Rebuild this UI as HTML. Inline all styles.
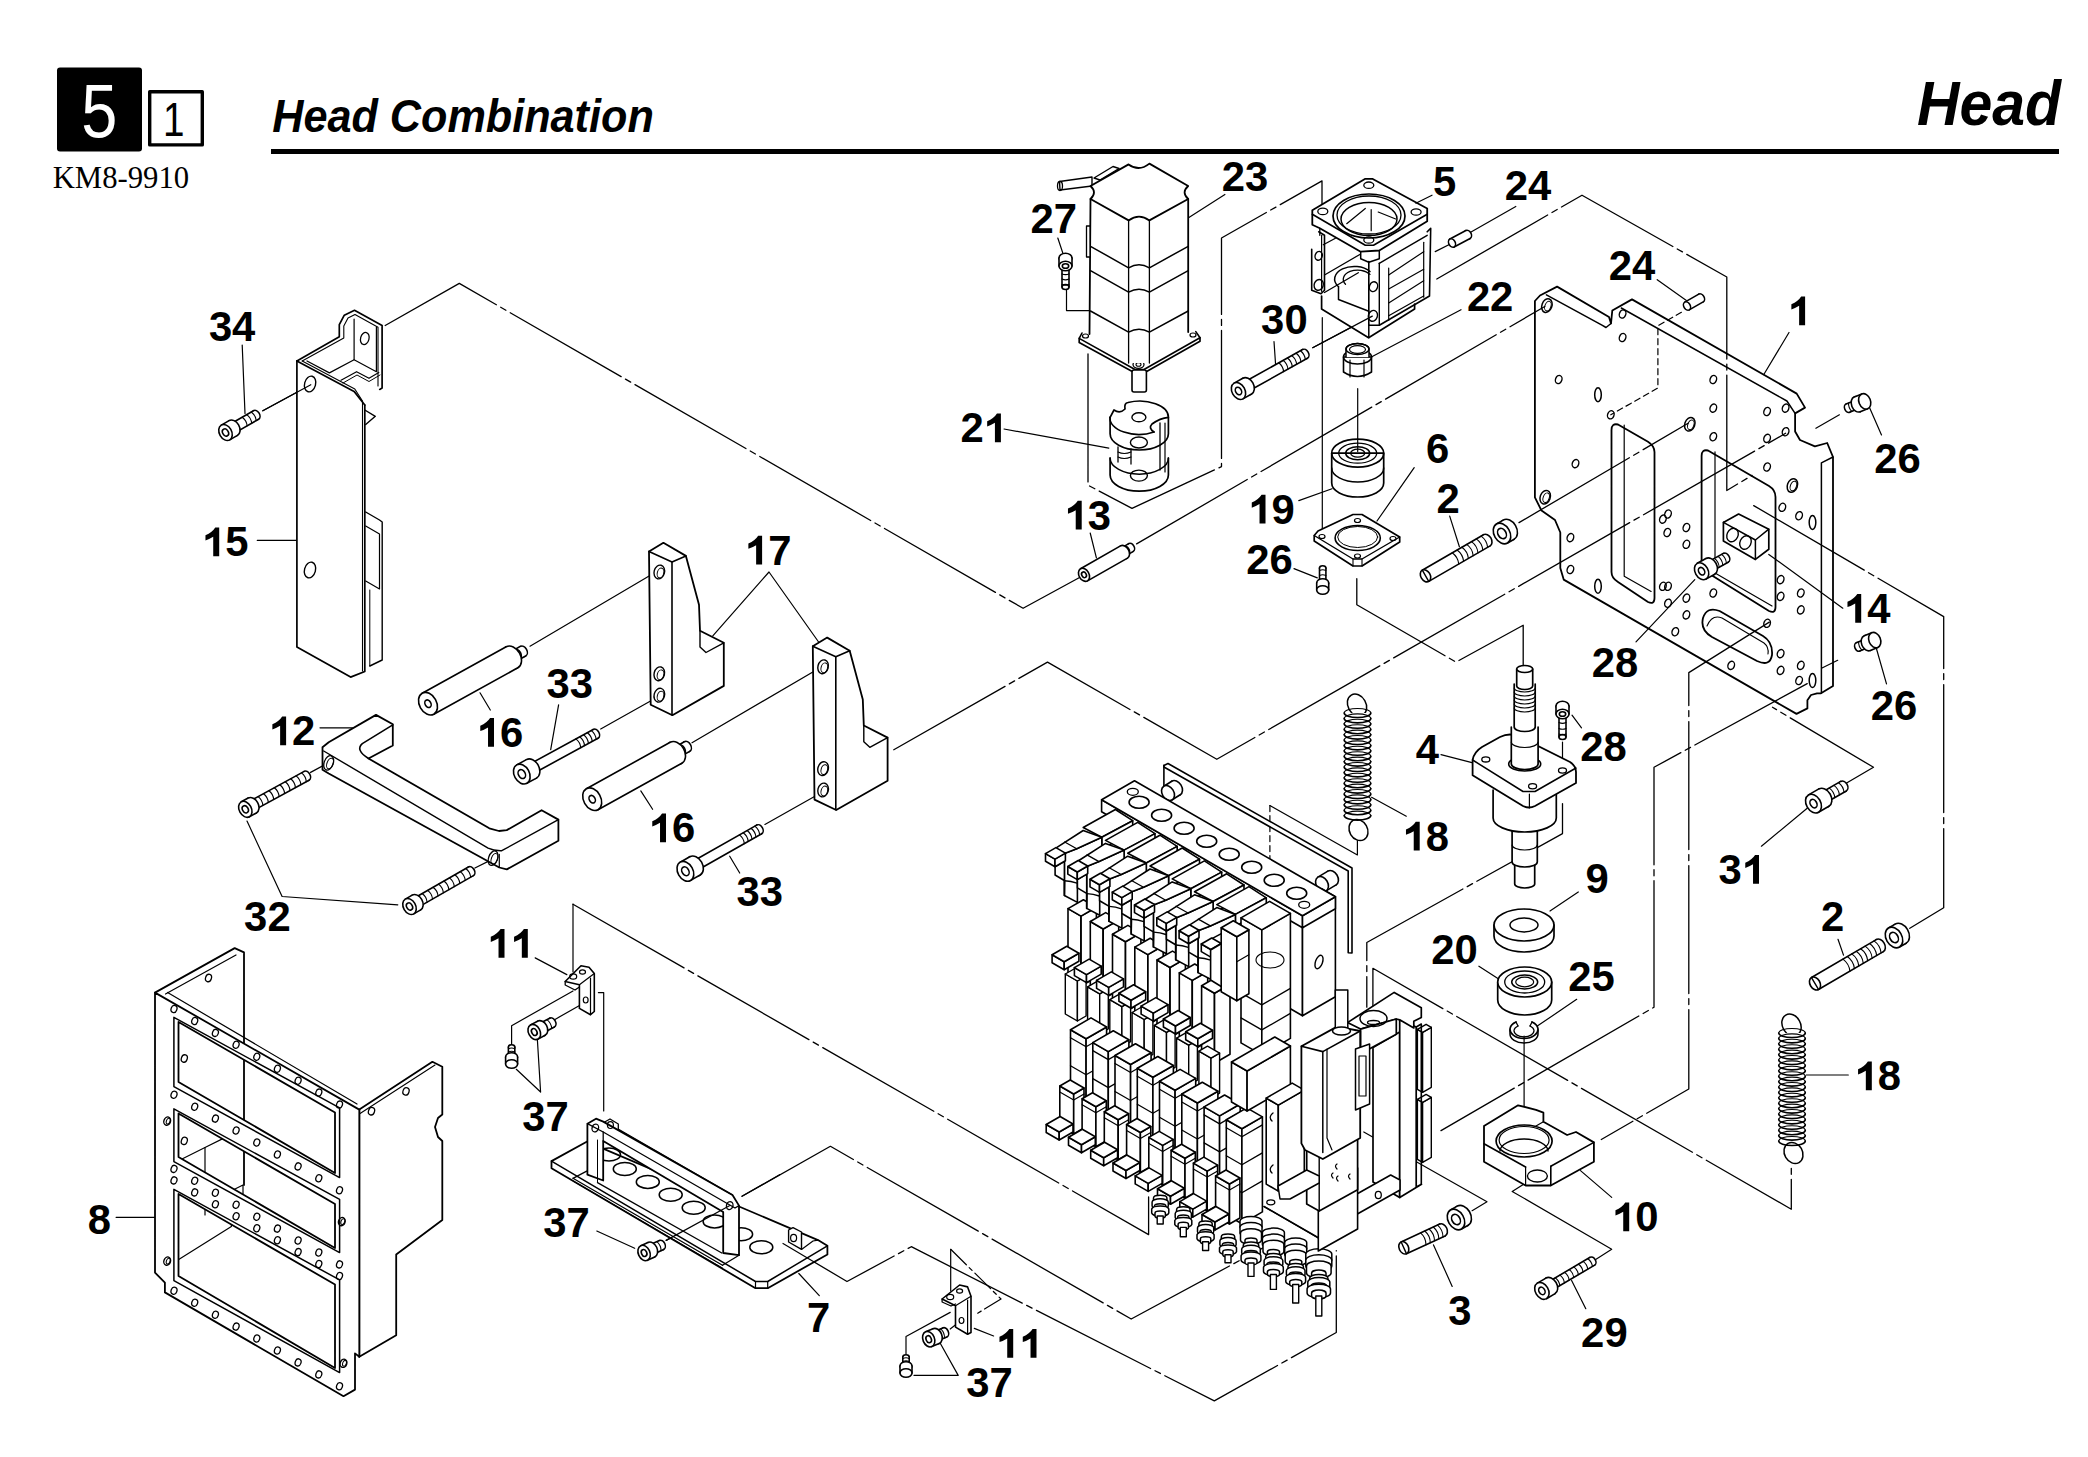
<!DOCTYPE html>
<html><head><meta charset="utf-8"><style>
html,body{margin:0;padding:0;background:#fff;width:2088px;height:1457px;overflow:hidden}
svg{display:block}
</style></head><body>
<svg width="2088" height="1457" viewBox="0 0 2088 1457" stroke="#000" stroke-linejoin="round" stroke-linecap="round" fill="none">
<rect x="57" y="67.5" width="85" height="84" rx="3" fill="#000" stroke="none"/>
<text x="81.2" y="137.2" font-family='"Liberation Sans", sans-serif' font-size="76.6" font-weight="normal" font-style="normal" textLength="36.1" lengthAdjust="spacingAndGlyphs" stroke="none" fill="#fff">5</text>
<rect x="149.7" y="91.7" width="52.6" height="53.2" fill="none" stroke-width="3.4"/>
<text x="163" y="135.5" font-family='"Liberation Sans", sans-serif' font-size="48.7" font-weight="normal" font-style="normal" textLength="21.5" lengthAdjust="spacingAndGlyphs" stroke="none" fill="#000">1</text>
<text x="52.7" y="187.5" font-family='"Liberation Serif", serif' font-size="31.3" font-weight="normal" font-style="normal" textLength="136.5" lengthAdjust="spacingAndGlyphs" stroke="none" fill="#000">KM8-9910</text>
<text x="272.2" y="132" font-family='"Liberation Sans", sans-serif' font-size="46" font-weight="bold" font-style="italic" textLength="381.6" lengthAdjust="spacingAndGlyphs" stroke="none" fill="#000">Head Combination</text>
<text x="1917" y="124.5" font-family='"Liberation Sans", sans-serif' font-size="62.2" font-weight="bold" font-style="italic" textLength="144" lengthAdjust="spacingAndGlyphs" stroke="none" fill="#000">Head</text>
<rect x="271" y="149" width="1788" height="5" fill="#000" stroke="none"/>
<g font-family="&quot;Liberation Sans&quot;, sans-serif">
<g transform="translate(1245 191.4) scale(1.0000 1) translate(-1245 -191.4)">
<text x="1221.8" y="191.4" font-size="41.8" font-weight="bold" stroke="none" fill="#000">2</text>
<text x="1245" y="191.4" font-size="41.8" font-weight="bold" stroke="none" fill="#000">3</text>
</g>
<g transform="translate(1053.6 233.4) scale(1.0000 1) translate(-1053.6 -233.4)">
<text x="1030.5" y="233.4" font-size="41.8" font-weight="bold" stroke="none" fill="#000">2</text>
<text x="1053.8" y="233.4" font-size="41.8" font-weight="bold" stroke="none" fill="#000">7</text>
</g>
<g transform="translate(1444.8 196.2) scale(1.0000 1) translate(-1444.8 -196.2)">
<text x="1433.1" y="196.2" font-size="41.8" font-weight="bold" stroke="none" fill="#000">5</text>
</g>
<g transform="translate(1528.7 199.6) scale(1.0000 1) translate(-1528.7 -199.6)">
<text x="1504.8" y="199.6" font-size="41.8" font-weight="bold" stroke="none" fill="#000">2</text>
<text x="1528.1" y="199.6" font-size="41.8" font-weight="bold" stroke="none" fill="#000">4</text>
</g>
<g transform="translate(1632.6 279.9) scale(1.0000 1) translate(-1632.6 -279.9)">
<text x="1608.7" y="279.9" font-size="41.8" font-weight="bold" stroke="none" fill="#000">2</text>
<text x="1632" y="279.9" font-size="41.8" font-weight="bold" stroke="none" fill="#000">4</text>
</g>
<g transform="translate(1798.2 325.2) scale(1.0000 1) translate(-1798.2 -325.2)">
<path d="M650,1409 L843,1409 L843,0 L550,0 L550,950 Q360,830 170,775 L170,1030 Q500,1170 650,1409 Z" transform="translate(1787.9 325.2) scale(0.02041 -0.02041)" fill="#000" stroke="none"/>
</g>
<g transform="translate(232.5 340.6) scale(1.0000 1) translate(-232.5 -340.6)">
<text x="208.9" y="340.6" font-size="41.8" font-weight="bold" stroke="none" fill="#000">3</text>
<text x="232.1" y="340.6" font-size="41.8" font-weight="bold" stroke="none" fill="#000">4</text>
</g>
<g transform="translate(1284 333.5) scale(1.0000 1) translate(-1284 -333.5)">
<text x="1261.1" y="333.5" font-size="41.8" font-weight="bold" stroke="none" fill="#000">3</text>
<text x="1284.4" y="333.5" font-size="41.8" font-weight="bold" stroke="none" fill="#000">0</text>
</g>
<g transform="translate(1490 310.9) scale(1.0000 1) translate(-1490 -310.9)">
<text x="1466.9" y="310.9" font-size="41.8" font-weight="bold" stroke="none" fill="#000">2</text>
<text x="1490.1" y="310.9" font-size="41.8" font-weight="bold" stroke="none" fill="#000">2</text>
</g>
<g transform="translate(981.4 442.2) scale(1.0000 1) translate(-981.4 -442.2)">
<text x="960.4" y="442.2" font-size="41.8" font-weight="bold" stroke="none" fill="#000">2</text>
<path d="M650,1409 L843,1409 L843,0 L550,0 L550,950 Q360,830 170,775 L170,1030 Q500,1170 650,1409 Z" transform="translate(983.7 442.2) scale(0.02041 -0.02041)" fill="#000" stroke="none"/>
</g>
<g transform="translate(1897.5 473.2) scale(1.0000 1) translate(-1897.5 -473.2)">
<text x="1874.3" y="473.2" font-size="41.8" font-weight="bold" stroke="none" fill="#000">2</text>
<text x="1897.5" y="473.2" font-size="41.8" font-weight="bold" stroke="none" fill="#000">6</text>
</g>
<g transform="translate(1437.5 462.5) scale(1.0000 1) translate(-1437.5 -462.5)">
<text x="1425.9" y="462.5" font-size="41.8" font-weight="bold" stroke="none" fill="#000">6</text>
</g>
<g transform="translate(226.4 556.2) scale(1.0000 1) translate(-226.4 -556.2)">
<path d="M650,1409 L843,1409 L843,0 L550,0 L550,950 Q360,830 170,775 L170,1030 Q500,1170 650,1409 Z" transform="translate(202 556.2) scale(0.02041 -0.02041)" fill="#000" stroke="none"/>
<text x="225.2" y="556.2" font-size="41.8" font-weight="bold" stroke="none" fill="#000">5</text>
</g>
<g transform="translate(1088.7 529.6) scale(1.0000 1) translate(-1088.7 -529.6)">
<path d="M650,1409 L843,1409 L843,0 L550,0 L550,950 Q360,830 170,775 L170,1030 Q500,1170 650,1409 Z" transform="translate(1064.5 529.6) scale(0.02041 -0.02041)" fill="#000" stroke="none"/>
<text x="1087.7" y="529.6" font-size="41.8" font-weight="bold" stroke="none" fill="#000">3</text>
</g>
<g transform="translate(1272.5 523.5) scale(1.0000 1) translate(-1272.5 -523.5)">
<path d="M650,1409 L843,1409 L843,0 L550,0 L550,950 Q360,830 170,775 L170,1030 Q500,1170 650,1409 Z" transform="translate(1248.3 523.5) scale(0.02041 -0.02041)" fill="#000" stroke="none"/>
<text x="1271.5" y="523.5" font-size="41.8" font-weight="bold" stroke="none" fill="#000">9</text>
</g>
<g transform="translate(1448 512.5) scale(1.0000 1) translate(-1448 -512.5)">
<text x="1436.5" y="512.5" font-size="41.8" font-weight="bold" stroke="none" fill="#000">2</text>
</g>
<g transform="translate(1269.4 574.4) scale(1.0000 1) translate(-1269.4 -574.4)">
<text x="1246.2" y="574.4" font-size="41.8" font-weight="bold" stroke="none" fill="#000">2</text>
<text x="1269.4" y="574.4" font-size="41.8" font-weight="bold" stroke="none" fill="#000">6</text>
</g>
<g transform="translate(769 564.6) scale(1.0000 1) translate(-769 -564.6)">
<path d="M650,1409 L843,1409 L843,0 L550,0 L550,950 Q360,830 170,775 L170,1030 Q500,1170 650,1409 Z" transform="translate(744.9 564.6) scale(0.02041 -0.02041)" fill="#000" stroke="none"/>
<text x="768.2" y="564.6" font-size="41.8" font-weight="bold" stroke="none" fill="#000">7</text>
</g>
<g transform="translate(1868.9 622.8) scale(1.0000 1) translate(-1868.9 -622.8)">
<path d="M650,1409 L843,1409 L843,0 L550,0 L550,950 Q360,830 170,775 L170,1030 Q500,1170 650,1409 Z" transform="translate(1844 622.8) scale(0.02041 -0.02041)" fill="#000" stroke="none"/>
<text x="1867.3" y="622.8" font-size="41.8" font-weight="bold" stroke="none" fill="#000">4</text>
</g>
<g transform="translate(1615 676.6) scale(1.0000 1) translate(-1615 -676.6)">
<text x="1591.7" y="676.6" font-size="41.8" font-weight="bold" stroke="none" fill="#000">2</text>
<text x="1614.9" y="676.6" font-size="41.8" font-weight="bold" stroke="none" fill="#000">8</text>
</g>
<g transform="translate(569.5 698.2) scale(1.0000 1) translate(-569.5 -698.2)">
<text x="546.5" y="698.2" font-size="41.8" font-weight="bold" stroke="none" fill="#000">3</text>
<text x="569.8" y="698.2" font-size="41.8" font-weight="bold" stroke="none" fill="#000">3</text>
</g>
<g transform="translate(1894 720.4) scale(1.0000 1) translate(-1894 -720.4)">
<text x="1870.8" y="720.4" font-size="41.8" font-weight="bold" stroke="none" fill="#000">2</text>
<text x="1894" y="720.4" font-size="41.8" font-weight="bold" stroke="none" fill="#000">6</text>
</g>
<g transform="translate(293 745.2) scale(1.0000 1) translate(-293 -745.2)">
<path d="M650,1409 L843,1409 L843,0 L550,0 L550,950 Q360,830 170,775 L170,1030 Q500,1170 650,1409 Z" transform="translate(268.9 745.2) scale(0.02041 -0.02041)" fill="#000" stroke="none"/>
<text x="292.1" y="745.2" font-size="41.8" font-weight="bold" stroke="none" fill="#000">2</text>
</g>
<g transform="translate(501 746.8) scale(1.0000 1) translate(-501 -746.8)">
<path d="M650,1409 L843,1409 L843,0 L550,0 L550,950 Q360,830 170,775 L170,1030 Q500,1170 650,1409 Z" transform="translate(476.8 746.8) scale(0.02041 -0.02041)" fill="#000" stroke="none"/>
<text x="500" y="746.8" font-size="41.8" font-weight="bold" stroke="none" fill="#000">6</text>
</g>
<g transform="translate(1427.6 763.8) scale(1.0000 1) translate(-1427.6 -763.8)">
<text x="1415.8" y="763.8" font-size="41.8" font-weight="bold" stroke="none" fill="#000">4</text>
</g>
<g transform="translate(1603.5 760.6) scale(1.0000 1) translate(-1603.5 -760.6)">
<text x="1580.2" y="760.6" font-size="41.8" font-weight="bold" stroke="none" fill="#000">2</text>
<text x="1603.4" y="760.6" font-size="41.8" font-weight="bold" stroke="none" fill="#000">8</text>
</g>
<g transform="translate(1426.8 850.6) scale(1.0000 1) translate(-1426.8 -850.6)">
<path d="M650,1409 L843,1409 L843,0 L550,0 L550,950 Q360,830 170,775 L170,1030 Q500,1170 650,1409 Z" transform="translate(1402.5 850.6) scale(0.02041 -0.02041)" fill="#000" stroke="none"/>
<text x="1425.7" y="850.6" font-size="41.8" font-weight="bold" stroke="none" fill="#000">8</text>
</g>
<g transform="translate(673 842.2) scale(1.0000 1) translate(-673 -842.2)">
<path d="M650,1409 L843,1409 L843,0 L550,0 L550,950 Q360,830 170,775 L170,1030 Q500,1170 650,1409 Z" transform="translate(648.8 842.2) scale(0.02041 -0.02041)" fill="#000" stroke="none"/>
<text x="672" y="842.2" font-size="41.8" font-weight="bold" stroke="none" fill="#000">6</text>
</g>
<g transform="translate(1739.3 883.7) scale(1.0000 1) translate(-1739.3 -883.7)">
<text x="1718.6" y="883.7" font-size="41.8" font-weight="bold" stroke="none" fill="#000">3</text>
<path d="M650,1409 L843,1409 L843,0 L550,0 L550,950 Q360,830 170,775 L170,1030 Q500,1170 650,1409 Z" transform="translate(1741.8 883.7) scale(0.02041 -0.02041)" fill="#000" stroke="none"/>
</g>
<g transform="translate(1597.2 893.2) scale(1.0000 1) translate(-1597.2 -893.2)">
<text x="1585.6" y="893.2" font-size="41.8" font-weight="bold" stroke="none" fill="#000">9</text>
</g>
<g transform="translate(759.5 906.2) scale(1.0000 1) translate(-759.5 -906.2)">
<text x="736.5" y="906.2" font-size="41.8" font-weight="bold" stroke="none" fill="#000">3</text>
<text x="759.8" y="906.2" font-size="41.8" font-weight="bold" stroke="none" fill="#000">3</text>
</g>
<g transform="translate(267 931.2) scale(1.0000 1) translate(-267 -931.2)">
<text x="244.1" y="931.2" font-size="41.8" font-weight="bold" stroke="none" fill="#000">3</text>
<text x="267.4" y="931.2" font-size="41.8" font-weight="bold" stroke="none" fill="#000">2</text>
</g>
<g transform="translate(1832.5 931.1) scale(1.0000 1) translate(-1832.5 -931.1)">
<text x="1821" y="931.1" font-size="41.8" font-weight="bold" stroke="none" fill="#000">2</text>
</g>
<g transform="translate(509.3 957.7) scale(1.0000 1) translate(-509.3 -957.7)">
<path d="M650,1409 L843,1409 L843,0 L550,0 L550,950 Q360,830 170,775 L170,1030 Q500,1170 650,1409 Z" transform="translate(487.3 957.7) scale(0.02041 -0.02041)" fill="#000" stroke="none"/>
<path d="M650,1409 L843,1409 L843,0 L550,0 L550,950 Q360,830 170,775 L170,1030 Q500,1170 650,1409 Z" transform="translate(510.6 957.7) scale(0.02041 -0.02041)" fill="#000" stroke="none"/>
</g>
<g transform="translate(1454.4 964.2) scale(1.0000 1) translate(-1454.4 -964.2)">
<text x="1431.3" y="964.2" font-size="41.8" font-weight="bold" stroke="none" fill="#000">2</text>
<text x="1454.5" y="964.2" font-size="41.8" font-weight="bold" stroke="none" fill="#000">0</text>
</g>
<g transform="translate(1591.7 991) scale(1.0000 1) translate(-1591.7 -991)">
<text x="1568.3" y="991" font-size="41.8" font-weight="bold" stroke="none" fill="#000">2</text>
<text x="1591.6" y="991" font-size="41.8" font-weight="bold" stroke="none" fill="#000">5</text>
</g>
<g transform="translate(1878.9 1090.2) scale(1.0000 1) translate(-1878.9 -1090.2)">
<path d="M650,1409 L843,1409 L843,0 L550,0 L550,950 Q360,830 170,775 L170,1030 Q500,1170 650,1409 Z" transform="translate(1854.6 1090.2) scale(0.02041 -0.02041)" fill="#000" stroke="none"/>
<text x="1877.8" y="1090.2" font-size="41.8" font-weight="bold" stroke="none" fill="#000">8</text>
</g>
<g transform="translate(545 1131.2) scale(1.0000 1) translate(-545 -1131.2)">
<text x="522.2" y="1131.2" font-size="41.8" font-weight="bold" stroke="none" fill="#000">3</text>
<text x="545.4" y="1131.2" font-size="41.8" font-weight="bold" stroke="none" fill="#000">7</text>
</g>
<g transform="translate(99.4 1234.2) scale(1.0000 1) translate(-99.4 -1234.2)">
<text x="87.8" y="1234.2" font-size="41.8" font-weight="bold" stroke="none" fill="#000">8</text>
</g>
<g transform="translate(1636.1 1231.2) scale(1.0000 1) translate(-1636.1 -1231.2)">
<path d="M650,1409 L843,1409 L843,0 L550,0 L550,950 Q360,830 170,775 L170,1030 Q500,1170 650,1409 Z" transform="translate(1612 1231.2) scale(0.02041 -0.02041)" fill="#000" stroke="none"/>
<text x="1635.2" y="1231.2" font-size="41.8" font-weight="bold" stroke="none" fill="#000">0</text>
</g>
<g transform="translate(566 1236.9) scale(1.0000 1) translate(-566 -1236.9)">
<text x="543.2" y="1236.9" font-size="41.8" font-weight="bold" stroke="none" fill="#000">3</text>
<text x="566.4" y="1236.9" font-size="41.8" font-weight="bold" stroke="none" fill="#000">7</text>
</g>
<g transform="translate(818.6 1331.5) scale(1.0000 1) translate(-818.6 -1331.5)">
<text x="807" y="1331.5" font-size="41.8" font-weight="bold" stroke="none" fill="#000">7</text>
</g>
<g transform="translate(1459.5 1324.7) scale(1.0000 1) translate(-1459.5 -1324.7)">
<text x="1448.2" y="1324.7" font-size="41.8" font-weight="bold" stroke="none" fill="#000">3</text>
</g>
<g transform="translate(1604.3 1347) scale(1.0000 1) translate(-1604.3 -1347)">
<text x="1581.1" y="1347" font-size="41.8" font-weight="bold" stroke="none" fill="#000">2</text>
<text x="1604.4" y="1347" font-size="41.8" font-weight="bold" stroke="none" fill="#000">9</text>
</g>
<g transform="translate(1018 1357.8) scale(1.0000 1) translate(-1018 -1357.8)">
<path d="M650,1409 L843,1409 L843,0 L550,0 L550,950 Q360,830 170,775 L170,1030 Q500,1170 650,1409 Z" transform="translate(996 1357.8) scale(0.02041 -0.02041)" fill="#000" stroke="none"/>
<path d="M650,1409 L843,1409 L843,0 L550,0 L550,950 Q360,830 170,775 L170,1030 Q500,1170 650,1409 Z" transform="translate(1019.3 1357.8) scale(0.02041 -0.02041)" fill="#000" stroke="none"/>
</g>
<g transform="translate(989 1396.7) scale(1.0000 1) translate(-989 -1396.7)">
<text x="966.2" y="1396.7" font-size="41.8" font-weight="bold" stroke="none" fill="#000">3</text>
<text x="989.4" y="1396.7" font-size="41.8" font-weight="bold" stroke="none" fill="#000">7</text>
</g>
</g>
<path d="M1534.9,301 L1540,295.5 L1557.1,286.6 L1609,317 L1611,323.5 L1612.3,310.5 L1632,299.4 L1796.7,393.6 L1805,407.6 L1795.1,413.4 L1795.1,431.5 L1800,440 L1814.9,446.3 L1827.2,443 L1833,457 L1833,686 L1821,693.3 L1817,693.3 L1811,695 L1807.4,700.2 L1807.4,708.4 L1796.5,713.9 L1563.7,579.6 L1560.3,568 L1560.3,532.5 L1555,520 L1541.5,510.6 L1534.9,497.4 Z M1611.5,430 Q1611.5,423 1618,424.5 L1648,441.7 Q1654.5,446 1654.5,452 L1654.5,598 Q1654.5,605 1648,602 L1618,582 Q1611.5,578 1611.5,572 Z M1701.6,456 Q1701.6,449 1708,450.5 L1769,486 Q1775.5,490 1775.5,497 L1775.5,607 Q1775.5,614 1769,611 L1708,573 Q1701.6,569 1701.6,563 Z M1719.6,611 L1763,636 Q1773,642 1772,655 Q1770,667 1757,661 L1712,637 Q1700,630 1703,618 Q1707,606 1719.6,611 Z" fill="#fff" fill-rule="evenodd" stroke-width="1.8"/>
<polyline points="1534.9,301 1546.4,294.8" fill="none" stroke-width="0"/>
<polyline points="1546.4,294.8 1602.4,325.3 1606,327.5 1611,323.5" fill="none" stroke-width="1.5"/>
<polyline points="1621.3,308 1786.9,401 1795.1,413.4" fill="none" stroke-width="1.5"/>
<polyline points="1833,457 1821.4,462.8 1821.4,693" fill="none" stroke-width="1.5"/>
<polyline points="1814.9,446.3 1821.4,462.8" fill="none" stroke-width="0"/>
<polyline points="1624.2,425 1624.2,576.3 1651.1,591.4" fill="none" stroke-width="1.2"/>
<polyline points="1715,451.8 1715,572.9 1772,606" fill="none" stroke-width="1.2"/>
<path d="M1707,626 Q1712,614 1722,618 L1764,643 Q1769,647 1768,654" fill="none" stroke-width="1.1"/>
<ellipse cx="1546.9" cy="305.6" rx="5" ry="7" fill="none" stroke-width="1.5" transform="rotate(20 1546.9 305.6)"/>
<ellipse cx="1547.9" cy="306.1" rx="3" ry="5" fill="none" stroke-width="1" transform="rotate(20 1547.9 306.1)"/>
<ellipse cx="1622.6" cy="314" rx="3.2" ry="4.2" fill="none" stroke-width="1.4" transform="rotate(20 1622.6 314)"/>
<ellipse cx="1622.6" cy="337.5" rx="3.2" ry="4.2" fill="none" stroke-width="1.4" transform="rotate(20 1622.6 337.5)"/>
<ellipse cx="1558.7" cy="379.5" rx="3.2" ry="4.2" fill="none" stroke-width="1.4" transform="rotate(20 1558.7 379.5)"/>
<ellipse cx="1598" cy="394.7" rx="3.3" ry="7" fill="none" stroke-width="1.5"/>
<ellipse cx="1610.8" cy="414.8" rx="3.2" ry="4.2" fill="none" stroke-width="1.4" transform="rotate(20 1610.8 414.8)"/>
<ellipse cx="1689.8" cy="424.3" rx="5" ry="7" fill="none" stroke-width="1.5" transform="rotate(20 1689.8 424.3)"/>
<ellipse cx="1690.8" cy="424.8" rx="3" ry="5" fill="none" stroke-width="1" transform="rotate(20 1690.8 424.8)"/>
<ellipse cx="1713.3" cy="379.5" rx="3.2" ry="4.2" fill="none" stroke-width="1.4" transform="rotate(20 1713.3 379.5)"/>
<ellipse cx="1713.3" cy="408.1" rx="3.2" ry="4.2" fill="none" stroke-width="1.4" transform="rotate(20 1713.3 408.1)"/>
<ellipse cx="1713.3" cy="436.7" rx="3.2" ry="4.2" fill="none" stroke-width="1.4" transform="rotate(20 1713.3 436.7)"/>
<ellipse cx="1767.1" cy="411.5" rx="3.2" ry="4.2" fill="none" stroke-width="1.4" transform="rotate(20 1767.1 411.5)"/>
<ellipse cx="1785.6" cy="408.1" rx="3.2" ry="4.2" fill="none" stroke-width="1.4" transform="rotate(20 1785.6 408.1)"/>
<ellipse cx="1785.6" cy="431.7" rx="3.2" ry="4.2" fill="none" stroke-width="1.4" transform="rotate(20 1785.6 431.7)"/>
<ellipse cx="1767.1" cy="438.4" rx="3.2" ry="4.2" fill="none" stroke-width="1.4" transform="rotate(20 1767.1 438.4)"/>
<ellipse cx="1767.1" cy="467" rx="3.2" ry="4.2" fill="none" stroke-width="1.4" transform="rotate(20 1767.1 467)"/>
<ellipse cx="1792.4" cy="485.5" rx="5" ry="7" fill="none" stroke-width="1.5" transform="rotate(20 1792.4 485.5)"/>
<ellipse cx="1793.4" cy="486" rx="3" ry="5" fill="none" stroke-width="1" transform="rotate(20 1793.4 486)"/>
<ellipse cx="1782.3" cy="507.3" rx="3.2" ry="4.2" fill="none" stroke-width="1.4" transform="rotate(20 1782.3 507.3)"/>
<ellipse cx="1799.1" cy="515.7" rx="3.2" ry="4.2" fill="none" stroke-width="1.4" transform="rotate(20 1799.1 515.7)"/>
<ellipse cx="1812.5" cy="522.4" rx="3.3" ry="7" fill="none" stroke-width="1.5"/>
<ellipse cx="1575.5" cy="463.6" rx="3.2" ry="4.2" fill="none" stroke-width="1.4" transform="rotate(20 1575.5 463.6)"/>
<ellipse cx="1545.2" cy="497.2" rx="5" ry="7" fill="none" stroke-width="1.5" transform="rotate(20 1545.2 497.2)"/>
<ellipse cx="1546.2" cy="497.7" rx="3" ry="5" fill="none" stroke-width="1" transform="rotate(20 1546.2 497.7)"/>
<ellipse cx="1570.4" cy="537.6" rx="3.2" ry="4.2" fill="none" stroke-width="1.4" transform="rotate(20 1570.4 537.6)"/>
<ellipse cx="1570.4" cy="569.5" rx="3.2" ry="4.2" fill="none" stroke-width="1.4" transform="rotate(20 1570.4 569.5)"/>
<ellipse cx="1598" cy="586.3" rx="3.3" ry="7" fill="none" stroke-width="1.5"/>
<ellipse cx="1662.9" cy="519.1" rx="3.2" ry="4.2" fill="none" stroke-width="1.4" transform="rotate(20 1662.9 519.1)"/>
<ellipse cx="1668" cy="514" rx="3.2" ry="4.2" fill="none" stroke-width="1.4" transform="rotate(20 1668 514)"/>
<ellipse cx="1667.3" cy="532.5" rx="3.2" ry="4.2" fill="none" stroke-width="1.4" transform="rotate(20 1667.3 532.5)"/>
<ellipse cx="1686.4" cy="527.5" rx="3.2" ry="4.2" fill="none" stroke-width="1.4" transform="rotate(20 1686.4 527.5)"/>
<ellipse cx="1686.4" cy="544.3" rx="3.2" ry="4.2" fill="none" stroke-width="1.4" transform="rotate(20 1686.4 544.3)"/>
<ellipse cx="1662.9" cy="586.3" rx="3.2" ry="4.2" fill="none" stroke-width="1.4" transform="rotate(20 1662.9 586.3)"/>
<ellipse cx="1668" cy="586.3" rx="3.2" ry="4.2" fill="none" stroke-width="1.4" transform="rotate(20 1668 586.3)"/>
<ellipse cx="1668" cy="603.2" rx="3.2" ry="4.2" fill="none" stroke-width="1.4" transform="rotate(20 1668 603.2)"/>
<ellipse cx="1686.4" cy="598.1" rx="3.2" ry="4.2" fill="none" stroke-width="1.4" transform="rotate(20 1686.4 598.1)"/>
<ellipse cx="1686.4" cy="614.9" rx="3.2" ry="4.2" fill="none" stroke-width="1.4" transform="rotate(20 1686.4 614.9)"/>
<ellipse cx="1675.3" cy="631.7" rx="3.2" ry="4.2" fill="none" stroke-width="1.4" transform="rotate(20 1675.3 631.7)"/>
<ellipse cx="1713.3" cy="593" rx="3.2" ry="4.2" fill="none" stroke-width="1.4" transform="rotate(20 1713.3 593)"/>
<ellipse cx="1731.2" cy="665.4" rx="3.2" ry="4.2" fill="none" stroke-width="1.4" transform="rotate(20 1731.2 665.4)"/>
<ellipse cx="1767.1" cy="623.3" rx="3.2" ry="4.2" fill="none" stroke-width="1.4" transform="rotate(20 1767.1 623.3)"/>
<ellipse cx="1780.6" cy="579.6" rx="3.2" ry="4.2" fill="none" stroke-width="1.4" transform="rotate(20 1780.6 579.6)"/>
<ellipse cx="1780.6" cy="596.4" rx="3.2" ry="4.2" fill="none" stroke-width="1.4" transform="rotate(20 1780.6 596.4)"/>
<ellipse cx="1800.8" cy="593" rx="3.2" ry="4.2" fill="none" stroke-width="1.4" transform="rotate(20 1800.8 593)"/>
<ellipse cx="1800.8" cy="609.9" rx="3.2" ry="4.2" fill="none" stroke-width="1.4" transform="rotate(20 1800.8 609.9)"/>
<ellipse cx="1780.6" cy="653.6" rx="3.2" ry="4.2" fill="none" stroke-width="1.4" transform="rotate(20 1780.6 653.6)"/>
<ellipse cx="1780.6" cy="670.4" rx="3.2" ry="4.2" fill="none" stroke-width="1.4" transform="rotate(20 1780.6 670.4)"/>
<ellipse cx="1800.8" cy="665.4" rx="3.2" ry="4.2" fill="none" stroke-width="1.4" transform="rotate(20 1800.8 665.4)"/>
<ellipse cx="1799.1" cy="680.5" rx="3.2" ry="4.2" fill="none" stroke-width="1.4" transform="rotate(20 1799.1 680.5)"/>
<ellipse cx="1812.5" cy="680.5" rx="3.3" ry="7" fill="none" stroke-width="1.5"/>
<polyline points="385.2,325.5 459.3,283.4 1023.1,608.3 1080,577.2" fill="none" stroke-width="1.3" stroke-dasharray="128 5 6 5"/>
<polyline points="1136.6,543.9 1544.8,306.5" fill="none" stroke-width="1.3" stroke-dasharray="128 5 6 5"/>
<polyline points="893.8,749.7 1047.5,662.1 1216.8,759.3 1785.6,433.3" fill="none" stroke-width="1.3" stroke-dasharray="128 5 6 5"/>
<polyline points="1519,522.6 1688.1,423.3" fill="none" stroke-width="1.3" stroke-dasharray="128 5 6 5"/>
<polyline points="1088,353.9 1088,485.2 1132,508.4 1221.5,466.6 1221.5,238 1322,180.9 1322,208.7" fill="none" stroke-width="1.3" stroke-dasharray="128 5 6 5"/>
<polyline points="1322.3,317.7 1322.3,535.5" fill="none" stroke-width="1.2"/>
<polyline points="1322.3,585 1322.3,590" fill="none" stroke-width="1.2"/>
<polyline points="1357.7,388.7 1357.7,451.6" fill="none" stroke-width="1.2"/>
<polyline points="1356.8,578.7 1356.8,604.8 1456,662.1 1523.2,625.3 1523.2,667" fill="none" stroke-width="1.3" stroke-dasharray="128 5 6 5"/>
<polyline points="1435.2,251.6 1451.3,243.5" fill="none" stroke-width="1.2"/>
<polyline points="1436.8,279 1582,195.2 1726.8,277 1726.8,490.5 1752,475.4" fill="none" stroke-width="1.3" stroke-dasharray="128 5 6 5"/>
<polyline points="1681.4,312.3 1657.9,325.7 1657.9,388 1610.8,414.8" fill="none" stroke-width="1.2" stroke-dasharray="6 4"/>
<polyline points="1753.7,505.6 1943.7,616.6 1943.7,907.8 1909.8,928.3" fill="none" stroke-width="1.3" stroke-dasharray="128 5 6 5"/>
<polyline points="1846.6,783 1873.5,767.3 1772.5,707.3" fill="none" stroke-width="1.3" stroke-dasharray="128 5 6 5"/>
<polyline points="1769.3,622.1 1688.8,672.6 1688.8,1089 1601.3,1139.5" fill="none" stroke-width="1.3" stroke-dasharray="128 5 6 5"/>
<polyline points="1807.2,683.6 1654,767.3 1654,1007.2 1441,1130.6" fill="none" stroke-width="1.3" stroke-dasharray="128 5 6 5"/>
<polyline points="1562.5,803.6 1562.5,833.6 1366.8,942.5 1366.8,1007.2" fill="none" stroke-width="1.3" stroke-dasharray="128 5 6 5"/>
<polyline points="1372.9,1015.6 1372.9,968.3 1791.3,1209.2 1791.3,1166.2" fill="none" stroke-width="1.3" stroke-dasharray="128 5 6 5"/>
<polyline points="1472.1,1210.7 1487,1201.8 1363.8,1132" fill="none" stroke-width="1.2"/>
<polyline points="1595.3,1259.7 1611.7,1249.3 1512.2,1191.4 1536,1176.6" fill="none" stroke-width="1.2"/>
<polyline points="1357.4,840.6 1357.4,855 1269.9,805.6" fill="none" stroke-width="1.2"/>
<polyline points="1269.9,805.6 1269.9,966" fill="none" stroke-width="1.2" stroke-dasharray="6 4"/>
<polyline points="742,1196.2 830.4,1146.3 1131.2,1319 1282.7,1237.3" fill="none" stroke-width="1.3" stroke-dasharray="128 5 6 5"/>
<polyline points="573,972 573,904.2" fill="none" stroke-width="1.2"/>
<polyline points="573,904.2 1148.6,1234.6 1148.6,1197" fill="none" stroke-width="1.3" stroke-dasharray="128 5 6 5"/>
<polyline points="783,1243.5 847,1281.5 911.3,1246.7 1214.3,1400.9 1336.3,1332.5 1336.3,1250.7" fill="none" stroke-width="1.3" stroke-dasharray="128 5 6 5"/>
<polyline points="950.7,1290.9 950.7,1249.3" fill="none" stroke-width="1.2"/>
<polyline points="950.7,1249.3 1001,1299 975.6,1314.5" fill="none" stroke-width="1.2" stroke-dasharray="22 4 4 4"/>
<polyline points="598.4,992.6 603.7,992.6 603.7,1111" fill="none" stroke-width="1.2"/>
<polyline points="1524.1,1036 1524.1,1141" fill="none" stroke-width="1.2"/>
<polyline points="242.2,345 245,413.6" fill="none" stroke-width="1.2"/>
<polyline points="262.8,410.8 310.8,384.7" fill="none" stroke-width="1.2"/>
<polyline points="257.3,540.4 297,540.4" fill="none" stroke-width="1.2"/>
<polyline points="712.8,635.9 769,572 818.6,642" fill="none" stroke-width="1.2"/>
<polyline points="490.3,710 480,692.8" fill="none" stroke-width="1.2"/>
<polyline points="530,646.2 655.9,572" fill="none" stroke-width="1.2"/>
<polyline points="558.6,704.8 550.7,749.7" fill="none" stroke-width="1.2"/>
<polyline points="600.7,729 655.9,698" fill="none" stroke-width="1.2"/>
<polyline points="692,742.8 821.4,666.9" fill="none" stroke-width="1.2"/>
<polyline points="640.8,790.9 652.6,809.3" fill="none" stroke-width="1.2"/>
<polyline points="729.7,856.2 739.7,873" fill="none" stroke-width="1.2"/>
<polyline points="764.9,824.4 818.5,794.2" fill="none" stroke-width="1.2"/>
<polyline points="320,727.8 352.5,727.8" fill="none" stroke-width="1.2"/>
<polyline points="247,821 282.1,896.5 397.8,904.8" fill="none" stroke-width="1.2"/>
<polyline points="310.6,772.4 329,762.4" fill="none" stroke-width="1.2"/>
<polyline points="474.9,868 491.7,859.6" fill="none" stroke-width="1.2"/>
<polyline points="1004,429 1108.8,448.1" fill="none" stroke-width="1.2"/>
<polyline points="1188.9,217.5 1224.9,194.5" fill="none" stroke-width="1.2"/>
<polyline points="1057.8,238 1064,256.6" fill="none" stroke-width="1.2"/>
<polyline points="1066.5,289 1066.5,310.6 1088.7,310.6" fill="none" stroke-width="1.2"/>
<polyline points="1090.2,533 1096.4,557.8" fill="none" stroke-width="1.2"/>
<polyline points="1274,341.5 1275.6,364.7" fill="none" stroke-width="1.2"/>
<polyline points="1312.7,347.7 1372.3,316.1" fill="none" stroke-width="1.2"/>
<polyline points="1298.8,500.6 1332,488.7" fill="none" stroke-width="1.2"/>
<polyline points="1294,568.6 1317.3,577.9" fill="none" stroke-width="1.2"/>
<polyline points="1432,195.2 1415.8,203.2" fill="none" stroke-width="1.2"/>
<polyline points="1515.8,206.5 1470.6,232.3" fill="none" stroke-width="1.2"/>
<polyline points="1461,309.7 1372.3,356.5" fill="none" stroke-width="1.2"/>
<polyline points="1414.2,467.7 1377,521" fill="none" stroke-width="1.2"/>
<polyline points="1449.7,516.1 1459.4,546.8" fill="none" stroke-width="1.2"/>
<polyline points="1789,332.5 1763.8,374.5" fill="none" stroke-width="1.2"/>
<polyline points="1657.2,279.7 1686.4,300.5" fill="none" stroke-width="1.2"/>
<polyline points="1881.5,435 1869.7,408.1" fill="none" stroke-width="1.2"/>
<polyline points="1839.4,414.8 1815.9,428.3" fill="none" stroke-width="1.2"/>
<polyline points="1842.8,608.2 1768.8,554.4" fill="none" stroke-width="1.2"/>
<polyline points="1636,641.8 1694.8,579.6" fill="none" stroke-width="1.2"/>
<polyline points="1886.5,683.8 1876.4,648.5" fill="none" stroke-width="1.2"/>
<polyline points="1837.7,660.3 1822,668" fill="none" stroke-width="1.2"/>
<polyline points="1441,754.7 1472,762.6" fill="none" stroke-width="1.2"/>
<polyline points="1581.5,727.8 1572,715.2" fill="none" stroke-width="1.2"/>
<polyline points="1562.5,742 1562.5,768.9" fill="none" stroke-width="1.2"/>
<polyline points="1371.6,797.3 1406.3,816.2" fill="none" stroke-width="1.2"/>
<polyline points="1578.3,892 1550,911" fill="none" stroke-width="1.2"/>
<polyline points="1478.9,966.2 1501,980.4" fill="none" stroke-width="1.2"/>
<polyline points="1576.7,999.3 1537.3,1026.1" fill="none" stroke-width="1.2"/>
<polyline points="1761.4,846.2 1807.2,808.3" fill="none" stroke-width="1.2"/>
<polyline points="1838,939.3 1843.5,955.1" fill="none" stroke-width="1.2"/>
<polyline points="1806.2,1075 1848.3,1075" fill="none" stroke-width="1.2"/>
<polyline points="1611.7,1197.4 1580.5,1170.6" fill="none" stroke-width="1.2"/>
<polyline points="1452.2,1286.4 1433.5,1244.9" fill="none" stroke-width="1.2"/>
<polyline points="1585.8,1308.7 1571.6,1280.5" fill="none" stroke-width="1.2"/>
<polyline points="116.1,1217.3 155,1217.3" fill="none" stroke-width="1.2"/>
<polyline points="535.2,957.9 566.8,974.6" fill="none" stroke-width="1.2"/>
<polyline points="573,991 511.6,1025.7 511.6,1047.8" fill="none" stroke-width="1.2"/>
<polyline points="555,1019.4 585.7,1002" fill="none" stroke-width="1.2"/>
<polyline points="516.3,1069.3 540.6,1092 537.4,1040" fill="none" stroke-width="1.2"/>
<polyline points="596.8,1231 634.7,1248.3" fill="none" stroke-width="1.2"/>
<polyline points="666.2,1240.4 729.4,1205.7" fill="none" stroke-width="1.2"/>
<polyline points="798.8,1273.5 819.3,1295.6" fill="none" stroke-width="1.2"/>
<polyline points="974.3,1328.4 993.6,1336" fill="none" stroke-width="1.2"/>
<polyline points="914,1375.4 958.2,1375.4 939.4,1341.8" fill="none" stroke-width="1.2"/>
<polyline points="950.2,1329 960.4,1321" fill="none" stroke-width="1.2"/>
<polyline points="950.2,1312.4 906,1336.5 906,1354" fill="none" stroke-width="1.2"/>
<ellipse cx="256" cy="415" rx="5" ry="3.6" transform="rotate(60.2 256 415)" fill="#fff" stroke-width="1.6"/>
<polygon points="235.8,432.4 258.5,419.3 253.5,410.7 230.8,423.7" fill="#fff" stroke="none"/>
<polyline points="235.8,432.4 258.5,419.3" fill="none" stroke-width="1.6"/>
<polyline points="230.8,423.7 253.5,410.7" fill="none" stroke-width="1.6"/>
<ellipse cx="233.3" cy="428" rx="5" ry="3.6" transform="rotate(60.2 233.3 428)" fill="#fff" stroke-width="1.6"/>
<path d="M247.1,425.8 Q246.6,420.4 242.2,417.2" stroke-width="1.1"/>
<path d="M251.7,423.2 Q251.1,417.8 246.7,414.6" stroke-width="1.1"/>
<path d="M256.2,420.6 Q255.7,415.2 251.2,412" stroke-width="1.1"/>
<ellipse cx="233.3" cy="428" rx="8.5" ry="6.1" transform="rotate(60.2 233.3 428)" fill="#fff" stroke-width="1.6"/>
<polygon points="229.7,439.9 237.5,435.4 229.1,420.6 221.3,425.1" fill="#fff" stroke="none"/>
<polyline points="229.7,439.9 237.5,435.4" fill="none" stroke-width="1.6"/>
<polyline points="221.3,425.1 229.1,420.6" fill="none" stroke-width="1.6"/>
<ellipse cx="225.5" cy="432.5" rx="8.5" ry="6.1" transform="rotate(60.2 225.5 432.5)" fill="#fff" stroke-width="1.6"/>
<ellipse cx="225.5" cy="432.5" rx="3.8" ry="2.8" transform="rotate(60.2 225.5 432.5)" fill="#fff" stroke-width="1.6"/>
<ellipse cx="306.6" cy="775.8" rx="5" ry="3.6" transform="rotate(61.3 306.6 775.8)" fill="#fff" stroke-width="1.6"/>
<polygon points="254.7,809.9 309,780.2 304.2,771.4 249.9,801.1" fill="#fff" stroke="none"/>
<polyline points="254.7,809.9 309,780.2" fill="none" stroke-width="1.6"/>
<polyline points="249.9,801.1 304.2,771.4" fill="none" stroke-width="1.6"/>
<ellipse cx="252.3" cy="805.5" rx="5" ry="3.6" transform="rotate(61.3 252.3 805.5)" fill="#fff" stroke-width="1.6"/>
<path d="M257.4,808.4 Q257,802.9 252.6,799.6" stroke-width="1.1"/>
<path d="M262.9,805.4 Q262.4,799.9 258.1,796.6" stroke-width="1.1"/>
<path d="M268.3,802.4 Q267.9,797 263.5,793.7" stroke-width="1.1"/>
<path d="M273.7,799.5 Q273.3,794 268.9,790.7" stroke-width="1.1"/>
<path d="M279.1,796.5 Q278.7,791 274.3,787.7" stroke-width="1.1"/>
<path d="M284.6,793.5 Q284.1,788.1 279.8,784.8" stroke-width="1.1"/>
<path d="M290,790.6 Q289.6,785.1 285.2,781.8" stroke-width="1.1"/>
<path d="M295.4,787.6 Q295,782.1 290.6,778.8" stroke-width="1.1"/>
<path d="M300.9,784.6 Q300.4,779.2 296.1,775.9" stroke-width="1.1"/>
<path d="M306.3,781.7 Q305.9,776.2 301.5,772.9" stroke-width="1.1"/>
<ellipse cx="252.3" cy="805.5" rx="8.5" ry="6.1" transform="rotate(61.3 252.3 805.5)" fill="#fff" stroke-width="1.6"/>
<polygon points="249.4,816.8 256.4,812.9 248.2,798 241.2,801.8" fill="#fff" stroke="none"/>
<polyline points="249.4,816.8 256.4,812.9" fill="none" stroke-width="1.6"/>
<polyline points="241.2,801.8 248.2,798" fill="none" stroke-width="1.6"/>
<ellipse cx="245.3" cy="809.3" rx="8.5" ry="6.1" transform="rotate(61.3 245.3 809.3)" fill="#fff" stroke-width="1.6"/>
<ellipse cx="245.3" cy="809.3" rx="3.8" ry="2.8" transform="rotate(61.3 245.3 809.3)" fill="#fff" stroke-width="1.6"/>
<ellipse cx="470.9" cy="871.3" rx="5" ry="3.6" transform="rotate(60.2 470.9 871.3)" fill="#fff" stroke-width="1.6"/>
<polygon points="418.9,906.9 473.4,875.6 468.4,867 414,898.2" fill="#fff" stroke="none"/>
<polyline points="418.9,906.9 473.4,875.6" fill="none" stroke-width="1.6"/>
<polyline points="414,898.2 468.4,867" fill="none" stroke-width="1.6"/>
<ellipse cx="416.4" cy="902.5" rx="5" ry="3.6" transform="rotate(60.2 416.4 902.5)" fill="#fff" stroke-width="1.6"/>
<path d="M421.7,905.3 Q421.1,899.8 416.7,896.6" stroke-width="1.1"/>
<path d="M427.1,902.2 Q426.6,896.7 422.1,893.5" stroke-width="1.1"/>
<path d="M432.5,899.1 Q432,893.6 427.6,890.4" stroke-width="1.1"/>
<path d="M438,895.9 Q437.5,890.5 433,887.3" stroke-width="1.1"/>
<path d="M443.4,892.8 Q442.9,887.4 438.5,884.1" stroke-width="1.1"/>
<path d="M448.9,889.7 Q448.3,884.2 443.9,881" stroke-width="1.1"/>
<path d="M454.3,886.6 Q453.8,881.1 449.4,877.9" stroke-width="1.1"/>
<path d="M459.8,883.4 Q459.2,878 454.8,874.8" stroke-width="1.1"/>
<path d="M465.2,880.3 Q464.7,874.9 460.2,871.6" stroke-width="1.1"/>
<path d="M470.7,877.2 Q470.1,871.7 465.7,868.5" stroke-width="1.1"/>
<ellipse cx="416.4" cy="902.5" rx="8.5" ry="6.1" transform="rotate(60.2 416.4 902.5)" fill="#fff" stroke-width="1.6"/>
<polygon points="413.7,913.9 420.7,909.9 412.2,895.1 405.3,899.1" fill="#fff" stroke="none"/>
<polyline points="413.7,913.9 420.7,909.9" fill="none" stroke-width="1.6"/>
<polyline points="405.3,899.1 412.2,895.1" fill="none" stroke-width="1.6"/>
<ellipse cx="409.5" cy="906.5" rx="8.5" ry="6.1" transform="rotate(60.2 409.5 906.5)" fill="#fff" stroke-width="1.6"/>
<ellipse cx="409.5" cy="906.5" rx="3.8" ry="2.8" transform="rotate(60.2 409.5 906.5)" fill="#fff" stroke-width="1.6"/>
<ellipse cx="595.6" cy="733.9" rx="5" ry="3.6" transform="rotate(61.4 595.6 733.9)" fill="#fff" stroke-width="1.6"/>
<polygon points="533.9,773.2 598,738.3 593.2,729.5 529.1,764.4" fill="#fff" stroke="none"/>
<polyline points="533.9,773.2 598,738.3" fill="none" stroke-width="1.6"/>
<polyline points="529.1,764.4 593.2,729.5" fill="none" stroke-width="1.6"/>
<ellipse cx="531.5" cy="768.8" rx="5" ry="3.6" transform="rotate(61.4 531.5 768.8)" fill="#fff" stroke-width="1.6"/>
<path d="M580.7,747.7 Q580.3,742.3 575.9,738.9" stroke-width="1.1"/>
<path d="M584.5,745.6 Q584.1,740.2 579.7,736.8" stroke-width="1.1"/>
<path d="M588.4,743.5 Q588,738.1 583.6,734.7" stroke-width="1.1"/>
<path d="M592.2,741.4 Q591.8,736 587.4,732.7" stroke-width="1.1"/>
<path d="M596.1,739.3 Q595.7,733.9 591.3,730.6" stroke-width="1.1"/>
<ellipse cx="531.5" cy="768.8" rx="10.5" ry="7.6" transform="rotate(61.4 531.5 768.8)" fill="#fff" stroke-width="1.6"/>
<polygon points="526.8,783.3 536.5,778.1 526.4,759.6 516.8,764.9" fill="#fff" stroke="none"/>
<polyline points="526.8,783.3 536.5,778.1" fill="none" stroke-width="1.6"/>
<polyline points="516.8,764.9 526.4,759.6" fill="none" stroke-width="1.6"/>
<ellipse cx="521.8" cy="774.1" rx="10.5" ry="7.6" transform="rotate(61.4 521.8 774.1)" fill="#fff" stroke-width="1.6"/>
<ellipse cx="521.8" cy="774.1" rx="4.7" ry="3.4" transform="rotate(61.4 521.8 774.1)" fill="#fff" stroke-width="1.6"/>
<ellipse cx="759.2" cy="829.4" rx="5" ry="3.6" transform="rotate(60.4 759.2 829.4)" fill="#fff" stroke-width="1.6"/>
<polygon points="697.4,870.2 761.7,833.7 756.7,825.1 692.5,861.5" fill="#fff" stroke="none"/>
<polyline points="697.4,870.2 761.7,833.7" fill="none" stroke-width="1.6"/>
<polyline points="692.5,861.5 756.7,825.1" fill="none" stroke-width="1.6"/>
<ellipse cx="695" cy="865.9" rx="5" ry="3.6" transform="rotate(60.4 695 865.9)" fill="#fff" stroke-width="1.6"/>
<path d="M744.3,843.6 Q743.8,838.1 739.4,834.9" stroke-width="1.1"/>
<path d="M748.2,841.4 Q747.7,835.9 743.2,832.7" stroke-width="1.1"/>
<path d="M752,839.2 Q751.5,833.8 747.1,830.5" stroke-width="1.1"/>
<path d="M755.9,837 Q755.4,831.6 751,828.3" stroke-width="1.1"/>
<path d="M759.7,834.8 Q759.2,829.4 754.8,826.1" stroke-width="1.1"/>
<ellipse cx="695" cy="865.9" rx="10.5" ry="7.6" transform="rotate(60.4 695 865.9)" fill="#fff" stroke-width="1.6"/>
<polygon points="690.6,880.4 700.1,875 689.8,856.7 680.2,862.2" fill="#fff" stroke="none"/>
<polyline points="690.6,880.4 700.1,875" fill="none" stroke-width="1.6"/>
<polyline points="680.2,862.2 689.8,856.7" fill="none" stroke-width="1.6"/>
<ellipse cx="685.4" cy="871.3" rx="10.5" ry="7.6" transform="rotate(60.4 685.4 871.3)" fill="#fff" stroke-width="1.6"/>
<ellipse cx="685.4" cy="871.3" rx="4.7" ry="3.4" transform="rotate(60.4 685.4 871.3)" fill="#fff" stroke-width="1.6"/>
<ellipse cx="523" cy="651.2" rx="5.5" ry="4" transform="rotate(61.2 523 651.2)" fill="#fff" stroke-width="1.6"/>
<polygon points="519.7,659.3 525.7,656 520.3,646.4 514.3,649.7" fill="#fff" stroke="none"/>
<polyline points="519.7,659.3 525.7,656" fill="none" stroke-width="1.6"/>
<polyline points="514.3,649.7 520.3,646.4" fill="none" stroke-width="1.6"/>
<ellipse cx="517" cy="654.5" rx="5.5" ry="4" transform="rotate(61.2 517 654.5)" fill="#fff" stroke-width="1.6"/>
<ellipse cx="512" cy="657.3" rx="12" ry="8.6" transform="rotate(61.1 512 657.3)" fill="#fff" stroke-width="1.6"/>
<polygon points="433.8,714.2 517.8,667.8 506.2,646.8 422.2,693.2" fill="#fff" stroke="none"/>
<polyline points="433.8,714.2 517.8,667.8" fill="none" stroke-width="1.6"/>
<polyline points="422.2,693.2 506.2,646.8" fill="none" stroke-width="1.6"/>
<ellipse cx="428" cy="703.7" rx="12" ry="8.6" transform="rotate(61.1 428 703.7)" fill="#fff" stroke-width="1.6"/>
<ellipse cx="428" cy="703.7" rx="4" ry="2.9" transform="rotate(61.1 428 703.7)" fill="#fff" stroke-width="1.6"/>
<ellipse cx="687" cy="746.6" rx="5.5" ry="4" transform="rotate(60.5 687 746.6)" fill="#fff" stroke-width="1.6"/>
<polygon points="683.7,754.8 689.7,751.4 684.3,741.8 678.3,745.2" fill="#fff" stroke="none"/>
<polyline points="683.7,754.8 689.7,751.4" fill="none" stroke-width="1.6"/>
<polyline points="678.3,745.2 684.3,741.8" fill="none" stroke-width="1.6"/>
<ellipse cx="681" cy="750" rx="5.5" ry="4" transform="rotate(60.5 681 750)" fill="#fff" stroke-width="1.6"/>
<ellipse cx="676" cy="752.8" rx="12" ry="8.6" transform="rotate(61 676 752.8)" fill="#fff" stroke-width="1.6"/>
<polygon points="598,809.7 681.8,763.3 670.2,742.3 586.4,788.7" fill="#fff" stroke="none"/>
<polyline points="598,809.7 681.8,763.3" fill="none" stroke-width="1.6"/>
<polyline points="586.4,788.7 670.2,742.3" fill="none" stroke-width="1.6"/>
<ellipse cx="592.2" cy="799.2" rx="12" ry="8.6" transform="rotate(61 592.2 799.2)" fill="#fff" stroke-width="1.6"/>
<ellipse cx="592.2" cy="799.2" rx="4" ry="2.9" transform="rotate(61 592.2 799.2)" fill="#fff" stroke-width="1.6"/>
<ellipse cx="1131" cy="547.5" rx="4.5" ry="3.2" transform="rotate(59 1131 547.5)" fill="#fff" stroke-width="1.6"/>
<polygon points="1128.3,554.4 1133.3,551.4 1128.7,543.6 1123.7,546.6" fill="#fff" stroke="none"/>
<polyline points="1128.3,554.4 1133.3,551.4" fill="none" stroke-width="1.6"/>
<polyline points="1123.7,546.6 1128.7,543.6" fill="none" stroke-width="1.6"/>
<ellipse cx="1126" cy="550.5" rx="4.5" ry="3.2" transform="rotate(59 1126 550.5)" fill="#fff" stroke-width="1.6"/>
<ellipse cx="1124" cy="552" rx="7" ry="5" transform="rotate(60.3 1124 552)" fill="#fff" stroke-width="1.6"/>
<polygon points="1087.5,580.9 1127.5,558.1 1120.5,545.9 1080.5,568.7" fill="#fff" stroke="none"/>
<polyline points="1087.5,580.9 1127.5,558.1" fill="none" stroke-width="1.6"/>
<polyline points="1080.5,568.7 1120.5,545.9" fill="none" stroke-width="1.6"/>
<ellipse cx="1084" cy="574.8" rx="7" ry="5" transform="rotate(60.3 1084 574.8)" fill="#fff" stroke-width="1.6"/>
<ellipse cx="1084" cy="574.8" rx="3" ry="2.2" transform="rotate(60.3 1084 574.8)" fill="#fff" stroke-width="1.6"/>
<ellipse cx="1305" cy="353.9" rx="5" ry="3.6" transform="rotate(60.8 1305 353.9)" fill="#fff" stroke-width="1.6"/>
<polygon points="1249.7,390.5 1307.4,358.3 1302.6,349.5 1244.8,381.8" fill="#fff" stroke="none"/>
<polyline points="1249.7,390.5 1307.4,358.3" fill="none" stroke-width="1.6"/>
<polyline points="1244.8,381.8 1302.6,349.5" fill="none" stroke-width="1.6"/>
<ellipse cx="1247.2" cy="386.1" rx="5" ry="3.6" transform="rotate(60.8 1247.2 386.1)" fill="#fff" stroke-width="1.6"/>
<path d="M1283.6,371.6 Q1283.1,366.1 1278.7,362.8" stroke-width="1.1"/>
<path d="M1287.9,369.1 Q1287.5,363.7 1283.1,360.4" stroke-width="1.1"/>
<path d="M1292.3,366.7 Q1291.8,361.3 1287.4,358" stroke-width="1.1"/>
<path d="M1296.6,364.3 Q1296.1,358.8 1291.7,355.6" stroke-width="1.1"/>
<path d="M1300.9,361.9 Q1300.5,356.4 1296.1,353.2" stroke-width="1.1"/>
<path d="M1305.3,359.5 Q1304.8,354 1300.4,350.7" stroke-width="1.1"/>
<ellipse cx="1247.2" cy="386.1" rx="9" ry="6.5" transform="rotate(60.8 1247.2 386.1)" fill="#fff" stroke-width="1.6"/>
<polygon points="1242.9,398.9 1251.6,394 1242.8,378.3 1234.1,383.1" fill="#fff" stroke="none"/>
<polyline points="1242.9,398.9 1251.6,394" fill="none" stroke-width="1.6"/>
<polyline points="1234.1,383.1 1242.8,378.3" fill="none" stroke-width="1.6"/>
<ellipse cx="1238.5" cy="391" rx="9" ry="6.5" transform="rotate(60.8 1238.5 391)" fill="#fff" stroke-width="1.6"/>
<ellipse cx="1238.5" cy="391" rx="4" ry="2.9" transform="rotate(60.8 1238.5 391)" fill="#fff" stroke-width="1.6"/>
<ellipse cx="1592.4" cy="1261.2" rx="4.5" ry="3.2" transform="rotate(59.5 1592.4 1261.2)" fill="#fff" stroke-width="1.6"/>
<polygon points="1552.8,1289.7 1594.7,1265.1 1590.1,1257.3 1548.2,1282" fill="#fff" stroke="none"/>
<polyline points="1552.8,1289.7 1594.7,1265.1" fill="none" stroke-width="1.6"/>
<polyline points="1548.2,1282 1590.1,1257.3" fill="none" stroke-width="1.6"/>
<ellipse cx="1550.5" cy="1285.8" rx="4.5" ry="3.2" transform="rotate(59.5 1550.5 1285.8)" fill="#fff" stroke-width="1.6"/>
<path d="M1555.1,1288.3 Q1554.6,1283.4 1550.6,1280.6" stroke-width="1.1"/>
<path d="M1559.8,1285.6 Q1559.2,1280.7 1555.2,1277.8" stroke-width="1.1"/>
<path d="M1564.4,1282.9 Q1563.9,1278 1559.9,1275.1" stroke-width="1.1"/>
<path d="M1569.1,1280.1 Q1568.6,1275.2 1564.5,1272.4" stroke-width="1.1"/>
<path d="M1573.7,1277.4 Q1573.2,1272.5 1569.2,1269.6" stroke-width="1.1"/>
<path d="M1578.4,1274.7 Q1577.9,1269.8 1573.8,1266.9" stroke-width="1.1"/>
<path d="M1583,1271.9 Q1582.5,1267 1578.5,1264.2" stroke-width="1.1"/>
<path d="M1587.7,1269.2 Q1587.2,1264.3 1583.1,1261.4" stroke-width="1.1"/>
<path d="M1592.4,1266.4 Q1591.8,1261.5 1587.8,1258.7" stroke-width="1.1"/>
<ellipse cx="1550.5" cy="1285.8" rx="9" ry="6.5" transform="rotate(59.5 1550.5 1285.8)" fill="#fff" stroke-width="1.6"/>
<polygon points="1546.5,1298.7 1555.1,1293.6 1546,1278.1 1537.3,1283.1" fill="#fff" stroke="none"/>
<polyline points="1546.5,1298.7 1555.1,1293.6" fill="none" stroke-width="1.6"/>
<polyline points="1537.3,1283.1 1546,1278.1" fill="none" stroke-width="1.6"/>
<ellipse cx="1541.9" cy="1290.9" rx="9" ry="6.5" transform="rotate(59.5 1541.9 1290.9)" fill="#fff" stroke-width="1.6"/>
<ellipse cx="1541.9" cy="1290.9" rx="4" ry="2.9" transform="rotate(59.5 1541.9 1290.9)" fill="#fff" stroke-width="1.6"/>
<ellipse cx="1843.5" cy="786.2" rx="5.5" ry="4" transform="rotate(59.9 1843.5 786.2)" fill="#fff" stroke-width="1.6"/>
<polygon points="1826.6,802.3 1846.3,791 1840.7,781.4 1821.1,792.8" fill="#fff" stroke="none"/>
<polyline points="1826.6,802.3 1846.3,791" fill="none" stroke-width="1.6"/>
<polyline points="1821.1,792.8 1840.7,781.4" fill="none" stroke-width="1.6"/>
<ellipse cx="1823.9" cy="797.6" rx="5.5" ry="4" transform="rotate(59.9 1823.9 797.6)" fill="#fff" stroke-width="1.6"/>
<path d="M1834.8,797.6 Q1834.2,791.6 1829.3,788.1" stroke-width="1.1"/>
<path d="M1839.4,794.9 Q1838.8,788.9 1833.9,785.4" stroke-width="1.1"/>
<path d="M1844,792.3 Q1843.4,786.3 1838.5,782.8" stroke-width="1.1"/>
<ellipse cx="1823.9" cy="797.6" rx="10" ry="7.2" transform="rotate(59.9 1823.9 797.6)" fill="#fff" stroke-width="1.6"/>
<polygon points="1818.5,812.3 1828.9,806.2 1818.9,788.9 1808.5,794.9" fill="#fff" stroke="none"/>
<polyline points="1818.5,812.3 1828.9,806.2" fill="none" stroke-width="1.6"/>
<polyline points="1808.5,794.9 1818.9,788.9" fill="none" stroke-width="1.6"/>
<ellipse cx="1813.5" cy="803.6" rx="10" ry="7.2" transform="rotate(59.9 1813.5 803.6)" fill="#fff" stroke-width="1.6"/>
<ellipse cx="1813.5" cy="803.6" rx="4.5" ry="3.2" transform="rotate(59.9 1813.5 803.6)" fill="#fff" stroke-width="1.6"/>
<ellipse cx="1847.8" cy="408.1" rx="4.5" ry="3.2" transform="rotate(-111.6 1847.8 408.1)" fill="#fff" stroke-width="1.6"/>
<polygon points="1855.6,400.2 1846.1,403.9 1849.5,412.3 1858.9,408.5" fill="#fff" stroke="none"/>
<polyline points="1855.6,400.2 1846.1,403.9" fill="none" stroke-width="1.6"/>
<polyline points="1858.9,408.5 1849.5,412.3" fill="none" stroke-width="1.6"/>
<ellipse cx="1857.3" cy="404.3" rx="4.5" ry="3.2" transform="rotate(-111.6 1857.3 404.3)" fill="#fff" stroke-width="1.6"/>
<path d="M1853.2,401.1 Q1853,406 1856.6,409.5" stroke-width="1.1"/>
<path d="M1848.5,403 Q1848.3,407.9 1851.8,411.3" stroke-width="1.1"/>
<ellipse cx="1857.3" cy="404.3" rx="8" ry="5.8" transform="rotate(-111.6 1857.3 404.3)" fill="#fff" stroke-width="1.6"/>
<polygon points="1861.8,394 1854.3,396.9 1860.2,411.8 1867.6,408.8" fill="#fff" stroke="none"/>
<polyline points="1861.8,394 1854.3,396.9" fill="none" stroke-width="1.6"/>
<polyline points="1867.6,408.8 1860.2,411.8" fill="none" stroke-width="1.6"/>
<ellipse cx="1864.7" cy="401.4" rx="8" ry="5.8" transform="rotate(-111.6 1864.7 401.4)" fill="#fff" stroke-width="1.6"/>
<ellipse cx="1858" cy="646.9" rx="4.5" ry="3.2" transform="rotate(-112.2 1858 646.9)" fill="#fff" stroke-width="1.6"/>
<polygon points="1865.6,638.9 1856.3,642.7 1859.7,651.1 1869,647.3" fill="#fff" stroke="none"/>
<polyline points="1865.6,638.9 1856.3,642.7" fill="none" stroke-width="1.6"/>
<polyline points="1869,647.3 1859.7,651.1" fill="none" stroke-width="1.6"/>
<ellipse cx="1867.3" cy="643.1" rx="4.5" ry="3.2" transform="rotate(-112.2 1867.3 643.1)" fill="#fff" stroke-width="1.6"/>
<path d="M1863.3,639.9 Q1863.1,644.8 1866.7,648.2" stroke-width="1.1"/>
<path d="M1858.6,641.8 Q1858.4,646.7 1862,650.1" stroke-width="1.1"/>
<ellipse cx="1867.3" cy="643.1" rx="8" ry="5.8" transform="rotate(-112.2 1867.3 643.1)" fill="#fff" stroke-width="1.6"/>
<polygon points="1871.7,632.7 1864.3,635.7 1870.3,650.5 1877.7,647.5" fill="#fff" stroke="none"/>
<polyline points="1871.7,632.7 1864.3,635.7" fill="none" stroke-width="1.6"/>
<polyline points="1877.7,647.5 1870.3,650.5" fill="none" stroke-width="1.6"/>
<ellipse cx="1874.7" cy="640.1" rx="8" ry="5.8" transform="rotate(-112.2 1874.7 640.1)" fill="#fff" stroke-width="1.6"/>
<ellipse cx="552" cy="1022.6" rx="5" ry="3.6" transform="rotate(62 552 1022.6)" fill="#fff" stroke-width="1.6"/>
<polygon points="543.7,1032.7 554.3,1027 549.7,1018.2 539,1023.8" fill="#fff" stroke="none"/>
<polyline points="543.7,1032.7 554.3,1027" fill="none" stroke-width="1.6"/>
<polyline points="539,1023.8 549.7,1018.2" fill="none" stroke-width="1.6"/>
<ellipse cx="541.4" cy="1028.2" rx="5" ry="3.6" transform="rotate(62 541.4 1028.2)" fill="#fff" stroke-width="1.6"/>
<path d="M546.4,1031.3 Q546,1025.8 541.7,1022.4" stroke-width="1.1"/>
<path d="M551.7,1028.4 Q551.3,1023 547,1019.6" stroke-width="1.1"/>
<ellipse cx="541.4" cy="1028.2" rx="8" ry="5.8" transform="rotate(62 541.4 1028.2)" fill="#fff" stroke-width="1.6"/>
<polygon points="538.1,1039.1 545.1,1035.3 537.6,1021.2 530.5,1024.9" fill="#fff" stroke="none"/>
<polyline points="538.1,1039.1 545.1,1035.3" fill="none" stroke-width="1.6"/>
<polyline points="530.5,1024.9 537.6,1021.2" fill="none" stroke-width="1.6"/>
<ellipse cx="534.3" cy="1032" rx="8" ry="5.8" transform="rotate(62 534.3 1032)" fill="#fff" stroke-width="1.6"/>
<ellipse cx="534.3" cy="1032" rx="3.6" ry="2.6" transform="rotate(62 534.3 1032)" fill="#fff" stroke-width="1.6"/>
<ellipse cx="661.5" cy="1245" rx="5" ry="3.6" transform="rotate(65.3 661.5 1245)" fill="#fff" stroke-width="1.6"/>
<polygon points="653.5,1254.2 663.6,1249.5 659.4,1240.5 649.3,1245.1" fill="#fff" stroke="none"/>
<polyline points="653.5,1254.2 663.6,1249.5" fill="none" stroke-width="1.6"/>
<polyline points="649.3,1245.1 659.4,1240.5" fill="none" stroke-width="1.6"/>
<ellipse cx="651.4" cy="1249.7" rx="5" ry="3.6" transform="rotate(65.3 651.4 1249.7)" fill="#fff" stroke-width="1.6"/>
<path d="M656,1253 Q655.9,1247.6 651.8,1244" stroke-width="1.1"/>
<path d="M661.1,1250.7 Q661,1245.2 656.9,1241.6" stroke-width="1.1"/>
<ellipse cx="651.4" cy="1249.7" rx="8" ry="5.8" transform="rotate(65.3 651.4 1249.7)" fill="#fff" stroke-width="1.6"/>
<polygon points="647.4,1260.3 654.7,1256.9 648,1242.4 640.8,1245.7" fill="#fff" stroke="none"/>
<polyline points="647.4,1260.3 654.7,1256.9" fill="none" stroke-width="1.6"/>
<polyline points="640.8,1245.7 648,1242.4" fill="none" stroke-width="1.6"/>
<ellipse cx="644.1" cy="1253" rx="8" ry="5.8" transform="rotate(65.3 644.1 1253)" fill="#fff" stroke-width="1.6"/>
<ellipse cx="644.1" cy="1253" rx="3.6" ry="2.6" transform="rotate(65.3 644.1 1253)" fill="#fff" stroke-width="1.6"/>
<ellipse cx="944.8" cy="1332.5" rx="5" ry="3.6" transform="rotate(67.4 944.8 1332.5)" fill="#fff" stroke-width="1.6"/>
<polygon points="938,1340.7 946.7,1337.1 942.9,1327.9 934.2,1331.5" fill="#fff" stroke="none"/>
<polyline points="938,1340.7 946.7,1337.1" fill="none" stroke-width="1.6"/>
<polyline points="934.2,1331.5 942.9,1327.9" fill="none" stroke-width="1.6"/>
<ellipse cx="936.1" cy="1336.1" rx="5" ry="3.6" transform="rotate(67.4 936.1 1336.1)" fill="#fff" stroke-width="1.6"/>
<path d="M940.2,1339.8 Q940.3,1334.4 936.3,1330.6" stroke-width="1.1"/>
<path d="M944.5,1338 Q944.7,1332.5 940.7,1328.8" stroke-width="1.1"/>
<ellipse cx="936.1" cy="1336.1" rx="8" ry="5.8" transform="rotate(67.4 936.1 1336.1)" fill="#fff" stroke-width="1.6"/>
<polygon points="931.8,1346.6 939.2,1343.5 933,1328.7 925.6,1331.8" fill="#fff" stroke="none"/>
<polyline points="931.8,1346.6 939.2,1343.5" fill="none" stroke-width="1.6"/>
<polyline points="925.6,1331.8 933,1328.7" fill="none" stroke-width="1.6"/>
<ellipse cx="928.7" cy="1339.2" rx="8" ry="5.8" transform="rotate(67.4 928.7 1339.2)" fill="#fff" stroke-width="1.6"/>
<ellipse cx="928.7" cy="1339.2" rx="3.6" ry="2.6" transform="rotate(67.4 928.7 1339.2)" fill="#fff" stroke-width="1.6"/>
<ellipse cx="1322.7" cy="568" rx="3.2" ry="2.3" transform="rotate(0 1322.7 568)" fill="#fff" stroke-width="1.6"/>
<polygon points="1325.9,583 1325.9,568 1319.5,568 1319.5,583" fill="#fff" stroke="none"/>
<polyline points="1325.9,583 1325.9,568" fill="none" stroke-width="1.6"/>
<polyline points="1319.5,583 1319.5,568" fill="none" stroke-width="1.6"/>
<ellipse cx="1322.7" cy="583" rx="3.2" ry="2.3" transform="rotate(0 1322.7 583)" fill="#fff" stroke-width="1.6"/>
<path d="M1325.9,580.5 Q1322.7,579.1 1319.5,580.5" stroke-width="1.1"/>
<path d="M1325.9,575.5 Q1322.7,574.1 1319.5,575.5" stroke-width="1.1"/>
<path d="M1325.9,570.5 Q1322.7,569.1 1319.5,570.5" stroke-width="1.1"/>
<ellipse cx="1322.7" cy="583" rx="6" ry="4.3" transform="rotate(0 1322.7 583)" fill="#fff" stroke-width="1.6"/>
<polygon points="1328.7,590 1328.7,583 1316.7,583 1316.7,590" fill="#fff" stroke="none"/>
<polyline points="1328.7,590 1328.7,583" fill="none" stroke-width="1.6"/>
<polyline points="1316.7,590 1316.7,583" fill="none" stroke-width="1.6"/>
<ellipse cx="1322.7" cy="590" rx="6" ry="4.3" transform="rotate(0 1322.7 590)" fill="#fff" stroke-width="1.6"/>
<ellipse cx="511.6" cy="1047" rx="3.2" ry="2.3" transform="rotate(0 511.6 1047)" fill="#fff" stroke-width="1.6"/>
<polygon points="514.8,1057 514.8,1047 508.4,1047 508.4,1057" fill="#fff" stroke="none"/>
<polyline points="514.8,1057 514.8,1047" fill="none" stroke-width="1.6"/>
<polyline points="508.4,1057 508.4,1047" fill="none" stroke-width="1.6"/>
<ellipse cx="511.6" cy="1057" rx="3.2" ry="2.3" transform="rotate(0 511.6 1057)" fill="#fff" stroke-width="1.6"/>
<path d="M514.8,1055.3 Q511.6,1053.9 508.4,1055.3" stroke-width="1.1"/>
<path d="M514.8,1052 Q511.6,1050.6 508.4,1052" stroke-width="1.1"/>
<path d="M514.8,1048.7 Q511.6,1047.2 508.4,1048.7" stroke-width="1.1"/>
<ellipse cx="511.6" cy="1057" rx="6" ry="4.3" transform="rotate(0 511.6 1057)" fill="#fff" stroke-width="1.6"/>
<polygon points="517.6,1064 517.6,1057 505.6,1057 505.6,1064" fill="#fff" stroke="none"/>
<polyline points="517.6,1064 517.6,1057" fill="none" stroke-width="1.6"/>
<polyline points="505.6,1064 505.6,1057" fill="none" stroke-width="1.6"/>
<ellipse cx="511.6" cy="1064" rx="6" ry="4.3" transform="rotate(0 511.6 1064)" fill="#fff" stroke-width="1.6"/>
<ellipse cx="906" cy="1357" rx="3.2" ry="2.3" transform="rotate(0 906 1357)" fill="#fff" stroke-width="1.6"/>
<polygon points="909.2,1366 909.2,1357 902.8,1357 902.8,1366" fill="#fff" stroke="none"/>
<polyline points="909.2,1366 909.2,1357" fill="none" stroke-width="1.6"/>
<polyline points="902.8,1366 902.8,1357" fill="none" stroke-width="1.6"/>
<ellipse cx="906" cy="1366" rx="3.2" ry="2.3" transform="rotate(0 906 1366)" fill="#fff" stroke-width="1.6"/>
<path d="M909.2,1364.5 Q906,1363.1 902.8,1364.5" stroke-width="1.1"/>
<path d="M909.2,1361.5 Q906,1360.1 902.8,1361.5" stroke-width="1.1"/>
<path d="M909.2,1358.5 Q906,1357.1 902.8,1358.5" stroke-width="1.1"/>
<ellipse cx="906" cy="1366" rx="6" ry="4.3" transform="rotate(0 906 1366)" fill="#fff" stroke-width="1.6"/>
<polygon points="912,1373 912,1366 900,1366 900,1373" fill="#fff" stroke="none"/>
<polyline points="912,1373 912,1366" fill="none" stroke-width="1.6"/>
<polyline points="900,1373 900,1366" fill="none" stroke-width="1.6"/>
<ellipse cx="906" cy="1373" rx="6" ry="4.3" transform="rotate(0 906 1373)" fill="#fff" stroke-width="1.6"/>
<ellipse cx="1065.5" cy="266" rx="3.5" ry="2.5" transform="rotate(0 1065.5 266)" fill="#fff" stroke-width="1.6"/>
<polygon points="1069,287 1069,266 1062,266 1062,287" fill="#fff" stroke="none"/>
<polyline points="1069,287 1069,266" fill="none" stroke-width="1.6"/>
<polyline points="1062,287 1062,266" fill="none" stroke-width="1.6"/>
<ellipse cx="1065.5" cy="287" rx="3.5" ry="2.5" transform="rotate(0 1065.5 287)" fill="#fff" stroke-width="1.6"/>
<path d="M1062,268.6 Q1065.5,270.2 1069,268.6" stroke-width="1.1"/>
<path d="M1062,273.9 Q1065.5,275.4 1069,273.9" stroke-width="1.1"/>
<path d="M1062,279.1 Q1065.5,280.7 1069,279.1" stroke-width="1.1"/>
<path d="M1062,284.4 Q1065.5,285.9 1069,284.4" stroke-width="1.1"/>
<ellipse cx="1065.5" cy="258" rx="6.5" ry="4.7" transform="rotate(0 1065.5 258)" fill="#fff" stroke-width="1.6"/>
<polygon points="1072,266 1072,258 1059,258 1059,266" fill="#fff" stroke="none"/>
<polyline points="1072,266 1072,258" fill="none" stroke-width="1.6"/>
<polyline points="1059,266 1059,258" fill="none" stroke-width="1.6"/>
<ellipse cx="1065.5" cy="266" rx="6.5" ry="4.7" transform="rotate(0 1065.5 266)" fill="#fff" stroke-width="1.6"/>
<ellipse cx="1065.5" cy="266" rx="3.2" ry="2.3" transform="rotate(0 1065.5 266)" fill="#fff" stroke-width="1.6"/>
<ellipse cx="1562.5" cy="714" rx="3.5" ry="2.5" transform="rotate(0 1562.5 714)" fill="#fff" stroke-width="1.6"/>
<polygon points="1566,737 1566,714 1559,714 1559,737" fill="#fff" stroke="none"/>
<polyline points="1566,737 1566,714" fill="none" stroke-width="1.6"/>
<polyline points="1559,737 1559,714" fill="none" stroke-width="1.6"/>
<ellipse cx="1562.5" cy="737" rx="3.5" ry="2.5" transform="rotate(0 1562.5 737)" fill="#fff" stroke-width="1.6"/>
<path d="M1559,716.9 Q1562.5,718.5 1566,716.9" stroke-width="1.1"/>
<path d="M1559,722.6 Q1562.5,724.2 1566,722.6" stroke-width="1.1"/>
<path d="M1559,728.4 Q1562.5,730 1566,728.4" stroke-width="1.1"/>
<path d="M1559,734.1 Q1562.5,735.7 1566,734.1" stroke-width="1.1"/>
<ellipse cx="1562.5" cy="706" rx="6.5" ry="4.7" transform="rotate(0 1562.5 706)" fill="#fff" stroke-width="1.6"/>
<polygon points="1569,714 1569,706 1556,706 1556,714" fill="#fff" stroke="none"/>
<polyline points="1569,714 1569,706" fill="none" stroke-width="1.6"/>
<polyline points="1556,714 1556,706" fill="none" stroke-width="1.6"/>
<ellipse cx="1562.5" cy="714" rx="6.5" ry="4.7" transform="rotate(0 1562.5 714)" fill="#fff" stroke-width="1.6"/>
<ellipse cx="1562.5" cy="714" rx="3.2" ry="2.3" transform="rotate(0 1562.5 714)" fill="#fff" stroke-width="1.6"/>
<ellipse cx="1486.8" cy="540.3" rx="6.5" ry="4.7" transform="rotate(59.9 1486.8 540.3)" fill="#fff" stroke-width="1.6"/>
<polygon points="1428.8,581.4 1490.1,545.9 1483.5,534.7 1422.2,570.2" fill="#fff" stroke="none"/>
<polyline points="1428.8,581.4 1490.1,545.9" fill="none" stroke-width="1.6"/>
<polyline points="1422.2,570.2 1483.5,534.7" fill="none" stroke-width="1.6"/>
<ellipse cx="1425.5" cy="575.8" rx="6.5" ry="4.7" transform="rotate(59.9 1425.5 575.8)" fill="#fff" stroke-width="1.6"/>
<path d="M1458.8,564.1 Q1458,557 1452.2,552.8" stroke-width="1.1"/>
<path d="M1463.6,561.3 Q1462.8,554.2 1457.1,550" stroke-width="1.1"/>
<path d="M1468.4,558.5 Q1467.7,551.4 1461.9,547.2" stroke-width="1.1"/>
<path d="M1473.2,555.7 Q1472.5,548.6 1466.7,544.4" stroke-width="1.1"/>
<path d="M1478,552.9 Q1477.3,545.8 1471.5,541.6" stroke-width="1.1"/>
<path d="M1482.8,550.1 Q1482.1,543 1476.3,538.9" stroke-width="1.1"/>
<path d="M1487.6,547.3 Q1486.9,540.2 1481.1,536.1" stroke-width="1.1"/>
<polyline points="1428.4,580.9 1422.6,570.7" fill="none" stroke-width="1.4"/>
<ellipse cx="1879.8" cy="945.6" rx="7" ry="5" transform="rotate(59.7 1879.8 945.6)" fill="#fff" stroke-width="1.6"/>
<polygon points="1818.5,989.5 1883.3,951.6 1876.3,939.6 1811.5,977.5" fill="#fff" stroke="none"/>
<polyline points="1818.5,989.5 1883.3,951.6" fill="none" stroke-width="1.6"/>
<polyline points="1811.5,977.5 1876.3,939.6" fill="none" stroke-width="1.6"/>
<ellipse cx="1815" cy="983.5" rx="7" ry="5" transform="rotate(59.7 1815 983.5)" fill="#fff" stroke-width="1.6"/>
<path d="M1849.9,971.2 Q1849.1,963.6 1842.9,959.1" stroke-width="1.1"/>
<path d="M1854.4,968.6 Q1853.6,960.9 1847.3,956.5" stroke-width="1.1"/>
<path d="M1858.8,966 Q1858,958.3 1851.8,953.9" stroke-width="1.1"/>
<path d="M1863.3,963.4 Q1862.5,955.7 1856.2,951.3" stroke-width="1.1"/>
<path d="M1867.7,960.8 Q1866.9,953.1 1860.7,948.7" stroke-width="1.1"/>
<path d="M1872.2,958.2 Q1871.4,950.5 1865.1,946.1" stroke-width="1.1"/>
<path d="M1876.7,955.6 Q1875.8,947.9 1869.6,943.5" stroke-width="1.1"/>
<path d="M1881.1,952.9 Q1880.3,945.3 1874,940.9" stroke-width="1.1"/>
<polyline points="1818.2,988.9 1811.8,978.1" fill="none" stroke-width="1.4"/>
<ellipse cx="1442.4" cy="1230" rx="6.5" ry="4.7" transform="rotate(65.2 1442.4 1230)" fill="#fff" stroke-width="1.6"/>
<polygon points="1406.5,1253.7 1445.1,1235.9 1439.7,1224.1 1401.1,1241.9" fill="#fff" stroke="none"/>
<polyline points="1406.5,1253.7 1445.1,1235.9" fill="none" stroke-width="1.6"/>
<polyline points="1401.1,1241.9 1439.7,1224.1" fill="none" stroke-width="1.6"/>
<ellipse cx="1403.8" cy="1247.8" rx="6.5" ry="4.7" transform="rotate(65.2 1403.8 1247.8)" fill="#fff" stroke-width="1.6"/>
<path d="M1426,1244.7 Q1425.9,1237.6 1420.6,1232.9" stroke-width="1.1"/>
<path d="M1430.3,1242.8 Q1430.2,1235.6 1424.8,1231" stroke-width="1.1"/>
<path d="M1434.5,1240.8 Q1434.4,1233.7 1429.1,1229" stroke-width="1.1"/>
<path d="M1438.8,1238.8 Q1438.7,1231.7 1433.3,1227" stroke-width="1.1"/>
<path d="M1443,1236.9 Q1442.9,1229.8 1437.6,1225.1" stroke-width="1.1"/>
<polyline points="1406.2,1253.1 1401.4,1242.5" fill="none" stroke-width="1.4"/>
<ellipse cx="1508.7" cy="529.6" rx="11" ry="7.9" transform="rotate(60 1508.7 529.6)" fill="#fff" stroke-width="1.6"/>
<polygon points="1507.5,543 1514.2,539.2 1503.2,520.1 1496.5,524" fill="#fff" stroke="none"/>
<polyline points="1507.5,543 1514.2,539.2" fill="none" stroke-width="1.6"/>
<polyline points="1496.5,524 1503.2,520.1" fill="none" stroke-width="1.6"/>
<ellipse cx="1502" cy="533.5" rx="11" ry="7.9" transform="rotate(60 1502 533.5)" fill="#fff" stroke-width="1.6"/>
<ellipse cx="1502" cy="533.5" rx="5.5" ry="4" transform="rotate(60 1502 533.5)" fill="#fff" stroke-width="1.6"/>
<ellipse cx="1900.7" cy="933.6" rx="11" ry="7.9" transform="rotate(60 1900.7 933.6)" fill="#fff" stroke-width="1.6"/>
<polygon points="1899.5,947 1906.2,943.2 1895.2,924.1 1888.5,928" fill="#fff" stroke="none"/>
<polyline points="1899.5,947 1906.2,943.2" fill="none" stroke-width="1.6"/>
<polyline points="1888.5,928 1895.2,924.1" fill="none" stroke-width="1.6"/>
<ellipse cx="1894" cy="937.5" rx="11" ry="7.9" transform="rotate(60 1894 937.5)" fill="#fff" stroke-width="1.6"/>
<ellipse cx="1894" cy="937.5" rx="5.5" ry="4" transform="rotate(60 1894 937.5)" fill="#fff" stroke-width="1.6"/>
<ellipse cx="1462.7" cy="1215.7" rx="11" ry="7.9" transform="rotate(60 1462.7 1215.7)" fill="#fff" stroke-width="1.6"/>
<polygon points="1461.5,1229 1468.2,1225.2 1457.2,1206.1 1450.5,1210" fill="#fff" stroke="none"/>
<polyline points="1461.5,1229 1468.2,1225.2" fill="none" stroke-width="1.6"/>
<polyline points="1450.5,1210 1457.2,1206.1" fill="none" stroke-width="1.6"/>
<ellipse cx="1456" cy="1219.5" rx="11" ry="7.9" transform="rotate(60 1456 1219.5)" fill="#fff" stroke-width="1.6"/>
<ellipse cx="1456" cy="1219.5" rx="5.5" ry="4" transform="rotate(60 1456 1219.5)" fill="#fff" stroke-width="1.6"/>
<ellipse cx="1468" cy="234.5" rx="4.5" ry="3.2" transform="rotate(62 1468 234.5)" fill="#fff" stroke-width="1.6"/>
<polygon points="1454.1,247 1470.1,238.5 1465.9,230.5 1449.9,239" fill="#fff" stroke="none"/>
<polyline points="1454.1,247 1470.1,238.5" fill="none" stroke-width="1.6"/>
<polyline points="1449.9,239 1465.9,230.5" fill="none" stroke-width="1.6"/>
<ellipse cx="1452" cy="243" rx="4.5" ry="3.2" transform="rotate(62 1452 243)" fill="#fff" stroke-width="1.6"/>
<ellipse cx="1701" cy="298" rx="4.5" ry="3.2" transform="rotate(60.3 1701 298)" fill="#fff" stroke-width="1.6"/>
<polygon points="1689.2,309.9 1703.2,301.9 1698.8,294.1 1684.8,302.1" fill="#fff" stroke="none"/>
<polyline points="1689.2,309.9 1703.2,301.9" fill="none" stroke-width="1.6"/>
<polyline points="1684.8,302.1 1698.8,294.1" fill="none" stroke-width="1.6"/>
<ellipse cx="1687" cy="306" rx="4.5" ry="3.2" transform="rotate(60.3 1687 306)" fill="#fff" stroke-width="1.6"/>
<polygon points="296.9,361 339.3,336.7 339.3,324.7 344.3,315.2 354.5,310.3 382.1,325.5 382.1,388.1 364.8,405 364.8,672 350.6,677.1 296.9,647" fill="#fff" stroke="none"/>
<polyline points="296.9,361 339.3,336.7 339.3,324.7 344.3,315.2 354.5,310.3 382.1,325.5 382.1,388.1 379.7,389.4" fill="none" stroke-width="1.7"/>
<polyline points="296.9,361 296.9,647 350.6,677.1 364.8,671.5 364.8,405" fill="none" stroke-width="1.7"/>
<polyline points="296.9,361 354.1,391.4 364.8,405" fill="none" stroke-width="1.7"/>
<polyline points="302.2,361 354.8,389 362.5,401 362.5,671" fill="none" stroke-width="1.1"/>
<polyline points="302.2,361 343.8,337.9 343.8,326 348,318 355,314.5 378,327.2 378,386" fill="none" stroke-width="1.1"/>
<polyline points="307,361 329.4,372.9 354.1,359.7 354.1,319" fill="none" stroke-width="1.2"/>
<polyline points="354.1,359.7 376.4,371.7 376.4,327.2" fill="none" stroke-width="1.2"/>
<polyline points="341,380.3 356.6,371.7 369,378.3 378.8,372.5" fill="none" stroke-width="1.2"/>
<polyline points="343,383 357,375 369,381.5 380,375" fill="none" stroke-width="1"/>
<ellipse cx="364.8" cy="338.5" rx="4.2" ry="6.2" fill="none" stroke-width="1.3" transform="rotate(15 364.8 338.5)"/>
<ellipse cx="310.1" cy="384" rx="5.5" ry="8" fill="none" stroke-width="1.4" transform="rotate(15 310.1 384)"/>
<ellipse cx="310" cy="570" rx="5.5" ry="8" fill="none" stroke-width="1.4" transform="rotate(15 310 570)"/>
<polyline points="364.8,410 375.3,416.3 365.7,424.5" fill="none" stroke-width="1.4"/>
<polyline points="365.7,512 379.5,520 382.2,522 382.2,660 369.8,666" fill="none" stroke-width="1.4"/>
<polyline points="365.7,526 379.5,534 379.5,589 365.7,581" fill="none" stroke-width="1.2"/>
<polyline points="369.8,666 369.8,590" fill="none" stroke-width="1"/>
<polyline points="262.8,410.8 310.8,384.7" fill="none" stroke-width="1.2"/>
<polygon points="649,551.4 663.4,542.8 685.9,555.9 699,604.8 700,630.7 723.8,642.8 723.8,685.9 672.4,715.2 650.7,704.8" fill="#fff" stroke="none"/>
<polyline points="649,551.4 663.4,542.8 685.9,555.9 699,604.8 700,630.7 723.8,642.8 723.8,685.9 672.4,715.2 650.7,704.8 649,551.4" fill="none" stroke-width="1.8"/>
<polyline points="649,551.4 672,562 685.9,555.9" fill="none" stroke-width="1.6"/>
<polyline points="672,562 672,715" fill="none" stroke-width="1.6"/>
<polyline points="700,630.7 700,647 706,652.5 723.8,642.8" fill="none" stroke-width="1.4"/>
<ellipse cx="659.3" cy="572" rx="5.2" ry="7" fill="none" stroke-width="1.4" transform="rotate(15 659.3 572)"/>
<ellipse cx="660.5" cy="573" rx="3.2" ry="5" fill="none" stroke-width="1" transform="rotate(15 660.5 573)"/>
<ellipse cx="659.3" cy="673.8" rx="5.2" ry="7" fill="none" stroke-width="1.4" transform="rotate(15 659.3 673.8)"/>
<ellipse cx="660.5" cy="674.8" rx="3.2" ry="5" fill="none" stroke-width="1" transform="rotate(15 660.5 674.8)"/>
<ellipse cx="659.3" cy="695.2" rx="5.2" ry="7" fill="none" stroke-width="1.4" transform="rotate(15 659.3 695.2)"/>
<ellipse cx="660.5" cy="696.2" rx="3.2" ry="5" fill="none" stroke-width="1" transform="rotate(15 660.5 696.2)"/>
<polygon points="812.8,646.2 827.2,637.6 849.7,650.7 862.8,699.6 863.8,725.5 887.6,737.6 887.6,780.7 836.2,810 814.5,799.6" fill="#fff" stroke="none"/>
<polyline points="812.8,646.2 827.2,637.6 849.7,650.7 862.8,699.6 863.8,725.5 887.6,737.6 887.6,780.7 836.2,810 814.5,799.6 812.8,646.2" fill="none" stroke-width="1.8"/>
<polyline points="812.8,646.2 835.8,656.8 849.7,650.7" fill="none" stroke-width="1.6"/>
<polyline points="835.8,656.8 835.8,809.8" fill="none" stroke-width="1.6"/>
<polyline points="863.8,725.5 863.8,741.8 869.8,747.3 887.6,737.6" fill="none" stroke-width="1.4"/>
<ellipse cx="823.1" cy="666.8" rx="5.2" ry="7" fill="none" stroke-width="1.4" transform="rotate(15 823.1 666.8)"/>
<ellipse cx="824.3" cy="667.8" rx="3.2" ry="5" fill="none" stroke-width="1" transform="rotate(15 824.3 667.8)"/>
<ellipse cx="823.1" cy="768.6" rx="5.2" ry="7" fill="none" stroke-width="1.4" transform="rotate(15 823.1 768.6)"/>
<ellipse cx="824.3" cy="769.6" rx="3.2" ry="5" fill="none" stroke-width="1" transform="rotate(15 824.3 769.6)"/>
<ellipse cx="823.1" cy="790" rx="5.2" ry="7" fill="none" stroke-width="1.4" transform="rotate(15 823.1 790)"/>
<ellipse cx="824.3" cy="791" rx="3.2" ry="5" fill="none" stroke-width="1" transform="rotate(15 824.3 791)"/>
<polygon points="322.5,747.3 328.7,742.3 376,714.9 392.8,724.3 392.8,745.5 368.5,758.5 489.3,828.3 499,831 506.8,830.1 541.6,810.2 558.4,819.6 558.4,840.7 506.8,869.4 499.3,867.5 328.7,773.5 322.5,769.7" fill="#fff" stroke="none"/>
<polyline points="322.5,747.3 328.7,742.3 376,714.9 392.8,724.3 392.8,745.5 368.5,758.5 489.3,828.3 499,831 506.8,830.1 541.6,810.2 558.4,819.6 558.4,840.7 506.8,869.4 499.3,867.5 328.7,773.5 322.5,769.7 322.5,747.3" fill="none" stroke-width="1.8"/>
<path d="M392.8,724.9 L362.3,743.6 Q355,750 368.5,758.5" fill="none" stroke-width="1.6"/>
<path d="M323.7,751 L488.1,848.2 Q494,851 501.8,850.7 L558.4,819.6" fill="none" stroke-width="1.4"/>
<polyline points="499.3,854.4 499.3,867.5" fill="none" stroke-width="1.2"/>
<ellipse cx="328.7" cy="762.9" rx="4.5" ry="7.5" fill="none" stroke-width="1.3" transform="rotate(20 328.7 762.9)"/>
<ellipse cx="330" cy="763.5" rx="3" ry="5.5" fill="none" stroke-width="1" transform="rotate(20 330 763.5)"/>
<ellipse cx="493.1" cy="858.2" rx="4.5" ry="7.5" fill="none" stroke-width="1.3" transform="rotate(20 493.1 858.2)"/>
<ellipse cx="494.4" cy="858.8" rx="3" ry="5.5" fill="none" stroke-width="1" transform="rotate(20 494.4 858.8)"/>
<polyline points="155,992.6 234.7,948.1 244,952.4 244,1185" fill="none" stroke-width="1.8"/>
<polyline points="165.5,994 236,955" fill="none" stroke-width="1.2"/>
<ellipse cx="208.5" cy="978" rx="2.9" ry="3.8" fill="none" stroke-width="1.3" transform="rotate(20 208.5 978)"/>
<polyline points="180,1160 205,1147.5 224.9,1137.6" fill="none" stroke-width="1.2"/>
<polyline points="205,1147.5 205,1215" fill="none" stroke-width="1.2"/>
<polyline points="178.7,1259.5 231.4,1226.5 231.4,1212" fill="none" stroke-width="1.2"/>
<polyline points="233,1190 243,1185 243,1195" fill="none" stroke-width="1.2"/>
<polygon points="359.3,1109.6 432.4,1061.8 442.3,1066.7 442.3,1114.5 438,1118 435,1127 438,1137 442.3,1141 442.3,1220 396.2,1254.5 396.2,1335.3 359.3,1356.7" fill="#fff" stroke="none"/>
<polyline points="359.3,1109.6 432.4,1061.8 442.3,1066.7 442.3,1114.5 438,1118 435,1127 438,1137 442.3,1141 442.3,1220 396.2,1254.5 396.2,1335.3 359.3,1356.7" fill="none" stroke-width="1.8"/>
<polyline points="359.3,1109.6 359.3,1356.7" fill="none" stroke-width="1.8"/>
<polyline points="359.3,1114 435,1065" fill="none" stroke-width="1.1"/>
<ellipse cx="406" cy="1091.4" rx="3" ry="3.8" fill="none" stroke-width="1.3" transform="rotate(20 406 1091.4)"/>
<ellipse cx="371.5" cy="1111.2" rx="3" ry="3.8" fill="none" stroke-width="1.3" transform="rotate(20 371.5 1111.2)"/>
<path d="M155,992.6 L359.3,1109.6 L359.3,1356.7 L355,1353.4 L355,1389.6 L343.5,1396.2 L164.9,1292.4 L164.9,1282.6 L155,1272.7 Z M178.5,1022 L335,1112.5 L335,1173 L178.5,1082 Z M178.5,1113.5 L335,1204 L335,1248 L178.5,1157 Z M178.5,1194 L335,1284.5 L335,1368 L178.5,1276 Z" fill="#fff" fill-rule="evenodd" stroke-width="1.8"/>
<polyline points="167.6,992.5 357,1104" fill="none" stroke-width="1.2"/>
<polyline points="173.9,1017.4 339.6,1107.9 339.6,1177.6 173.9,1086.6 173.9,1017.4" fill="none" stroke-width="1.5"/>
<polyline points="173.9,1108.9 339.6,1199.4 339.6,1252.6 173.9,1161.6 173.9,1108.9" fill="none" stroke-width="1.5"/>
<polyline points="173.9,1189.4 339.6,1279.9 339.6,1372.6 173.9,1280.6 173.9,1189.4" fill="none" stroke-width="1.5"/>
<ellipse cx="174" cy="1009" rx="2.9" ry="3.6" fill="none" stroke-width="1.3" transform="rotate(20 174 1009)"/>
<ellipse cx="194.7" cy="1021" rx="2.9" ry="3.6" fill="none" stroke-width="1.3" transform="rotate(20 194.7 1021)"/>
<ellipse cx="215.4" cy="1032.9" rx="2.9" ry="3.6" fill="none" stroke-width="1.3" transform="rotate(20 215.4 1032.9)"/>
<ellipse cx="236.1" cy="1044.8" rx="2.9" ry="3.6" fill="none" stroke-width="1.3" transform="rotate(20 236.1 1044.8)"/>
<ellipse cx="256.8" cy="1056.8" rx="2.9" ry="3.6" fill="none" stroke-width="1.3" transform="rotate(20 256.8 1056.8)"/>
<ellipse cx="277.4" cy="1068.8" rx="2.9" ry="3.6" fill="none" stroke-width="1.3" transform="rotate(20 277.4 1068.8)"/>
<ellipse cx="298.1" cy="1080.7" rx="2.9" ry="3.6" fill="none" stroke-width="1.3" transform="rotate(20 298.1 1080.7)"/>
<ellipse cx="318.8" cy="1092.6" rx="2.9" ry="3.6" fill="none" stroke-width="1.3" transform="rotate(20 318.8 1092.6)"/>
<ellipse cx="339.5" cy="1104.6" rx="2.9" ry="3.6" fill="none" stroke-width="1.3" transform="rotate(20 339.5 1104.6)"/>
<ellipse cx="174" cy="1094.7" rx="2.9" ry="3.6" fill="none" stroke-width="1.3" transform="rotate(20 174 1094.7)"/>
<ellipse cx="194.7" cy="1106.7" rx="2.9" ry="3.6" fill="none" stroke-width="1.3" transform="rotate(20 194.7 1106.7)"/>
<ellipse cx="215.4" cy="1118.6" rx="2.9" ry="3.6" fill="none" stroke-width="1.3" transform="rotate(20 215.4 1118.6)"/>
<ellipse cx="236.1" cy="1130.5" rx="2.9" ry="3.6" fill="none" stroke-width="1.3" transform="rotate(20 236.1 1130.5)"/>
<ellipse cx="256.8" cy="1142.5" rx="2.9" ry="3.6" fill="none" stroke-width="1.3" transform="rotate(20 256.8 1142.5)"/>
<ellipse cx="277.4" cy="1154.5" rx="2.9" ry="3.6" fill="none" stroke-width="1.3" transform="rotate(20 277.4 1154.5)"/>
<ellipse cx="298.1" cy="1166.4" rx="2.9" ry="3.6" fill="none" stroke-width="1.3" transform="rotate(20 298.1 1166.4)"/>
<ellipse cx="318.8" cy="1178.3" rx="2.9" ry="3.6" fill="none" stroke-width="1.3" transform="rotate(20 318.8 1178.3)"/>
<ellipse cx="339.5" cy="1190.3" rx="2.9" ry="3.6" fill="none" stroke-width="1.3" transform="rotate(20 339.5 1190.3)"/>
<ellipse cx="174" cy="1168.9" rx="2.9" ry="3.6" fill="none" stroke-width="1.3" transform="rotate(20 174 1168.9)"/>
<ellipse cx="194.7" cy="1180.8" rx="2.9" ry="3.6" fill="none" stroke-width="1.3" transform="rotate(20 194.7 1180.8)"/>
<ellipse cx="215.4" cy="1192.8" rx="2.9" ry="3.6" fill="none" stroke-width="1.3" transform="rotate(20 215.4 1192.8)"/>
<ellipse cx="236.1" cy="1204.7" rx="2.9" ry="3.6" fill="none" stroke-width="1.3" transform="rotate(20 236.1 1204.7)"/>
<ellipse cx="256.8" cy="1216.7" rx="2.9" ry="3.6" fill="none" stroke-width="1.3" transform="rotate(20 256.8 1216.7)"/>
<ellipse cx="277.4" cy="1228.6" rx="2.9" ry="3.6" fill="none" stroke-width="1.3" transform="rotate(20 277.4 1228.6)"/>
<ellipse cx="298.1" cy="1240.5" rx="2.9" ry="3.6" fill="none" stroke-width="1.3" transform="rotate(20 298.1 1240.5)"/>
<ellipse cx="318.8" cy="1252.5" rx="2.9" ry="3.6" fill="none" stroke-width="1.3" transform="rotate(20 318.8 1252.5)"/>
<ellipse cx="339.5" cy="1264.4" rx="2.9" ry="3.6" fill="none" stroke-width="1.3" transform="rotate(20 339.5 1264.4)"/>
<ellipse cx="174" cy="1180.4" rx="2.9" ry="3.6" fill="none" stroke-width="1.3" transform="rotate(20 174 1180.4)"/>
<ellipse cx="194.7" cy="1192.4" rx="2.9" ry="3.6" fill="none" stroke-width="1.3" transform="rotate(20 194.7 1192.4)"/>
<ellipse cx="215.4" cy="1204.3" rx="2.9" ry="3.6" fill="none" stroke-width="1.3" transform="rotate(20 215.4 1204.3)"/>
<ellipse cx="236.1" cy="1216.2" rx="2.9" ry="3.6" fill="none" stroke-width="1.3" transform="rotate(20 236.1 1216.2)"/>
<ellipse cx="256.8" cy="1228.2" rx="2.9" ry="3.6" fill="none" stroke-width="1.3" transform="rotate(20 256.8 1228.2)"/>
<ellipse cx="277.4" cy="1240.2" rx="2.9" ry="3.6" fill="none" stroke-width="1.3" transform="rotate(20 277.4 1240.2)"/>
<ellipse cx="298.1" cy="1252.1" rx="2.9" ry="3.6" fill="none" stroke-width="1.3" transform="rotate(20 298.1 1252.1)"/>
<ellipse cx="318.8" cy="1264" rx="2.9" ry="3.6" fill="none" stroke-width="1.3" transform="rotate(20 318.8 1264)"/>
<ellipse cx="339.5" cy="1276" rx="2.9" ry="3.6" fill="none" stroke-width="1.3" transform="rotate(20 339.5 1276)"/>
<ellipse cx="174" cy="1290.8" rx="2.9" ry="3.6" fill="none" stroke-width="1.3" transform="rotate(20 174 1290.8)"/>
<ellipse cx="194.7" cy="1302.7" rx="2.9" ry="3.6" fill="none" stroke-width="1.3" transform="rotate(20 194.7 1302.7)"/>
<ellipse cx="215.4" cy="1314.7" rx="2.9" ry="3.6" fill="none" stroke-width="1.3" transform="rotate(20 215.4 1314.7)"/>
<ellipse cx="236.1" cy="1326.6" rx="2.9" ry="3.6" fill="none" stroke-width="1.3" transform="rotate(20 236.1 1326.6)"/>
<ellipse cx="256.8" cy="1338.5" rx="2.9" ry="3.6" fill="none" stroke-width="1.3" transform="rotate(20 256.8 1338.5)"/>
<ellipse cx="277.4" cy="1350.5" rx="2.9" ry="3.6" fill="none" stroke-width="1.3" transform="rotate(20 277.4 1350.5)"/>
<ellipse cx="298.1" cy="1362.4" rx="2.9" ry="3.6" fill="none" stroke-width="1.3" transform="rotate(20 298.1 1362.4)"/>
<ellipse cx="318.8" cy="1374.4" rx="2.9" ry="3.6" fill="none" stroke-width="1.3" transform="rotate(20 318.8 1374.4)"/>
<ellipse cx="339.5" cy="1386.3" rx="2.9" ry="3.6" fill="none" stroke-width="1.3" transform="rotate(20 339.5 1386.3)"/>
<ellipse cx="167.2" cy="1121.1" rx="3.3" ry="4.2" fill="none" stroke-width="1.4" transform="rotate(20 167.2 1121.1)"/>
<ellipse cx="168.2" cy="1121.1" rx="1.8" ry="3" fill="none" stroke-width="1" transform="rotate(20 168.2 1121.1)"/>
<ellipse cx="341.8" cy="1221.6" rx="3.3" ry="4.2" fill="none" stroke-width="1.4" transform="rotate(20 341.8 1221.6)"/>
<ellipse cx="342.8" cy="1221.6" rx="1.8" ry="3" fill="none" stroke-width="1" transform="rotate(20 342.8 1221.6)"/>
<ellipse cx="167.2" cy="1261.1" rx="3.3" ry="4.2" fill="none" stroke-width="1.4" transform="rotate(20 167.2 1261.1)"/>
<ellipse cx="168.2" cy="1261.1" rx="1.8" ry="3" fill="none" stroke-width="1" transform="rotate(20 168.2 1261.1)"/>
<ellipse cx="343.5" cy="1363.3" rx="3.3" ry="4.2" fill="none" stroke-width="1.4" transform="rotate(20 343.5 1363.3)"/>
<ellipse cx="344.5" cy="1363.3" rx="1.8" ry="3" fill="none" stroke-width="1" transform="rotate(20 344.5 1363.3)"/>
<ellipse cx="184.3" cy="1058.5" rx="2.9" ry="3.8" fill="none" stroke-width="1.3" transform="rotate(20 184.3 1058.5)"/>
<ellipse cx="184.3" cy="1140.9" rx="2.9" ry="3.8" fill="none" stroke-width="1.3" transform="rotate(20 184.3 1140.9)"/>
<polygon points="551.5,1161.1 586.7,1141.7 818,1240.1 827.4,1245.8 827.4,1254.5 767.7,1288.2 755.5,1288.2 551.5,1168.2" fill="#fff" stroke="none"/>
<polyline points="551.5,1161.1 586.7,1141.7 818,1240.1 827.4,1245.8 827.4,1254.5 767.7,1288.2 755.5,1288.2 551.5,1168.2 551.5,1161.1" fill="none" stroke-width="1.8"/>
<polyline points="551.5,1161.1 755.5,1281.5 767.7,1281.5 827.4,1245.8" fill="none" stroke-width="1.5"/>
<polyline points="755.5,1281.5 755.5,1288.2" fill="none" stroke-width="1.2"/>
<polyline points="767.7,1281.5 767.7,1288.2" fill="none" stroke-width="1.2"/>
<polyline points="573,1178.3 586.7,1171.1" fill="none" stroke-width="1.3"/>
<polyline points="573,1178.3 722.5,1265.2" fill="none" stroke-width="1.3"/>
<polyline points="573,1181 722.5,1268" fill="none" stroke-width="1"/>
<polyline points="722.5,1265.2 739,1255.2" fill="none" stroke-width="1.3"/>
<ellipse cx="609" cy="1154.6" rx="11.5" ry="6.5" fill="none" stroke-width="1.5"/>
<ellipse cx="624.8" cy="1169" rx="11.5" ry="6.5" fill="none" stroke-width="1.5"/>
<ellipse cx="647.8" cy="1181.9" rx="11.5" ry="6.5" fill="none" stroke-width="1.5"/>
<ellipse cx="670.7" cy="1194.8" rx="11.5" ry="6.5" fill="none" stroke-width="1.5"/>
<ellipse cx="693.7" cy="1207.8" rx="11.5" ry="6.5" fill="none" stroke-width="1.5"/>
<ellipse cx="714.6" cy="1221.4" rx="11.5" ry="6.5" fill="none" stroke-width="1.5"/>
<ellipse cx="741.1" cy="1234.3" rx="11.5" ry="6.5" fill="none" stroke-width="1.5"/>
<ellipse cx="761.3" cy="1247.3" rx="11.5" ry="6.5" fill="none" stroke-width="1.5"/>
<polygon points="788.6,1230 793,1227.6 801.5,1232 801.5,1249.4 788.6,1242" fill="#fff" stroke-width="1.4"/>
<ellipse cx="793.6" cy="1238" rx="3" ry="3.6" fill="none" stroke-width="1.2"/>
<polyline points="801.5,1249.4 813,1241 818,1240.1" fill="none" stroke-width="1.2"/>
<polygon points="587.4,1123.7 596,1118.7 603.2,1121.6 732.5,1195 739,1205.6 739,1255.2 723.2,1253 723.2,1212 603.2,1141 603.2,1180.5 587.4,1174.7" fill="#fff" stroke="none"/>
<polyline points="587.4,1123.7 596,1118.7 603.2,1121.6 732.5,1195 739,1205.6 739,1255.2 723.2,1253 723.2,1212 603.2,1141 603.2,1180.5 587.4,1174.7 587.4,1123.7" fill="none" stroke-width="1.8"/>
<polyline points="587.4,1123.7 603.2,1132 735,1208 739,1205.6" fill="none" stroke-width="1.3"/>
<polyline points="603.2,1132 603.2,1141" fill="none" stroke-width="1.3"/>
<polyline points="619,1129.5 732.5,1195" fill="none" stroke-width="1.2"/>
<polyline points="597.5,1182.6 721.8,1253" fill="none" stroke-width="1.3"/>
<polyline points="597.5,1182.6 597.5,1140" fill="none" stroke-width="1"/>
<ellipse cx="595.3" cy="1128" rx="3.2" ry="4" fill="none" stroke-width="1.3" transform="rotate(20 595.3 1128)"/>
<ellipse cx="729.7" cy="1205.6" rx="3.2" ry="4" fill="none" stroke-width="1.3" transform="rotate(20 729.7 1205.6)"/>
<polyline points="604.7,1122 610,1119 618.3,1124 618.3,1130" fill="none" stroke-width="1.3"/>
<ellipse cx="610.4" cy="1125.1" rx="3" ry="3.4" fill="none" stroke-width="1.2"/>
<polygon points="565.2,981.5 581,965.8 589,967.3 594.3,973.6 594.3,1011.5 590.5,1014.7 579.4,1008.4 579.4,984.7" fill="#fff" stroke="none"/>
<polyline points="565.2,981.5 581,965.8 589,967.3 594.3,973.6 594.3,1011.5 590.5,1014.7 579.4,1008.4 579.4,984.7 565.2,981.5" fill="none" stroke-width="1.6"/>
<polyline points="565.2,981.5 565.2,985 575,990 579.4,987" fill="none" stroke-width="1.3"/>
<polyline points="579.4,984.7 594.3,973.6" fill="none" stroke-width="1.2"/>
<polyline points="590.5,978 590.5,1014.7" fill="none" stroke-width="1.2"/>
<ellipse cx="573.2" cy="976.5" rx="3.5" ry="2.6" fill="none" stroke-width="1.2"/>
<ellipse cx="582.5" cy="972" rx="3" ry="2.2" fill="none" stroke-width="1.2"/>
<ellipse cx="585.7" cy="1000" rx="2.4" ry="3" fill="none" stroke-width="1.2"/>
<polygon points="942.1,1299 959.6,1285 967.6,1286.9 971,1296.3 971,1332.5 967.6,1334.3 955.5,1327.1 955.5,1305.7" fill="#fff" stroke="none"/>
<polyline points="942.1,1299 959.6,1285 967.6,1286.9 971,1296.3 971,1332.5 967.6,1334.3 955.5,1327.1 955.5,1305.7 942.1,1299" fill="none" stroke-width="1.6"/>
<polyline points="942.1,1299 942.1,1302 951,1306 955.5,1304" fill="none" stroke-width="1.3"/>
<polyline points="955.5,1305.7 971,1296.3" fill="none" stroke-width="1.2"/>
<polyline points="967.6,1300 967.6,1334.3" fill="none" stroke-width="1.2"/>
<ellipse cx="950.2" cy="1297" rx="3.5" ry="2.6" fill="none" stroke-width="1.2"/>
<ellipse cx="959.6" cy="1291" rx="3" ry="2.2" fill="none" stroke-width="1.2"/>
<ellipse cx="961.5" cy="1320.5" rx="2.4" ry="3" fill="none" stroke-width="1.2"/>
<polyline points="666.2,1240.4 729.4,1205.7" fill="none" stroke-width="1.2"/>
<polyline points="783,1243.5 815,1262.5" fill="none" stroke-width="1.2"/>
<polyline points="742,1196.2 780,1174.6" fill="none" stroke-width="1.2"/>
<polygon points="1059.5,181.5 1092,177 1092,186 1060,190" fill="#fff" stroke-width="1.4"/>
<ellipse cx="1060" cy="186" rx="2.5" ry="4.5" fill="none" stroke-width="1.3"/>
<polygon points="1094,178 1113,166.5 1119,168.5 1100,180" fill="#fff" stroke-width="1.4"/>
<polygon points="1079.2,338.4 1082,333 1195.8,331.6 1200,337.7 1200,341.2 1139.6,375.5 1079.2,342.5" fill="#fff" stroke="none"/>
<polyline points="1079.2,338.4 1079.2,342.5 1139.6,375.5 1200,341.2 1200,337.7" fill="none" stroke-width="1.7"/>
<polyline points="1082,333 1079.2,338.4 1135,369.5 1144,369.5 1200,337.7 1195.8,331.6" fill="none" stroke-width="1.6"/>
<ellipse cx="1138.5" cy="364.5" rx="5.5" ry="3.8" fill="none" stroke-width="1.3"/>
<ellipse cx="1138.5" cy="364.5" rx="2.5" ry="1.8" fill="none" stroke-width="1.1"/>
<ellipse cx="1085.5" cy="336" rx="3" ry="2" fill="none" stroke-width="1.2"/>
<ellipse cx="1193" cy="335" rx="3" ry="2" fill="none" stroke-width="1.2"/>
<rect x="1132" y="370" width="14.4" height="22" rx="2" fill="#fff" stroke-width="1.6"/>
<polygon points="1090.5,186 1128.6,164.4 1149.4,163.6 1188.2,186 1188.2,331 1149.9,363 1128.6,363 1089.5,331" fill="#fff" stroke="none"/>
<polyline points="1090.5,199 1089.5,334" fill="none" stroke-width="1.8"/>
<polyline points="1188.2,199 1188.2,332" fill="none" stroke-width="1.8"/>
<polyline points="1128.6,220.4 1128.6,363" fill="none" stroke-width="1.3"/>
<polyline points="1149.4,220.4 1149.4,363" fill="none" stroke-width="1.3"/>
<path d="M1090.5,186 L1128.6,164.4 Q1139,172 1149.4,163.6 L1188.2,186 Q1181,192.5 1188.2,199 L1149.4,220.4 Q1139,213 1128.6,220.4 L1090.5,199 Q1097.5,192.5 1090.5,186 Z" fill="none" stroke-width="1.8"/>
<path d="M1090.5,246.3 L1128.6,267.8 Q1139,261.8 1149.4,267.8 L1188.2,246.3" fill="none" stroke-width="1.5"/>
<path d="M1090.5,270.7 L1128.6,292.2 Q1139,286.2 1149.4,292.2 L1188.2,270.7" fill="none" stroke-width="1.5"/>
<path d="M1090.5,311 L1128.6,332.2 Q1139,326.2 1149.4,332.2 L1188.2,311" fill="none" stroke-width="1.5"/>
<rect x="1086.5" y="226" width="3.5" height="31" fill="#fff" stroke-width="1.3"/>
<path d="M1110.1,417.3 L1110.1,482.5 A28.8,16 0 0 0 1168.4,482.5 L1168.4,417.3 Z" fill="#fff" stroke="none"/>
<path d="M1110.1,458 L1110.1,475 A28.8,16 0 0 0 1168.4,475 L1168.4,458" fill="none" stroke-width="1.7"/>
<path d="M1110.1,458 A28.8,16 0 0 0 1168.4,458" fill="none" stroke-width="1.5"/>
<ellipse cx="1138.9" cy="475.6" rx="8.5" ry="5.5" fill="none" stroke-width="1.4"/>
<polyline points="1118,447 1118,462" fill="none" stroke-width="1.3"/>
<polyline points="1131,449 1131,464" fill="none" stroke-width="1.3"/>
<path d="M1118,452 Q1124,455 1131,452" fill="none" stroke-width="1.1"/>
<path d="M1118,457 Q1124,460 1131,457" fill="none" stroke-width="1.1"/>
<polyline points="1160,423 1160,470" fill="none" stroke-width="1.3"/>
<polyline points="1165,423 1165,472" fill="none" stroke-width="1.2"/>
<path d="M1110.1,417.3 L1110.1,433.8 A28.8,16 0 0 0 1168.4,433.8 L1168.4,417.3" fill="none" stroke-width="1.7"/>
<path d="M1110.1,433.8 A28.8,16 0 0 0 1168.4,433.8" fill="none" stroke-width="0"/>
<path d="M1110.1,417.3 L1114,410 Q1120,414 1125,409 Q1124,403 1128,402.5 A28.8,16 0 0 1 1168.4,417.3 Q1160,418 1152,424 Q1148,428 1154,432" fill="none" stroke-width="1.7"/>
<path d="M1110.1,417.3 A28.8,16 0 0 0 1154,432" fill="none" stroke-width="1.6"/>
<ellipse cx="1138.9" cy="417.3" rx="7" ry="4.5" fill="none" stroke-width="1.4"/>
<ellipse cx="1138.9" cy="442.5" rx="8.5" ry="5.5" fill="none" stroke-width="1.4"/>
<polygon points="1312.3,210.3 1368.8,178.8 1427.2,210.3 1430.7,228.3 1430.7,296 1414.6,305.3 1414.6,309 1368.6,337.7 1321.6,309 1321.6,296 1311.7,286.7 1311.7,249.3 1312.3,210.3" fill="#fff" stroke="none"/>
<polyline points="1321.6,296 1321.6,309 1368.6,337.7 1414.6,309 1414.6,304.2" fill="none" stroke-width="1.7"/>
<polyline points="1368.8,325.2 1368.8,337.7" fill="none" stroke-width="1.5"/>
<polyline points="1322.2,296.6 1368.8,325.2" fill="none" stroke-width="0"/>
<polyline points="1323.3,244.7 1360.7,224.8" fill="none" stroke-width="1.3"/>
<polyline points="1324.5,275 1360.7,254" fill="none" stroke-width="1.3"/>
<polyline points="1324.5,292.5 1358.3,272.7" fill="none" stroke-width="1.3"/>
<path d="M1338.5,286.7 A17,11 0 0 1 1370,271.5" fill="none" stroke-width="1.5"/>
<path d="M1345.5,284.3 A14,9 0 0 1 1370,274.4" fill="none" stroke-width="1.3"/>
<polyline points="1338.5,286.7 1338.5,299.5 1368.8,311.2" fill="none" stroke-width="1.5"/>
<polyline points="1311.7,249.3 1311.7,290.2 1321,293.7 1324.5,290.2 1324.5,235.3 1318.7,231.8" fill="none" stroke-width="1.6"/>
<polyline points="1321.6,235.3 1321.6,291.3" fill="none" stroke-width="1.2"/>
<ellipse cx="1318.7" cy="255.8" rx="3.5" ry="4.5" fill="none" stroke-width="1.4" transform="rotate(20 1318.7 255.8)"/>
<ellipse cx="1318.7" cy="284.9" rx="4.5" ry="5.5" fill="none" stroke-width="1.4" transform="rotate(20 1318.7 284.9)"/>
<polyline points="1368.8,261 1368.8,325.2 1379.3,325.2 1429.5,296 1430.7,228.3 1427.2,231.8" fill="none" stroke-width="1.6"/>
<polyline points="1379.3,263.3 1379.3,325.2" fill="none" stroke-width="1.4"/>
<polyline points="1379.3,263.3 1427.2,235.3" fill="none" stroke-width="1.4"/>
<polyline points="1388.7,275 1423.7,251.7" fill="none" stroke-width="1.2"/>
<polyline points="1388.7,289 1423.7,269.2" fill="none" stroke-width="1.2"/>
<polyline points="1388.7,303 1423.7,280.8" fill="none" stroke-width="1.2"/>
<polyline points="1388.7,315.8 1423.7,296" fill="none" stroke-width="1.2"/>
<polyline points="1388.7,268 1388.7,320.5" fill="none" stroke-width="1.2"/>
<polyline points="1423.7,242.3 1423.7,297.2" fill="none" stroke-width="1.2"/>
<ellipse cx="1373.5" cy="286.7" rx="4" ry="5" fill="none" stroke-width="1.4" transform="rotate(20 1373.5 286.7)"/>
<ellipse cx="1372.9" cy="315.8" rx="4.5" ry="5.5" fill="none" stroke-width="1.4" transform="rotate(20 1372.9 315.8)"/>
<polygon points="1312.3,210.3 1368.8,178.8 1427.2,210.3 1427.2,223.7 1369.4,261 1360.7,258.7 1360.7,251.7 1319.8,229.5 1312.3,224.8" fill="#fff" stroke="none"/>
<polyline points="1312.3,210.3 1365.3,178.8 1372.3,178.8 1427.2,208.5 1427.2,221.3 1379.3,250.5 1360.7,251.7 1319.8,228.3 1312.3,224.8 1312.3,210.3" fill="none" stroke-width="1.8"/>
<polyline points="1312.3,214.3 1365.3,245.3 1373.5,245.3 1427.2,214.3" fill="none" stroke-width="1.6"/>
<polyline points="1360.7,251.7 1360.7,258.7 1368.8,262.2 1379.3,258.7 1379.3,250.5" fill="none" stroke-width="1.5"/>
<polyline points="1319.8,228.3 1319.8,235.3" fill="none" stroke-width="1.3"/>
<ellipse cx="1369" cy="216" rx="36" ry="22" fill="none" stroke-width="1.7"/>
<ellipse cx="1369" cy="215" rx="32" ry="19" fill="none" stroke-width="1.3"/>
<ellipse cx="1369" cy="219" rx="28" ry="16.5" fill="none" stroke-width="1.5"/>
<polyline points="1346.7,223.7 1365.3,208.5" fill="none" stroke-width="1.2"/>
<polyline points="1371.2,209.7 1371.2,230.7" fill="none" stroke-width="1.2"/>
<polyline points="1378.2,212 1395.7,219" fill="none" stroke-width="1.2"/>
<ellipse cx="1368.8" cy="185.2" rx="5" ry="3.2" fill="none" stroke-width="1.3"/>
<ellipse cx="1416.1" cy="212" rx="5" ry="3.2" fill="none" stroke-width="1.3"/>
<ellipse cx="1368.8" cy="240" rx="5" ry="3.2" fill="none" stroke-width="1.3"/>
<ellipse cx="1322.8" cy="211.4" rx="5" ry="3.2" fill="none" stroke-width="1.3"/>
<polyline points="1312.7,347.7 1372.3,316.1" fill="none" stroke-width="1.2"/>
<path d="M1343.5,357 L1343.5,372 Q1357.5,381 1371.5,372 L1371.5,357 Z" fill="#fff" stroke-width="1.6"/>
<polyline points="1350,360 1350,377" fill="none" stroke-width="1.2"/>
<polyline points="1364,360 1364,377" fill="none" stroke-width="1.2"/>
<ellipse cx="1357.5" cy="357" rx="14" ry="7" fill="none" stroke-width="1.6"/>
<path d="M1346,357 L1346,349 A11.5,5.5 0 0 1 1369,349 L1369,357" fill="#fff" stroke-width="1.5"/>
<ellipse cx="1357.5" cy="349" rx="11.5" ry="5.5" fill="none" stroke-width="1.5"/>
<ellipse cx="1357.5" cy="349.5" rx="8" ry="3.8" fill="none" stroke-width="1.2"/>
<path d="M1331.7,453.2 L1331.7,483 A26,14 0 0 0 1383.7,483 L1383.7,453.2 Z" fill="#fff" stroke-width="1.7"/>
<path d="M1331.7,468 A26,14 0 0 0 1383.7,468" fill="none" stroke-width="1.5"/>
<ellipse cx="1357.7" cy="453.2" rx="26" ry="14" fill="none" stroke-width="1.7"/>
<ellipse cx="1357.7" cy="453.2" rx="19" ry="10" fill="none" stroke-width="1.3"/>
<ellipse cx="1357.7" cy="453.2" rx="12" ry="6.5" fill="none" stroke-width="1.5"/>
<ellipse cx="1357.7" cy="453.2" rx="7" ry="4" fill="none" stroke-width="1.3"/>
<polygon points="1314.2,535.5 1318,531 1353,514.5 1362,514.5 1399.7,537 1399.7,542 1362,566 1353,566 1314.2,541" fill="#fff" stroke="none"/>
<polyline points="1314.2,535.5 1318,531 1353,514.5 1362,514.5 1399.7,537 1399.7,542 1362,566 1353,566 1314.2,541 1314.2,535.5" fill="none" stroke-width="1.7"/>
<polyline points="1314.2,535.5 1353,559 1362,559 1399.7,537" fill="none" stroke-width="1.4"/>
<polyline points="1353,559 1353,566" fill="none" stroke-width="1.1"/>
<polyline points="1362,559 1362,566" fill="none" stroke-width="1.1"/>
<ellipse cx="1357.7" cy="538" rx="22.6" ry="12.5" fill="none" stroke-width="1.6"/>
<ellipse cx="1357.7" cy="537" rx="20" ry="10.5" fill="none" stroke-width="1"/>
<ellipse cx="1357.5" cy="520.5" rx="3" ry="2" fill="none" stroke-width="1.2"/>
<ellipse cx="1322" cy="536.5" rx="3" ry="2" fill="none" stroke-width="1.2"/>
<ellipse cx="1393" cy="538.5" rx="3" ry="2" fill="none" stroke-width="1.2"/>
<ellipse cx="1357.5" cy="556" rx="3" ry="2" fill="none" stroke-width="1.2"/>
<polygon points="1723.4,522.4 1738.6,514 1768.8,529.2 1768.8,549.3 1755.4,559.4 1723.4,541" fill="#fff" stroke="none"/>
<polyline points="1723.4,522.4 1738.6,514 1768.8,529.2 1768.8,549.3 1755.4,559.4 1723.4,541 1723.4,522.4" fill="none" stroke-width="1.7"/>
<polyline points="1723.4,522.4 1755.4,540 1768.8,529.2" fill="none" stroke-width="1.5"/>
<polyline points="1755.4,540 1755.4,559.4" fill="none" stroke-width="1.5"/>
<ellipse cx="1732.5" cy="535" rx="5.5" ry="7" fill="none" stroke-width="1.4" transform="rotate(25 1732.5 535)"/>
<ellipse cx="1745.5" cy="542.5" rx="5.5" ry="7" fill="none" stroke-width="1.4" transform="rotate(25 1745.5 542.5)"/>
<ellipse cx="1725.8" cy="557.8" rx="5" ry="3.6" transform="rotate(61 1725.8 557.8)" fill="#fff" stroke-width="1.6"/>
<polygon points="1712.8,570.7 1728.2,562.2 1723.4,553.4 1707.9,562" fill="#fff" stroke="none"/>
<polyline points="1712.8,570.7 1728.2,562.2" fill="none" stroke-width="1.6"/>
<polyline points="1707.9,562 1723.4,553.4" fill="none" stroke-width="1.6"/>
<ellipse cx="1710.3" cy="566.4" rx="5" ry="3.6" transform="rotate(61 1710.3 566.4)" fill="#fff" stroke-width="1.6"/>
<path d="M1719.2,567.2 Q1718.8,561.7 1714.4,558.4" stroke-width="1.1"/>
<path d="M1722.8,565.2 Q1722.4,559.7 1718,556.4" stroke-width="1.1"/>
<path d="M1726.4,563.2 Q1726,557.7 1721.6,554.4" stroke-width="1.1"/>
<ellipse cx="1710.3" cy="566.4" rx="9" ry="6.5" transform="rotate(61 1710.3 566.4)" fill="#fff" stroke-width="1.6"/>
<polygon points="1706,579.1 1714.7,574.2 1706,558.5 1697.2,563.3" fill="#fff" stroke="none"/>
<polyline points="1706,579.1 1714.7,574.2" fill="none" stroke-width="1.6"/>
<polyline points="1697.2,563.3 1706,558.5" fill="none" stroke-width="1.6"/>
<ellipse cx="1701.6" cy="571.2" rx="9" ry="6.5" transform="rotate(61 1701.6 571.2)" fill="#fff" stroke-width="1.6"/>
<ellipse cx="1701.6" cy="571.2" rx="4" ry="2.9" transform="rotate(61 1701.6 571.2)" fill="#fff" stroke-width="1.6"/>
<path d="M1514.7,860 L1514.7,884 A10,4 0 0 0 1534.7,884 L1534.7,860 Z" fill="#fff" stroke="none"/>
<path d="M1514.7,860 L1514.7,884 A10,4 0 0 0 1534.7,884 L1534.7,860" fill="none" stroke-width="1.7"/>
<ellipse cx="1524.7" cy="860" rx="10" ry="4" fill="#fff" stroke-width="1.7"/>
<path d="M1512.1,815 L1512.1,862 A12.6,5 0 0 0 1537.3,862 L1537.3,815 Z" fill="#fff" stroke="none"/>
<path d="M1512.1,815 L1512.1,862 A12.6,5 0 0 0 1537.3,862 L1537.3,815" fill="none" stroke-width="1.7"/>
<path d="M1512.1,845 A12.6,5 0 0 0 1537.3,845" fill="none" stroke-width="1.2"/>
<path d="M1493.1,790 L1493.1,818 A31.6,14 0 0 0 1556.3,818 L1556.3,790 Z" fill="#fff" stroke="none"/>
<path d="M1493.1,790 L1493.1,818 A31.6,14 0 0 0 1556.3,818 L1556.3,790" fill="none" stroke-width="1.7"/>
<path d="M1472.6,760 Q1474,752 1482,747 L1500,737 Q1510,732 1520,737 L1570,762 Q1576,766 1576,772 L1576,783 L1535,806 Q1529,809 1523,806 L1472.6,775.2 Z" fill="#fff" stroke-width="1.8"/>
<polyline points="1472.6,760 1523,791.5 1535,791.5 1576,768" fill="none" stroke-width="1.5"/>
<polyline points="1529.4,794 1529.4,808" fill="none" stroke-width="1.2"/>
<ellipse cx="1485.8" cy="759.4" rx="4" ry="2.6" fill="none" stroke-width="1.3"/>
<ellipse cx="1562.5" cy="770.5" rx="4" ry="2.6" fill="none" stroke-width="1.3"/>
<ellipse cx="1532.6" cy="786.2" rx="4" ry="2.6" fill="none" stroke-width="1.3"/>
<ellipse cx="1524.7" cy="764" rx="16" ry="7" fill="#fff" stroke-width="1.6"/>
<path d="M1511.3,727 L1511.3,764 A13.4,5.5 0 0 0 1538.1,764 L1538.1,727 Z" fill="#fff" stroke="none"/>
<path d="M1511.3,727 L1511.3,764 A13.4,5.5 0 0 0 1538.1,764 L1538.1,727" fill="none" stroke-width="1.7"/>
<path d="M1511.3,742 A13.4,5.5 0 0 0 1538.1,742" fill="none" stroke-width="1.2"/>
<path d="M1514.2,684 L1514.2,727 A10.5,4.5 0 0 0 1535.2,727 L1535.2,684 Z" fill="#fff" stroke="none"/>
<path d="M1514.2,684 L1514.2,727 A10.5,4.5 0 0 0 1535.2,727 L1535.2,684" fill="none" stroke-width="1.7"/>
<path d="M1514.2,688 A10.5,4 0 0 0 1535.2,688" fill="none" stroke-width="1.1"/>
<path d="M1514.2,692 A10.5,4 0 0 0 1535.2,692" fill="none" stroke-width="1.1"/>
<path d="M1514.2,696 A10.5,4 0 0 0 1535.2,696" fill="none" stroke-width="1.1"/>
<path d="M1514.2,700 A10.5,4 0 0 0 1535.2,700" fill="none" stroke-width="1.1"/>
<path d="M1514.2,704 A10.5,4 0 0 0 1535.2,704" fill="none" stroke-width="1.1"/>
<path d="M1514.2,708 A10.5,4 0 0 0 1535.2,708" fill="none" stroke-width="1.1"/>
<path d="M1516.7,669 L1516.7,686 A8,3.5 0 0 0 1532.7,686 L1532.7,669 Z" fill="#fff" stroke="none"/>
<path d="M1516.7,669 L1516.7,686 A8,3.5 0 0 0 1532.7,686 L1532.7,669" fill="none" stroke-width="1.7"/>
<ellipse cx="1524.7" cy="669" rx="8" ry="3.5" fill="#fff" stroke-width="1.7"/>
<path d="M1494,925 L1494,936 A30,16 0 0 0 1554,936 L1554,925 Z" fill="#fff" stroke="none"/>
<path d="M1494,925 L1494,936 A30,16 0 0 0 1554,936 L1554,925" fill="none" stroke-width="1.7"/>
<ellipse cx="1524" cy="925" rx="30" ry="16" fill="#fff" stroke-width="1.7"/>
<ellipse cx="1524" cy="925" rx="14" ry="7" fill="none" stroke-width="1.5"/>
<path d="M1497.7,982 L1497.7,1000 A27,15 0 0 0 1551.7,1000 L1551.7,982 Z" fill="#fff" stroke="none"/>
<path d="M1497.7,982 L1497.7,1000 A27,15 0 0 0 1551.7,1000 L1551.7,982" fill="none" stroke-width="1.7"/>
<ellipse cx="1524.7" cy="982" rx="27" ry="15" fill="#fff" stroke-width="1.7"/>
<ellipse cx="1524.7" cy="982" rx="20" ry="11" fill="none" stroke-width="1.3"/>
<ellipse cx="1524.7" cy="982" rx="13" ry="7" fill="none" stroke-width="1.5"/>
<ellipse cx="1524.7" cy="982" rx="9" ry="4.8" fill="none" stroke-width="1.2"/>
<path d="M1516,1022 A14,9 0 1 0 1532,1022" fill="none" stroke-width="1.7"/>
<path d="M1518,1026 A10,6 0 1 0 1530,1026" fill="none" stroke-width="1.3"/>
<polyline points="1516,1022 1518,1026" fill="none" stroke-width="1.3"/>
<polyline points="1532,1022 1530,1026" fill="none" stroke-width="1.3"/>
<path d="M1510,1030 L1510,1034 A14,9 0 0 0 1538,1034 L1538,1030" fill="none" stroke-width="1.5"/>
<polygon points="1484,1126.1 1518.1,1105.3 1536,1109.8 1543.4,1112.7 1543.4,1121.7 1567.1,1135 1576,1132 1593.9,1142.4 1593.9,1161.7 1550.8,1185.5 1525.6,1185.5 1484,1161.7" fill="#fff" stroke="none"/>
<polyline points="1484,1126.1 1518.1,1105.3 1536,1109.8 1543.4,1112.7 1543.4,1121.7 1567.1,1135 1576,1132 1593.9,1142.4 1593.9,1161.7 1550.8,1185.5 1525.6,1185.5 1484,1161.7 1484,1126.1" fill="none" stroke-width="1.8"/>
<polyline points="1484,1143.8 1550.8,1166.2 1593.9,1142.4" fill="none" stroke-width="0"/>
<polyline points="1484,1126.1 1484,1144 1525.6,1167.5" fill="none" stroke-width="0"/>
<polyline points="1484,1143.8 1525.6,1167" fill="none" stroke-width="1.6"/>
<polyline points="1550.8,1166.2 1593.9,1142.4" fill="none" stroke-width="1.6"/>
<polyline points="1550.8,1166.2 1550.8,1185.5" fill="none" stroke-width="1.6"/>
<polyline points="1525.6,1167 1525.6,1185.5" fill="none" stroke-width="1.2"/>
<polyline points="1543.4,1121.7 1536,1126" fill="none" stroke-width="1.2"/>
<ellipse cx="1524.1" cy="1141" rx="28" ry="16" fill="none" stroke-width="1.7"/>
<ellipse cx="1524.1" cy="1140" rx="25" ry="13.5" fill="none" stroke-width="1.2"/>
<path d="M1500,1151 A24,12 0 0 1 1548,1151" fill="none" stroke-width="1.4"/>
<ellipse cx="1537.4" cy="1176" rx="10" ry="6" fill="none" stroke-width="1.4"/>
<ellipse cx="1357" cy="705" rx="9" ry="11.5" fill="none" stroke-width="1.5" transform="rotate(-30 1357 705)"/>
<rect x="1344.2" y="713" width="26.6" height="105" fill="#fff" stroke="none"/>
<path d="M1344.2,713 A13.3,4.5 0 0 0 1370.8,713" fill="none" stroke-width="1.6"/>
<path d="M1344.2,713 A13.3,4.5 0 0 1 1370.8,713" fill="none" stroke-width="1.1"/>
<path d="M1344.2,718.4 A13.3,4.5 0 0 0 1370.8,718.4" fill="none" stroke-width="1.6"/>
<path d="M1344.2,718.4 A13.3,4.5 0 0 1 1370.8,718.4" fill="none" stroke-width="1.1"/>
<path d="M1344.2,723.8 A13.3,4.5 0 0 0 1370.8,723.8" fill="none" stroke-width="1.6"/>
<path d="M1344.2,723.8 A13.3,4.5 0 0 1 1370.8,723.8" fill="none" stroke-width="1.1"/>
<path d="M1344.2,729.2 A13.3,4.5 0 0 0 1370.8,729.2" fill="none" stroke-width="1.6"/>
<path d="M1344.2,729.2 A13.3,4.5 0 0 1 1370.8,729.2" fill="none" stroke-width="1.1"/>
<path d="M1344.2,734.6 A13.3,4.5 0 0 0 1370.8,734.6" fill="none" stroke-width="1.6"/>
<path d="M1344.2,734.6 A13.3,4.5 0 0 1 1370.8,734.6" fill="none" stroke-width="1.1"/>
<path d="M1344.2,740 A13.3,4.5 0 0 0 1370.8,740" fill="none" stroke-width="1.6"/>
<path d="M1344.2,740 A13.3,4.5 0 0 1 1370.8,740" fill="none" stroke-width="1.1"/>
<path d="M1344.2,745.4 A13.3,4.5 0 0 0 1370.8,745.4" fill="none" stroke-width="1.6"/>
<path d="M1344.2,745.4 A13.3,4.5 0 0 1 1370.8,745.4" fill="none" stroke-width="1.1"/>
<path d="M1344.2,750.8 A13.3,4.5 0 0 0 1370.8,750.8" fill="none" stroke-width="1.6"/>
<path d="M1344.2,750.8 A13.3,4.5 0 0 1 1370.8,750.8" fill="none" stroke-width="1.1"/>
<path d="M1344.2,756.2 A13.3,4.5 0 0 0 1370.8,756.2" fill="none" stroke-width="1.6"/>
<path d="M1344.2,756.2 A13.3,4.5 0 0 1 1370.8,756.2" fill="none" stroke-width="1.1"/>
<path d="M1344.2,761.6 A13.3,4.5 0 0 0 1370.8,761.6" fill="none" stroke-width="1.6"/>
<path d="M1344.2,761.6 A13.3,4.5 0 0 1 1370.8,761.6" fill="none" stroke-width="1.1"/>
<path d="M1344.2,767 A13.3,4.5 0 0 0 1370.8,767" fill="none" stroke-width="1.6"/>
<path d="M1344.2,767 A13.3,4.5 0 0 1 1370.8,767" fill="none" stroke-width="1.1"/>
<path d="M1344.2,772.4 A13.3,4.5 0 0 0 1370.8,772.4" fill="none" stroke-width="1.6"/>
<path d="M1344.2,772.4 A13.3,4.5 0 0 1 1370.8,772.4" fill="none" stroke-width="1.1"/>
<path d="M1344.2,777.8 A13.3,4.5 0 0 0 1370.8,777.8" fill="none" stroke-width="1.6"/>
<path d="M1344.2,777.8 A13.3,4.5 0 0 1 1370.8,777.8" fill="none" stroke-width="1.1"/>
<path d="M1344.2,783.2 A13.3,4.5 0 0 0 1370.8,783.2" fill="none" stroke-width="1.6"/>
<path d="M1344.2,783.2 A13.3,4.5 0 0 1 1370.8,783.2" fill="none" stroke-width="1.1"/>
<path d="M1344.2,788.6 A13.3,4.5 0 0 0 1370.8,788.6" fill="none" stroke-width="1.6"/>
<path d="M1344.2,788.6 A13.3,4.5 0 0 1 1370.8,788.6" fill="none" stroke-width="1.1"/>
<path d="M1344.2,794 A13.3,4.5 0 0 0 1370.8,794" fill="none" stroke-width="1.6"/>
<path d="M1344.2,794 A13.3,4.5 0 0 1 1370.8,794" fill="none" stroke-width="1.1"/>
<path d="M1344.2,799.4 A13.3,4.5 0 0 0 1370.8,799.4" fill="none" stroke-width="1.6"/>
<path d="M1344.2,799.4 A13.3,4.5 0 0 1 1370.8,799.4" fill="none" stroke-width="1.1"/>
<path d="M1344.2,804.8 A13.3,4.5 0 0 0 1370.8,804.8" fill="none" stroke-width="1.6"/>
<path d="M1344.2,804.8 A13.3,4.5 0 0 1 1370.8,804.8" fill="none" stroke-width="1.1"/>
<path d="M1344.2,810.2 A13.3,4.5 0 0 0 1370.8,810.2" fill="none" stroke-width="1.6"/>
<path d="M1344.2,810.2 A13.3,4.5 0 0 1 1370.8,810.2" fill="none" stroke-width="1.1"/>
<path d="M1344.2,815.6 A13.3,4.5 0 0 0 1370.8,815.6" fill="none" stroke-width="1.6"/>
<path d="M1344.2,815.6 A13.3,4.5 0 0 1 1370.8,815.6" fill="none" stroke-width="1.1"/>
<ellipse cx="1358.5" cy="830" rx="9" ry="11" fill="none" stroke-width="1.5" transform="rotate(-30 1358.5 830)"/>
<ellipse cx="1791.5" cy="1025" rx="9" ry="11.5" fill="none" stroke-width="1.5" transform="rotate(-30 1791.5 1025)"/>
<rect x="1778.7" y="1033" width="26.6" height="112" fill="#fff" stroke="none"/>
<path d="M1778.7,1033 A13.3,4.5 0 0 0 1805.3,1033" fill="none" stroke-width="1.6"/>
<path d="M1778.7,1033 A13.3,4.5 0 0 1 1805.3,1033" fill="none" stroke-width="1.1"/>
<path d="M1778.7,1038.4 A13.3,4.5 0 0 0 1805.3,1038.4" fill="none" stroke-width="1.6"/>
<path d="M1778.7,1038.4 A13.3,4.5 0 0 1 1805.3,1038.4" fill="none" stroke-width="1.1"/>
<path d="M1778.7,1043.8 A13.3,4.5 0 0 0 1805.3,1043.8" fill="none" stroke-width="1.6"/>
<path d="M1778.7,1043.8 A13.3,4.5 0 0 1 1805.3,1043.8" fill="none" stroke-width="1.1"/>
<path d="M1778.7,1049.2 A13.3,4.5 0 0 0 1805.3,1049.2" fill="none" stroke-width="1.6"/>
<path d="M1778.7,1049.2 A13.3,4.5 0 0 1 1805.3,1049.2" fill="none" stroke-width="1.1"/>
<path d="M1778.7,1054.6 A13.3,4.5 0 0 0 1805.3,1054.6" fill="none" stroke-width="1.6"/>
<path d="M1778.7,1054.6 A13.3,4.5 0 0 1 1805.3,1054.6" fill="none" stroke-width="1.1"/>
<path d="M1778.7,1060 A13.3,4.5 0 0 0 1805.3,1060" fill="none" stroke-width="1.6"/>
<path d="M1778.7,1060 A13.3,4.5 0 0 1 1805.3,1060" fill="none" stroke-width="1.1"/>
<path d="M1778.7,1065.4 A13.3,4.5 0 0 0 1805.3,1065.4" fill="none" stroke-width="1.6"/>
<path d="M1778.7,1065.4 A13.3,4.5 0 0 1 1805.3,1065.4" fill="none" stroke-width="1.1"/>
<path d="M1778.7,1070.8 A13.3,4.5 0 0 0 1805.3,1070.8" fill="none" stroke-width="1.6"/>
<path d="M1778.7,1070.8 A13.3,4.5 0 0 1 1805.3,1070.8" fill="none" stroke-width="1.1"/>
<path d="M1778.7,1076.2 A13.3,4.5 0 0 0 1805.3,1076.2" fill="none" stroke-width="1.6"/>
<path d="M1778.7,1076.2 A13.3,4.5 0 0 1 1805.3,1076.2" fill="none" stroke-width="1.1"/>
<path d="M1778.7,1081.6 A13.3,4.5 0 0 0 1805.3,1081.6" fill="none" stroke-width="1.6"/>
<path d="M1778.7,1081.6 A13.3,4.5 0 0 1 1805.3,1081.6" fill="none" stroke-width="1.1"/>
<path d="M1778.7,1087 A13.3,4.5 0 0 0 1805.3,1087" fill="none" stroke-width="1.6"/>
<path d="M1778.7,1087 A13.3,4.5 0 0 1 1805.3,1087" fill="none" stroke-width="1.1"/>
<path d="M1778.7,1092.4 A13.3,4.5 0 0 0 1805.3,1092.4" fill="none" stroke-width="1.6"/>
<path d="M1778.7,1092.4 A13.3,4.5 0 0 1 1805.3,1092.4" fill="none" stroke-width="1.1"/>
<path d="M1778.7,1097.8 A13.3,4.5 0 0 0 1805.3,1097.8" fill="none" stroke-width="1.6"/>
<path d="M1778.7,1097.8 A13.3,4.5 0 0 1 1805.3,1097.8" fill="none" stroke-width="1.1"/>
<path d="M1778.7,1103.2 A13.3,4.5 0 0 0 1805.3,1103.2" fill="none" stroke-width="1.6"/>
<path d="M1778.7,1103.2 A13.3,4.5 0 0 1 1805.3,1103.2" fill="none" stroke-width="1.1"/>
<path d="M1778.7,1108.6 A13.3,4.5 0 0 0 1805.3,1108.6" fill="none" stroke-width="1.6"/>
<path d="M1778.7,1108.6 A13.3,4.5 0 0 1 1805.3,1108.6" fill="none" stroke-width="1.1"/>
<path d="M1778.7,1114 A13.3,4.5 0 0 0 1805.3,1114" fill="none" stroke-width="1.6"/>
<path d="M1778.7,1114 A13.3,4.5 0 0 1 1805.3,1114" fill="none" stroke-width="1.1"/>
<path d="M1778.7,1119.4 A13.3,4.5 0 0 0 1805.3,1119.4" fill="none" stroke-width="1.6"/>
<path d="M1778.7,1119.4 A13.3,4.5 0 0 1 1805.3,1119.4" fill="none" stroke-width="1.1"/>
<path d="M1778.7,1124.8 A13.3,4.5 0 0 0 1805.3,1124.8" fill="none" stroke-width="1.6"/>
<path d="M1778.7,1124.8 A13.3,4.5 0 0 1 1805.3,1124.8" fill="none" stroke-width="1.1"/>
<path d="M1778.7,1130.2 A13.3,4.5 0 0 0 1805.3,1130.2" fill="none" stroke-width="1.6"/>
<path d="M1778.7,1130.2 A13.3,4.5 0 0 1 1805.3,1130.2" fill="none" stroke-width="1.1"/>
<path d="M1778.7,1135.6 A13.3,4.5 0 0 0 1805.3,1135.6" fill="none" stroke-width="1.6"/>
<path d="M1778.7,1135.6 A13.3,4.5 0 0 1 1805.3,1135.6" fill="none" stroke-width="1.1"/>
<path d="M1778.7,1141 A13.3,4.5 0 0 0 1805.3,1141" fill="none" stroke-width="1.6"/>
<path d="M1778.7,1141 A13.3,4.5 0 0 1 1805.3,1141" fill="none" stroke-width="1.1"/>
<ellipse cx="1793.5" cy="1153" rx="9" ry="11" fill="none" stroke-width="1.5" transform="rotate(-30 1793.5 1153)"/>
<polygon points="1163.9,765.4 1168,763.5 1352,868 1352,953 1348.2,952.8 1348.2,871 1163.9,767" fill="#fff" stroke-width="1.6"/>
<polyline points="1163.9,765.4 1163.9,790" fill="none" stroke-width="1.6"/>
<ellipse cx="1176" cy="788" rx="8" ry="5.8" transform="rotate(58 1176 788)" fill="#fff" stroke-width="1.6"/>
<polygon points="1172.2,799.8 1180.2,794.8 1171.8,781.2 1163.8,786.2" fill="#fff" stroke="none"/>
<polyline points="1172.2,799.8 1180.2,794.8" fill="none" stroke-width="1.6"/>
<polyline points="1163.8,786.2 1171.8,781.2" fill="none" stroke-width="1.6"/>
<ellipse cx="1168" cy="793" rx="8" ry="5.8" transform="rotate(58 1168 793)" fill="#fff" stroke-width="1.6"/>
<ellipse cx="1332" cy="878" rx="8" ry="5.8" transform="rotate(59 1332 878)" fill="#fff" stroke-width="1.6"/>
<polygon points="1326.1,890.9 1336.1,884.9 1327.9,871.1 1317.9,877.1" fill="#fff" stroke="none"/>
<polyline points="1326.1,890.9 1336.1,884.9" fill="none" stroke-width="1.6"/>
<polyline points="1317.9,877.1 1327.9,871.1" fill="none" stroke-width="1.6"/>
<ellipse cx="1322" cy="884" rx="8" ry="5.8" transform="rotate(59 1322 884)" fill="#fff" stroke-width="1.6"/>
<polygon points="1288.7,907.8 1302.5,915.8 1302.5,1015.8 1288.7,1007.8" fill="#fff" stroke-width="1.6"/>
<polygon points="1302.5,915.8 1335.4,896.8 1335.4,996.8 1302.5,1015.8" fill="#fff" stroke-width="1.6"/>
<polygon points="1288.7,907.8 1321.6,888.8 1335.4,896.8 1302.5,915.8" fill="#fff" stroke-width="1.6"/>
<ellipse cx="1319" cy="962" rx="3.5" ry="7" fill="none" stroke-width="1.4" transform="rotate(20 1319 962)"/>
<polygon points="1101.6,799.8 1302.5,915.8 1302.5,927.8 1101.6,811.8" fill="#fff" stroke-width="1.6"/>
<polygon points="1302.5,915.8 1335.4,896.8 1335.4,908.8 1302.5,927.8" fill="#fff" stroke-width="1.6"/>
<polygon points="1101.6,799.8 1134.5,780.8 1335.4,896.8 1302.5,915.8" fill="#fff" stroke-width="1.6"/>
<ellipse cx="1139.1" cy="802.3" rx="10" ry="6" fill="none" stroke-width="1.6"/>
<ellipse cx="1161.6" cy="815.3" rx="10" ry="6" fill="none" stroke-width="1.6"/>
<ellipse cx="1184.1" cy="828.3" rx="10" ry="6" fill="none" stroke-width="1.6"/>
<ellipse cx="1206.7" cy="841.3" rx="10" ry="6" fill="none" stroke-width="1.6"/>
<ellipse cx="1229.2" cy="854.3" rx="10" ry="6" fill="none" stroke-width="1.6"/>
<ellipse cx="1251.7" cy="867.3" rx="10" ry="6" fill="none" stroke-width="1.6"/>
<ellipse cx="1274.2" cy="880.3" rx="10" ry="6" fill="none" stroke-width="1.6"/>
<ellipse cx="1296.7" cy="893.3" rx="10" ry="6" fill="none" stroke-width="1.6"/>
<ellipse cx="1132.8" cy="791.8" rx="5.5" ry="3.5" fill="none" stroke-width="1.3"/>
<ellipse cx="1304.2" cy="904.8" rx="5.5" ry="3.5" fill="none" stroke-width="1.3"/>
<polygon points="1083.2,827.5 1115.4,809.5 1132.7,820.7 1101.8,837.3" fill="#fff" stroke-width="1.6"/>
<polygon points="1101.8,837.3 1132.7,820.7 1132.7,832 1101.8,849" fill="#fff" stroke-width="1.6"/>
<polygon points="1064.4,853.6 1076.7,848.8 1101.8,837.3 1101.8,849 1077.4,862 1077.4,902.4 1064.4,895.5" fill="#fff" stroke-width="1.6"/>
<polygon points="1055.8,848.1 1083.2,830.5 1101.8,837.3 1076.7,848.8 1064.4,853.6" fill="#fff" stroke-width="1.6"/>
<polyline points="1064.7,842 1076.7,848.8" fill="none" stroke-width="1.3"/>
<polygon points="1055.1,866.7 1064.4,861.2 1064.4,895.5 1064.7,880.7 1055.1,875" fill="#fff" stroke-width="1.6"/>
<path d="M1064.7,880.7 Q1071,881 1077,883.1" fill="none" stroke-width="1.4"/>
<polygon points="1045.5,853.6 1055,859.1 1055,866.7 1045.5,861.2" fill="#fff" stroke-width="1.6"/>
<polygon points="1055,859.1 1065.4,853.1 1065.4,860.7 1055,866.7" fill="#fff" stroke-width="1.6"/>
<polygon points="1045.5,853.6 1055.9,847.6 1065.4,853.1 1055,859.1" fill="#fff" stroke-width="1.6"/>
<polygon points="1068,908.6 1081,916.1 1081,986.1 1068,978.6" fill="#fff" stroke-width="1.6"/>
<polygon points="1081,916.1 1096.4,907.2 1096.4,977.2 1081,986.1" fill="#fff" stroke-width="1.6"/>
<polygon points="1068,908.6 1083.4,899.7 1096.4,907.2 1081,916.1" fill="#fff" stroke-width="1.6"/>
<polyline points="1081,916.1 1081,986.1" fill="none" stroke-width="1.1"/>
<polygon points="1052.1,954.7 1064.2,961.7 1064.2,969.7 1052.1,962.7" fill="#fff" stroke-width="1.6"/>
<polygon points="1064.2,961.7 1078.9,953.2 1078.9,961.2 1064.2,969.7" fill="#fff" stroke-width="1.6"/>
<polygon points="1052.1,954.7 1066.8,946.2 1078.9,953.2 1064.2,961.7" fill="#fff" stroke-width="1.6"/>
<polygon points="1065.3,974 1077.4,981 1077.4,1021 1065.3,1014" fill="#fff" stroke-width="1.4"/>
<polygon points="1077.4,981 1086.1,976 1086.1,1016 1077.4,1021" fill="#fff" stroke-width="1.4"/>
<polygon points="1065.3,974 1074,969 1086.1,976 1077.4,981" fill="#fff" stroke-width="1.4"/>
<polygon points="1105.5,840.4 1137.7,822.4 1155,833.6 1124.1,850.1" fill="#fff" stroke-width="1.6"/>
<polygon points="1124.1,850.1 1155,833.6 1155,844.9 1124.1,861.9" fill="#fff" stroke-width="1.6"/>
<polygon points="1086.7,866.5 1099,861.6 1124.1,850.1 1124.1,861.9 1099.7,874.9 1099.7,915.2 1086.7,908.4" fill="#fff" stroke-width="1.6"/>
<polygon points="1078.1,861 1105.5,843.4 1124.1,850.1 1099,861.6 1086.7,866.5" fill="#fff" stroke-width="1.6"/>
<polyline points="1087,854.9 1099,861.6" fill="none" stroke-width="1.3"/>
<polygon points="1077.4,879.6 1086.7,874.1 1086.7,908.4 1087,893.6 1077.4,887.9" fill="#fff" stroke-width="1.6"/>
<path d="M1087,893.6 Q1093.3,893.9 1099.3,896" fill="none" stroke-width="1.4"/>
<polygon points="1067.8,866.5 1077.3,872 1077.3,879.6 1067.8,874.1" fill="#fff" stroke-width="1.6"/>
<polygon points="1077.3,872 1087.7,866 1087.7,873.6 1077.3,879.6" fill="#fff" stroke-width="1.6"/>
<polygon points="1067.8,866.5 1078.2,860.5 1087.7,866 1077.3,872" fill="#fff" stroke-width="1.6"/>
<polygon points="1090.3,921.5 1103.2,929 1103.2,999 1090.3,991.5" fill="#fff" stroke-width="1.6"/>
<polygon points="1103.2,929 1118.7,920.1 1118.7,990.1 1103.2,999" fill="#fff" stroke-width="1.6"/>
<polygon points="1090.3,921.5 1105.7,912.6 1118.7,920.1 1103.2,929" fill="#fff" stroke-width="1.6"/>
<polyline points="1103.2,929 1103.2,999" fill="none" stroke-width="1.1"/>
<polygon points="1074.4,967.6 1086.5,974.6 1086.5,982.6 1074.4,975.6" fill="#fff" stroke-width="1.6"/>
<polygon points="1086.5,974.6 1101.2,966.1 1101.2,974.1 1086.5,982.6" fill="#fff" stroke-width="1.6"/>
<polygon points="1074.4,967.6 1089.1,959.1 1101.2,966.1 1086.5,974.6" fill="#fff" stroke-width="1.6"/>
<polygon points="1087.6,986.9 1099.7,993.9 1099.7,1033.8 1087.6,1026.8" fill="#fff" stroke-width="1.4"/>
<polygon points="1099.7,993.9 1108.3,988.9 1108.3,1028.8 1099.7,1033.8" fill="#fff" stroke-width="1.4"/>
<polygon points="1087.6,986.9 1096.2,981.9 1108.3,988.9 1099.7,993.9" fill="#fff" stroke-width="1.4"/>
<polygon points="1127.7,853.2 1159.9,835.2 1177.2,846.4 1146.3,863" fill="#fff" stroke-width="1.6"/>
<polygon points="1146.3,863 1177.2,846.4 1177.2,857.7 1146.3,874.7" fill="#fff" stroke-width="1.6"/>
<polygon points="1108.9,879.3 1121.2,874.5 1146.3,863 1146.3,874.7 1121.9,887.7 1121.9,928.1 1108.9,921.2" fill="#fff" stroke-width="1.6"/>
<polygon points="1100.3,873.8 1127.7,856.2 1146.3,863 1121.2,874.5 1108.9,879.3" fill="#fff" stroke-width="1.6"/>
<polyline points="1109.2,867.7 1121.2,874.5" fill="none" stroke-width="1.3"/>
<polygon points="1099.6,892.4 1108.9,886.9 1108.9,921.2 1109.2,906.4 1099.6,900.7" fill="#fff" stroke-width="1.6"/>
<path d="M1109.2,906.4 Q1115.5,906.7 1121.5,908.8" fill="none" stroke-width="1.4"/>
<polygon points="1090,879.3 1099.5,884.8 1099.5,892.4 1090,886.9" fill="#fff" stroke-width="1.6"/>
<polygon points="1099.5,884.8 1109.9,878.8 1109.9,886.4 1099.5,892.4" fill="#fff" stroke-width="1.6"/>
<polygon points="1090,879.3 1100.4,873.3 1109.9,878.8 1099.5,884.8" fill="#fff" stroke-width="1.6"/>
<polygon points="1112.5,934.3 1125.5,941.8 1125.5,1011.8 1112.5,1004.3" fill="#fff" stroke-width="1.6"/>
<polygon points="1125.5,941.8 1140.9,932.9 1140.9,1002.9 1125.5,1011.8" fill="#fff" stroke-width="1.6"/>
<polygon points="1112.5,934.3 1127.9,925.4 1140.9,932.9 1125.5,941.8" fill="#fff" stroke-width="1.6"/>
<polyline points="1125.5,941.8 1125.5,1011.8" fill="none" stroke-width="1.1"/>
<polygon points="1096.6,980.4 1108.7,987.4 1108.7,995.4 1096.6,988.4" fill="#fff" stroke-width="1.6"/>
<polygon points="1108.7,987.4 1123.5,978.9 1123.5,986.9 1108.7,995.4" fill="#fff" stroke-width="1.6"/>
<polygon points="1096.6,980.4 1111.3,971.9 1123.5,978.9 1108.7,987.4" fill="#fff" stroke-width="1.6"/>
<polygon points="1109.8,999.7 1121.9,1006.7 1121.9,1046.7 1109.8,1039.7" fill="#fff" stroke-width="1.4"/>
<polygon points="1121.9,1006.7 1130.6,1001.7 1130.6,1041.7 1121.9,1046.7" fill="#fff" stroke-width="1.4"/>
<polygon points="1109.8,999.7 1118.5,994.7 1130.6,1001.7 1121.9,1006.7" fill="#fff" stroke-width="1.4"/>
<polygon points="1150,866 1182.2,848 1199.5,859.2 1168.6,875.8" fill="#fff" stroke-width="1.6"/>
<polygon points="1168.6,875.8 1199.5,859.2 1199.5,870.5 1168.6,887.5" fill="#fff" stroke-width="1.6"/>
<polygon points="1131.2,892.1 1143.5,887.3 1168.6,875.8 1168.6,887.5 1144.2,900.5 1144.2,940.9 1131.2,934" fill="#fff" stroke-width="1.6"/>
<polygon points="1122.6,886.6 1150,869 1168.6,875.8 1143.5,887.3 1131.2,892.1" fill="#fff" stroke-width="1.6"/>
<polyline points="1131.5,880.5 1143.5,887.3" fill="none" stroke-width="1.3"/>
<polygon points="1121.9,905.2 1131.2,899.8 1131.2,934 1131.5,919.2 1121.9,913.5" fill="#fff" stroke-width="1.6"/>
<path d="M1131.5,919.2 Q1137.8,919.5 1143.8,921.6" fill="none" stroke-width="1.4"/>
<polygon points="1112.3,892.1 1121.8,897.6 1121.8,905.2 1112.3,899.8" fill="#fff" stroke-width="1.6"/>
<polygon points="1121.8,897.6 1132.2,891.6 1132.2,899.2 1121.8,905.2" fill="#fff" stroke-width="1.6"/>
<polygon points="1112.3,892.1 1122.7,886.1 1132.2,891.6 1121.8,897.6" fill="#fff" stroke-width="1.6"/>
<polygon points="1134.8,947.1 1147.8,954.6 1147.8,1024.7 1134.8,1017.1" fill="#fff" stroke-width="1.6"/>
<polygon points="1147.8,954.6 1163.2,945.8 1163.2,1015.8 1147.8,1024.7" fill="#fff" stroke-width="1.6"/>
<polygon points="1134.8,947.1 1150.2,938.2 1163.2,945.8 1147.8,954.6" fill="#fff" stroke-width="1.6"/>
<polyline points="1147.8,954.6 1147.8,1024.7" fill="none" stroke-width="1.1"/>
<polygon points="1118.9,993.2 1131,1000.2 1131,1008.2 1118.9,1001.2" fill="#fff" stroke-width="1.6"/>
<polygon points="1131,1000.2 1145.7,991.8 1145.7,999.8 1131,1008.2" fill="#fff" stroke-width="1.6"/>
<polygon points="1118.9,993.2 1133.6,984.8 1145.7,991.8 1131,1000.2" fill="#fff" stroke-width="1.6"/>
<polygon points="1132.1,1012.5 1144.2,1019.5 1144.2,1059.5 1132.1,1052.5" fill="#fff" stroke-width="1.4"/>
<polygon points="1144.2,1019.5 1152.9,1014.5 1152.9,1054.5 1144.2,1059.5" fill="#fff" stroke-width="1.4"/>
<polygon points="1132.1,1012.5 1140.7,1007.5 1152.9,1014.5 1144.2,1019.5" fill="#fff" stroke-width="1.4"/>
<polygon points="1172.2,878.9 1204.4,860.9 1221.7,872.1 1190.8,888.7" fill="#fff" stroke-width="1.6"/>
<polygon points="1190.8,888.7 1221.7,872.1 1221.7,883.4 1190.8,900.4" fill="#fff" stroke-width="1.6"/>
<polygon points="1153.4,905 1165.7,900.2 1190.8,888.7 1190.8,900.4 1166.4,913.4 1166.4,953.8 1153.4,946.9" fill="#fff" stroke-width="1.6"/>
<polygon points="1144.8,899.5 1172.2,881.9 1190.8,888.7 1165.7,900.2 1153.4,905" fill="#fff" stroke-width="1.6"/>
<polyline points="1153.7,893.4 1165.7,900.2" fill="none" stroke-width="1.3"/>
<polygon points="1144.1,918.1 1153.4,912.6 1153.4,946.9 1153.7,932.1 1144.1,926.4" fill="#fff" stroke-width="1.6"/>
<path d="M1153.7,932.1 Q1160,932.4 1166,934.5" fill="none" stroke-width="1.4"/>
<polygon points="1134.5,905 1144.1,910.5 1144.1,918.1 1134.5,912.6" fill="#fff" stroke-width="1.6"/>
<polygon points="1144.1,910.5 1154.5,904.5 1154.5,912.1 1144.1,918.1" fill="#fff" stroke-width="1.6"/>
<polygon points="1134.5,905 1144.9,899 1154.5,904.5 1144.1,910.5" fill="#fff" stroke-width="1.6"/>
<polygon points="1157,960 1170,967.5 1170,1037.5 1157,1030" fill="#fff" stroke-width="1.6"/>
<polygon points="1170,967.5 1185.4,958.6 1185.4,1028.6 1170,1037.5" fill="#fff" stroke-width="1.6"/>
<polygon points="1157,960 1172.5,951.1 1185.4,958.6 1170,967.5" fill="#fff" stroke-width="1.6"/>
<polyline points="1170,967.5 1170,1037.5" fill="none" stroke-width="1.1"/>
<polygon points="1141.1,1006.1 1153.3,1013.1 1153.3,1021.1 1141.1,1014.1" fill="#fff" stroke-width="1.6"/>
<polygon points="1153.3,1013.1 1168,1004.6 1168,1012.6 1153.3,1021.1" fill="#fff" stroke-width="1.6"/>
<polygon points="1141.1,1006.1 1155.9,997.6 1168,1004.6 1153.3,1013.1" fill="#fff" stroke-width="1.6"/>
<polygon points="1154.3,1025.4 1166.5,1032.4 1166.5,1072.4 1154.3,1065.4" fill="#fff" stroke-width="1.4"/>
<polygon points="1166.5,1032.4 1175.1,1027.4 1175.1,1067.4 1166.5,1072.4" fill="#fff" stroke-width="1.4"/>
<polygon points="1154.3,1025.4 1163,1020.4 1175.1,1027.4 1166.5,1032.4" fill="#fff" stroke-width="1.4"/>
<polygon points="1194.5,891.8 1226.7,873.8 1244,885 1213.1,901.5" fill="#fff" stroke-width="1.6"/>
<polygon points="1213.1,901.5 1244,885 1244,896.2 1213.1,913.2" fill="#fff" stroke-width="1.6"/>
<polygon points="1175.7,917.9 1188,913 1213.1,901.5 1213.1,913.2 1188.7,926.2 1188.7,966.6 1175.7,959.8" fill="#fff" stroke-width="1.6"/>
<polygon points="1167.1,912.4 1194.5,894.8 1213.1,901.5 1188,913 1175.7,917.9" fill="#fff" stroke-width="1.6"/>
<polyline points="1176,906.2 1188,913" fill="none" stroke-width="1.3"/>
<polygon points="1166.4,931 1175.7,925.5 1175.7,959.8 1176,945 1166.4,939.2" fill="#fff" stroke-width="1.6"/>
<path d="M1176,945 Q1182.3,945.2 1188.3,947.4" fill="none" stroke-width="1.4"/>
<polygon points="1156.8,917.9 1166.3,923.4 1166.3,931 1156.8,925.5" fill="#fff" stroke-width="1.6"/>
<polygon points="1166.3,923.4 1176.7,917.4 1176.7,925 1166.3,931" fill="#fff" stroke-width="1.6"/>
<polygon points="1156.8,917.9 1167.2,911.9 1176.7,917.4 1166.3,923.4" fill="#fff" stroke-width="1.6"/>
<polygon points="1179.3,972.9 1192.3,980.4 1192.3,1050.3 1179.3,1042.8" fill="#fff" stroke-width="1.6"/>
<polygon points="1192.3,980.4 1207.7,971.5 1207.7,1041.5 1192.3,1050.3" fill="#fff" stroke-width="1.6"/>
<polygon points="1179.3,972.9 1194.7,964 1207.7,971.5 1192.3,980.4" fill="#fff" stroke-width="1.6"/>
<polyline points="1192.3,980.4 1192.3,1050.3" fill="none" stroke-width="1.1"/>
<polygon points="1163.4,1019 1175.5,1026 1175.5,1034 1163.4,1027" fill="#fff" stroke-width="1.6"/>
<polygon points="1175.5,1026 1190.2,1017.5 1190.2,1025.5 1175.5,1034" fill="#fff" stroke-width="1.6"/>
<polygon points="1163.4,1019 1178.1,1010.5 1190.2,1017.5 1175.5,1026" fill="#fff" stroke-width="1.6"/>
<polygon points="1176.6,1038.2 1188.7,1045.2 1188.7,1085.2 1176.6,1078.2" fill="#fff" stroke-width="1.4"/>
<polygon points="1188.7,1045.2 1197.4,1040.2 1197.4,1080.2 1188.7,1085.2" fill="#fff" stroke-width="1.4"/>
<polygon points="1176.6,1038.2 1185.3,1033.2 1197.4,1040.2 1188.7,1045.2" fill="#fff" stroke-width="1.4"/>
<polygon points="1216.8,904.6 1249,886.6 1266.3,897.8 1235.4,914.4" fill="#fff" stroke-width="1.6"/>
<polygon points="1235.4,914.4 1266.3,897.8 1266.3,909.1 1235.4,926.1" fill="#fff" stroke-width="1.6"/>
<polygon points="1198,930.7 1210.3,925.9 1235.4,914.4 1235.4,926.1 1211,939.1 1211,979.5 1198,972.6" fill="#fff" stroke-width="1.6"/>
<polygon points="1189.4,925.2 1216.8,907.6 1235.4,914.4 1210.3,925.9 1198,930.7" fill="#fff" stroke-width="1.6"/>
<polyline points="1198.3,919.1 1210.3,925.9" fill="none" stroke-width="1.3"/>
<polygon points="1188.7,943.8 1198,938.3 1198,972.6 1198.3,957.8 1188.7,952.1" fill="#fff" stroke-width="1.6"/>
<path d="M1198.3,957.8 Q1204.6,958.1 1210.6,960.2" fill="none" stroke-width="1.4"/>
<polygon points="1179.1,930.7 1188.6,936.2 1188.6,943.8 1179.1,938.3" fill="#fff" stroke-width="1.6"/>
<polygon points="1188.6,936.2 1199,930.2 1199,937.8 1188.6,943.8" fill="#fff" stroke-width="1.6"/>
<polygon points="1179.1,930.7 1189.5,924.7 1199,930.2 1188.6,936.2" fill="#fff" stroke-width="1.6"/>
<polygon points="1201.6,985.7 1214.5,993.2 1214.5,1063.2 1201.6,1055.7" fill="#fff" stroke-width="1.6"/>
<polygon points="1214.5,993.2 1230,984.3 1230,1054.3 1214.5,1063.2" fill="#fff" stroke-width="1.6"/>
<polygon points="1201.6,985.7 1217,976.8 1230,984.3 1214.5,993.2" fill="#fff" stroke-width="1.6"/>
<polyline points="1214.5,993.2 1214.5,1063.2" fill="none" stroke-width="1.1"/>
<polygon points="1185.7,1031.8 1197.8,1038.8 1197.8,1046.8 1185.7,1039.8" fill="#fff" stroke-width="1.6"/>
<polygon points="1197.8,1038.8 1212.5,1030.3 1212.5,1038.3 1197.8,1046.8" fill="#fff" stroke-width="1.6"/>
<polygon points="1185.7,1031.8 1200.4,1023.3 1212.5,1030.3 1197.8,1038.8" fill="#fff" stroke-width="1.6"/>
<polygon points="1198.9,1051.1 1211,1058.1 1211,1098.1 1198.9,1091.1" fill="#fff" stroke-width="1.4"/>
<polygon points="1211,1058.1 1219.6,1053.1 1219.6,1093.1 1211,1098.1" fill="#fff" stroke-width="1.4"/>
<polygon points="1198.9,1051.1 1207.5,1046.1 1219.6,1053.1 1211,1058.1" fill="#fff" stroke-width="1.4"/>
<polygon points="1241,917.9 1261.8,929.9 1261.8,1054.9 1241,1042.9" fill="#fff" stroke-width="1.6"/>
<polygon points="1261.8,929.9 1290.4,913.4 1290.4,1038.4 1261.8,1054.9" fill="#fff" stroke-width="1.6"/>
<polygon points="1241,917.9 1269.6,901.4 1290.4,913.4 1261.8,929.9" fill="#fff" stroke-width="1.6"/>
<polyline points="1241,992.9 1261.8,1004.9 1290.4,988.4" fill="none" stroke-width="1.3"/>
<polyline points="1241,1017.9 1261.8,1029.9 1290.4,1013.4" fill="none" stroke-width="1.3"/>
<ellipse cx="1270" cy="960" rx="14" ry="8" fill="none" stroke-width="1.1"/>
<polygon points="1201.3,944 1210.8,949.5 1210.8,957.1 1201.3,951.6" fill="#fff" stroke-width="1.6"/>
<polygon points="1210.8,949.5 1221.2,943.5 1221.2,951.1 1210.8,957.1" fill="#fff" stroke-width="1.6"/>
<polygon points="1201.3,944 1211.7,938 1221.2,943.5 1210.8,949.5" fill="#fff" stroke-width="1.6"/>
<polygon points="1210.6,950 1241,932 1241,975 1222,987 1210.6,980" fill="#fff" stroke-width="1.6"/>
<polygon points="1221.2,927.8 1236.8,936.8 1236.8,1000.8 1221.2,991.8" fill="#fff" stroke-width="1.6"/>
<polygon points="1236.8,936.8 1248.9,929.8 1248.9,993.8 1236.8,1000.8" fill="#fff" stroke-width="1.6"/>
<polygon points="1221.2,927.8 1233.3,920.8 1248.9,929.8 1236.8,936.8" fill="#fff" stroke-width="1.6"/>
<polyline points="1236.8,961.8 1248.9,954.8" fill="none" stroke-width="1.2"/>
<polygon points="1070.5,1029.8 1086.1,1038.8 1086.1,1133.8 1070.5,1124.8" fill="#fff" stroke-width="1.6"/>
<polygon points="1086.1,1038.8 1106.6,1027 1106.6,1122 1086.1,1133.8" fill="#fff" stroke-width="1.6"/>
<polygon points="1070.5,1029.8 1091,1017.9 1106.6,1027 1086.1,1038.8" fill="#fff" stroke-width="1.6"/>
<polyline points="1070.5,1037.8 1086.1,1046.8 1106.6,1035" fill="none" stroke-width="1.3"/>
<polyline points="1070.5,1065.8 1086.1,1074.8 1106.6,1063" fill="none" stroke-width="1.3"/>
<polyline points="1070.5,1093.8 1086.1,1102.8 1106.6,1091" fill="none" stroke-width="1.3"/>
<polygon points="1059.8,1086 1073.7,1094 1073.7,1134 1059.8,1126" fill="#fff" stroke-width="1.6"/>
<polygon points="1073.7,1094 1084,1088 1084,1128 1073.7,1134" fill="#fff" stroke-width="1.6"/>
<polygon points="1059.8,1086 1070.2,1080 1084,1088 1073.7,1094" fill="#fff" stroke-width="1.6"/>
<polyline points="1059.8,1092 1073.7,1100 1084,1094" fill="none" stroke-width="1.2"/>
<polygon points="1046.2,1124.5 1059.2,1132 1059.2,1140 1046.2,1132.5" fill="#fff" stroke-width="1.6"/>
<polygon points="1059.2,1132 1073,1124 1073,1132 1059.2,1140" fill="#fff" stroke-width="1.6"/>
<polygon points="1046.2,1124.5 1060.1,1116.5 1073,1124 1059.2,1132" fill="#fff" stroke-width="1.6"/>
<polygon points="1092.8,1042.6 1108.3,1051.6 1108.3,1146.6 1092.8,1137.6" fill="#fff" stroke-width="1.6"/>
<polygon points="1108.3,1051.6 1128.9,1039.8 1128.9,1134.8 1108.3,1146.6" fill="#fff" stroke-width="1.6"/>
<polygon points="1092.8,1042.6 1113.3,1030.8 1128.9,1039.8 1108.3,1051.6" fill="#fff" stroke-width="1.6"/>
<polyline points="1092.8,1050.6 1108.3,1059.6 1128.9,1047.8" fill="none" stroke-width="1.3"/>
<polyline points="1092.8,1078.6 1108.3,1087.6 1128.9,1075.8" fill="none" stroke-width="1.3"/>
<polyline points="1092.8,1106.6 1108.3,1115.6 1128.9,1103.8" fill="none" stroke-width="1.3"/>
<polygon points="1082.1,1098.8 1095.9,1106.8 1095.9,1146.8 1082.1,1138.8" fill="#fff" stroke-width="1.6"/>
<polygon points="1095.9,1106.8 1106.3,1100.8 1106.3,1140.8 1095.9,1146.8" fill="#fff" stroke-width="1.6"/>
<polygon points="1082.1,1098.8 1092.5,1092.8 1106.3,1100.8 1095.9,1106.8" fill="#fff" stroke-width="1.6"/>
<polyline points="1082.1,1104.8 1095.9,1112.8 1106.3,1106.8" fill="none" stroke-width="1.2"/>
<polygon points="1068.5,1137.3 1081.5,1144.8 1081.5,1152.8 1068.5,1145.3" fill="#fff" stroke-width="1.6"/>
<polygon points="1081.5,1144.8 1095.3,1136.8 1095.3,1144.8 1081.5,1152.8" fill="#fff" stroke-width="1.6"/>
<polygon points="1068.5,1137.3 1082.3,1129.3 1095.3,1136.8 1081.5,1144.8" fill="#fff" stroke-width="1.6"/>
<polygon points="1115,1055.5 1130.6,1064.5 1130.6,1159.5 1115,1150.5" fill="#fff" stroke-width="1.6"/>
<polygon points="1130.6,1064.5 1151.1,1052.7 1151.1,1147.7 1130.6,1159.5" fill="#fff" stroke-width="1.6"/>
<polygon points="1115,1055.5 1135.5,1043.7 1151.1,1052.7 1130.6,1064.5" fill="#fff" stroke-width="1.6"/>
<polyline points="1115,1063.5 1130.6,1072.5 1151.1,1060.7" fill="none" stroke-width="1.3"/>
<polyline points="1115,1091.5 1130.6,1100.5 1151.1,1088.7" fill="none" stroke-width="1.3"/>
<polyline points="1115,1119.5 1130.6,1128.5 1151.1,1116.7" fill="none" stroke-width="1.3"/>
<polygon points="1104.3,1111.7 1118.2,1119.7 1118.2,1159.7 1104.3,1151.7" fill="#fff" stroke-width="1.6"/>
<polygon points="1118.2,1119.7 1128.6,1113.7 1128.6,1153.7 1118.2,1159.7" fill="#fff" stroke-width="1.6"/>
<polygon points="1104.3,1111.7 1114.7,1105.7 1128.6,1113.7 1118.2,1119.7" fill="#fff" stroke-width="1.6"/>
<polyline points="1104.3,1117.7 1118.2,1125.7 1128.6,1119.7" fill="none" stroke-width="1.2"/>
<polygon points="1090.7,1150.2 1103.7,1157.7 1103.7,1165.7 1090.7,1158.2" fill="#fff" stroke-width="1.6"/>
<polygon points="1103.7,1157.7 1117.6,1149.7 1117.6,1157.7 1103.7,1165.7" fill="#fff" stroke-width="1.6"/>
<polygon points="1090.7,1150.2 1104.6,1142.2 1117.6,1149.7 1103.7,1157.7" fill="#fff" stroke-width="1.6"/>
<polygon points="1137.3,1068.3 1152.9,1077.3 1152.9,1172.3 1137.3,1163.3" fill="#fff" stroke-width="1.6"/>
<polygon points="1152.9,1077.3 1173.4,1065.5 1173.4,1160.5 1152.9,1172.3" fill="#fff" stroke-width="1.6"/>
<polygon points="1137.3,1068.3 1157.8,1056.5 1173.4,1065.5 1152.9,1077.3" fill="#fff" stroke-width="1.6"/>
<polyline points="1137.3,1076.3 1152.9,1085.3 1173.4,1073.5" fill="none" stroke-width="1.3"/>
<polyline points="1137.3,1104.3 1152.9,1113.3 1173.4,1101.5" fill="none" stroke-width="1.3"/>
<polyline points="1137.3,1132.3 1152.9,1141.3 1173.4,1129.5" fill="none" stroke-width="1.3"/>
<polygon points="1126.6,1124.5 1140.4,1132.5 1140.4,1172.5 1126.6,1164.5" fill="#fff" stroke-width="1.6"/>
<polygon points="1140.4,1132.5 1150.8,1126.5 1150.8,1166.5 1140.4,1172.5" fill="#fff" stroke-width="1.6"/>
<polygon points="1126.6,1124.5 1137,1118.5 1150.8,1126.5 1140.4,1132.5" fill="#fff" stroke-width="1.6"/>
<polyline points="1126.6,1130.5 1140.4,1138.5 1150.8,1132.5" fill="none" stroke-width="1.2"/>
<polygon points="1113,1163 1126,1170.5 1126,1178.5 1113,1171" fill="#fff" stroke-width="1.6"/>
<polygon points="1126,1170.5 1139.8,1162.5 1139.8,1170.5 1126,1178.5" fill="#fff" stroke-width="1.6"/>
<polygon points="1113,1163 1126.8,1155 1139.8,1162.5 1126,1170.5" fill="#fff" stroke-width="1.6"/>
<polygon points="1159.5,1081.2 1175.1,1090.2 1175.1,1185.2 1159.5,1176.2" fill="#fff" stroke-width="1.6"/>
<polygon points="1175.1,1090.2 1195.7,1078.4 1195.7,1173.4 1175.1,1185.2" fill="#fff" stroke-width="1.6"/>
<polygon points="1159.5,1081.2 1180.1,1069.4 1195.7,1078.4 1175.1,1090.2" fill="#fff" stroke-width="1.6"/>
<polyline points="1159.5,1089.2 1175.1,1098.2 1195.7,1086.4" fill="none" stroke-width="1.3"/>
<polyline points="1159.5,1117.2 1175.1,1126.2 1195.7,1114.4" fill="none" stroke-width="1.3"/>
<polyline points="1159.5,1145.2 1175.1,1154.2 1195.7,1142.4" fill="none" stroke-width="1.3"/>
<polygon points="1148.8,1137.4 1162.7,1145.4 1162.7,1185.4 1148.8,1177.4" fill="#fff" stroke-width="1.6"/>
<polygon points="1162.7,1145.4 1173.1,1139.4 1173.1,1179.4 1162.7,1185.4" fill="#fff" stroke-width="1.6"/>
<polygon points="1148.8,1137.4 1159.2,1131.4 1173.1,1139.4 1162.7,1145.4" fill="#fff" stroke-width="1.6"/>
<polyline points="1148.8,1143.4 1162.7,1151.4 1173.1,1145.4" fill="none" stroke-width="1.2"/>
<polygon points="1135.2,1175.9 1148.2,1183.4 1148.2,1191.4 1135.2,1183.9" fill="#fff" stroke-width="1.6"/>
<polygon points="1148.2,1183.4 1162.1,1175.4 1162.1,1183.4 1148.2,1191.4" fill="#fff" stroke-width="1.6"/>
<polygon points="1135.2,1175.9 1149.1,1167.9 1162.1,1175.4 1148.2,1183.4" fill="#fff" stroke-width="1.6"/>
<polygon points="1181.8,1094 1197.4,1103 1197.4,1198 1181.8,1189" fill="#fff" stroke-width="1.6"/>
<polygon points="1197.4,1103 1217.9,1091.2 1217.9,1186.2 1197.4,1198" fill="#fff" stroke-width="1.6"/>
<polygon points="1181.8,1094 1202.3,1082.2 1217.9,1091.2 1197.4,1103" fill="#fff" stroke-width="1.6"/>
<polyline points="1181.8,1102 1197.4,1111 1217.9,1099.2" fill="none" stroke-width="1.3"/>
<polyline points="1181.8,1130 1197.4,1139 1217.9,1127.2" fill="none" stroke-width="1.3"/>
<polyline points="1181.8,1158 1197.4,1167 1217.9,1155.2" fill="none" stroke-width="1.3"/>
<polygon points="1171.1,1150.2 1185,1158.2 1185,1198.2 1171.1,1190.2" fill="#fff" stroke-width="1.6"/>
<polygon points="1185,1158.2 1195.3,1152.2 1195.3,1192.2 1185,1198.2" fill="#fff" stroke-width="1.6"/>
<polygon points="1171.1,1150.2 1181.5,1144.2 1195.3,1152.2 1185,1158.2" fill="#fff" stroke-width="1.6"/>
<polyline points="1171.1,1156.2 1185,1164.2 1195.3,1158.2" fill="none" stroke-width="1.2"/>
<polygon points="1157.5,1188.8 1170.5,1196.2 1170.5,1204.2 1157.5,1196.8" fill="#fff" stroke-width="1.6"/>
<polygon points="1170.5,1196.2 1184.3,1188.2 1184.3,1196.2 1170.5,1204.2" fill="#fff" stroke-width="1.6"/>
<polygon points="1157.5,1188.8 1171.4,1180.8 1184.3,1188.2 1170.5,1196.2" fill="#fff" stroke-width="1.6"/>
<polygon points="1204.1,1106.9 1219.6,1115.9 1219.6,1210.9 1204.1,1201.9" fill="#fff" stroke-width="1.6"/>
<polygon points="1219.6,1115.9 1240.2,1104 1240.2,1199 1219.6,1210.9" fill="#fff" stroke-width="1.6"/>
<polygon points="1204.1,1106.9 1224.6,1095 1240.2,1104 1219.6,1115.9" fill="#fff" stroke-width="1.6"/>
<polyline points="1204.1,1114.9 1219.6,1123.9 1240.2,1112" fill="none" stroke-width="1.3"/>
<polyline points="1204.1,1142.9 1219.6,1151.9 1240.2,1140" fill="none" stroke-width="1.3"/>
<polyline points="1204.1,1170.9 1219.6,1179.9 1240.2,1168" fill="none" stroke-width="1.3"/>
<polygon points="1193.4,1163.1 1207.2,1171.1 1207.2,1211.1 1193.4,1203.1" fill="#fff" stroke-width="1.6"/>
<polygon points="1207.2,1171.1 1217.6,1165.1 1217.6,1205.1 1207.2,1211.1" fill="#fff" stroke-width="1.6"/>
<polygon points="1193.4,1163.1 1203.8,1157.1 1217.6,1165.1 1207.2,1171.1" fill="#fff" stroke-width="1.6"/>
<polyline points="1193.4,1169.1 1207.2,1177.1 1217.6,1171.1" fill="none" stroke-width="1.2"/>
<polygon points="1179.8,1201.6 1192.8,1209.1 1192.8,1217.1 1179.8,1209.6" fill="#fff" stroke-width="1.6"/>
<polygon points="1192.8,1209.1 1206.6,1201.1 1206.6,1209.1 1192.8,1217.1" fill="#fff" stroke-width="1.6"/>
<polygon points="1179.8,1201.6 1193.6,1193.6 1206.6,1201.1 1192.8,1209.1" fill="#fff" stroke-width="1.6"/>
<polygon points="1226.3,1119.8 1241.9,1128.8 1241.9,1223.8 1226.3,1214.8" fill="#fff" stroke-width="1.6"/>
<polygon points="1241.9,1128.8 1262.4,1116.9 1262.4,1211.9 1241.9,1223.8" fill="#fff" stroke-width="1.6"/>
<polygon points="1226.3,1119.8 1246.8,1107.9 1262.4,1116.9 1241.9,1128.8" fill="#fff" stroke-width="1.6"/>
<polyline points="1226.3,1127.8 1241.9,1136.8 1262.4,1124.9" fill="none" stroke-width="1.3"/>
<polyline points="1226.3,1155.8 1241.9,1164.8 1262.4,1152.9" fill="none" stroke-width="1.3"/>
<polyline points="1226.3,1183.8 1241.9,1192.8 1262.4,1180.9" fill="none" stroke-width="1.3"/>
<polygon points="1215.6,1176 1229.5,1184 1229.5,1224 1215.6,1216" fill="#fff" stroke-width="1.6"/>
<polygon points="1229.5,1184 1239.9,1178 1239.9,1218 1229.5,1224" fill="#fff" stroke-width="1.6"/>
<polygon points="1215.6,1176 1226,1170 1239.9,1178 1229.5,1184" fill="#fff" stroke-width="1.6"/>
<polyline points="1215.6,1182 1229.5,1190 1239.9,1184" fill="none" stroke-width="1.2"/>
<polygon points="1202,1214.5 1215,1222 1215,1230 1202,1222.5" fill="#fff" stroke-width="1.6"/>
<polygon points="1215,1222 1228.9,1214 1228.9,1222 1215,1230" fill="#fff" stroke-width="1.6"/>
<polygon points="1202,1214.5 1215.9,1206.5 1228.9,1214 1215,1222" fill="#fff" stroke-width="1.6"/>
<polygon points="1231.5,1062 1247.1,1071 1247.1,1111 1231.5,1102" fill="#fff" stroke-width="1.6"/>
<polygon points="1247.1,1071 1290.4,1046 1290.4,1086 1247.1,1111" fill="#fff" stroke-width="1.6"/>
<polygon points="1231.5,1062 1274.8,1037 1290.4,1046 1247.1,1071" fill="#fff" stroke-width="1.6"/>
<polyline points="1246,1080 1290,1055" fill="none" stroke-width="0"/>
<polygon points="1266.2,1098.1 1278.3,1105.1 1278.3,1191.1 1266.2,1184.1" fill="#fff" stroke-width="1.6"/>
<polygon points="1278.3,1105.1 1304.3,1090.1 1304.3,1176.1 1278.3,1191.1" fill="#fff" stroke-width="1.6"/>
<polygon points="1266.2,1098.1 1292.2,1083.1 1304.3,1090.1 1278.3,1105.1" fill="#fff" stroke-width="1.6"/>
<path d="M1273,1113 Q1268,1117 1272,1121" fill="none" stroke-width="1.3"/>
<path d="M1273,1165 Q1268,1169 1272,1173" fill="none" stroke-width="1.3"/>
<polygon points="1158,1188 1264,1177.7 1264,1206.5 1318.8,1238 1318.8,1257 1264,1226 1160,1205" fill="none" stroke="none"/>
<polyline points="1264,1206.5 1318.8,1238" fill="none" stroke-width="1.5"/>
<ellipse cx="1270.8" cy="1202.3" rx="4" ry="2.5" fill="none" stroke-width="1.3"/>
<path d="M1153.5,1198 L1153.5,1202 A6.6,2.7 0 0 0 1166.9,1202 L1166.9,1198 A6.6,2.7 0 0 0 1153.5,1198 Z" fill="#fff" stroke-width="1.5"/>
<path d="M1152.1,1202 L1152.1,1206 A8.1,3.2 0 0 0 1168.3,1206 L1168.3,1202 A8.1,3.2 0 0 0 1152.1,1202 Z" fill="#fff" stroke-width="1.5"/>
<path d="M1154.5,1206 L1154.5,1209 A5.7,2.3 0 0 0 1165.9,1209 L1165.9,1206 A5.7,2.3 0 0 0 1154.5,1206 Z" fill="#fff" stroke-width="1.5"/>
<path d="M1151.7,1209 L1151.7,1213 A8.6,3.4 0 0 0 1168.8,1213 L1168.8,1209 A8.6,3.4 0 0 0 1151.7,1209 Z" fill="#fff" stroke-width="1.5"/>
<path d="M1155,1213 L1155,1216 A5.2,2.1 0 0 0 1165.4,1216 L1165.4,1213 A5.2,2.1 0 0 0 1155,1213 Z" fill="#fff" stroke-width="1.5"/>
<rect x="1157.2" y="1216" width="6" height="8" fill="#fff" stroke-width="1.4"/>
<path d="M1176.6,1209.4 L1176.6,1213.4 A6.6,2.7 0 0 0 1190,1213.4 L1190,1209.4 A6.6,2.7 0 0 0 1176.6,1209.4 Z" fill="#fff" stroke-width="1.5"/>
<path d="M1175.2,1213.4 L1175.2,1217.4 A8.1,3.2 0 0 0 1191.4,1217.4 L1191.4,1213.4 A8.1,3.2 0 0 0 1175.2,1213.4 Z" fill="#fff" stroke-width="1.5"/>
<path d="M1177.6,1217.4 L1177.6,1220.4 A5.7,2.3 0 0 0 1189,1220.4 L1189,1217.4 A5.7,2.3 0 0 0 1177.6,1217.4 Z" fill="#fff" stroke-width="1.5"/>
<path d="M1174.8,1220.4 L1174.8,1224.4 A8.6,3.4 0 0 0 1191.8,1224.4 L1191.8,1220.4 A8.6,3.4 0 0 0 1174.8,1220.4 Z" fill="#fff" stroke-width="1.5"/>
<path d="M1178.1,1224.4 L1178.1,1227.4 A5.2,2.1 0 0 0 1188.5,1227.4 L1188.5,1224.4 A5.2,2.1 0 0 0 1178.1,1224.4 Z" fill="#fff" stroke-width="1.5"/>
<rect x="1180.3" y="1227.4" width="6" height="9.4" fill="#fff" stroke-width="1.4"/>
<path d="M1198.9,1223.8 L1198.9,1227.8 A6.6,2.7 0 0 0 1212.2,1227.8 L1212.2,1223.8 A6.6,2.7 0 0 0 1198.9,1223.8 Z" fill="#fff" stroke-width="1.5"/>
<path d="M1197.5,1227.8 L1197.5,1231.8 A8.1,3.2 0 0 0 1213.7,1231.8 L1213.7,1227.8 A8.1,3.2 0 0 0 1197.5,1227.8 Z" fill="#fff" stroke-width="1.5"/>
<path d="M1199.9,1231.8 L1199.9,1234.8 A5.7,2.3 0 0 0 1211.3,1234.8 L1211.3,1231.8 A5.7,2.3 0 0 0 1199.9,1231.8 Z" fill="#fff" stroke-width="1.5"/>
<path d="M1197,1234.8 L1197,1238.8 A8.6,3.4 0 0 0 1214.1,1238.8 L1214.1,1234.8 A8.6,3.4 0 0 0 1197,1234.8 Z" fill="#fff" stroke-width="1.5"/>
<path d="M1200.4,1238.8 L1200.4,1241.8 A5.2,2.1 0 0 0 1210.8,1241.8 L1210.8,1238.8 A5.2,2.1 0 0 0 1200.4,1238.8 Z" fill="#fff" stroke-width="1.5"/>
<rect x="1202.6" y="1241.8" width="6" height="8.7" fill="#fff" stroke-width="1.4"/>
<path d="M1221.3,1236.8 L1221.3,1240.8 A6.6,2.7 0 0 0 1234.7,1240.8 L1234.7,1236.8 A6.6,2.7 0 0 0 1221.3,1236.8 Z" fill="#fff" stroke-width="1.5"/>
<path d="M1219.9,1240.8 L1219.9,1244.8 A8.1,3.2 0 0 0 1236.1,1244.8 L1236.1,1240.8 A8.1,3.2 0 0 0 1219.9,1240.8 Z" fill="#fff" stroke-width="1.5"/>
<path d="M1222.3,1244.8 L1222.3,1247.8 A5.7,2.3 0 0 0 1233.7,1247.8 L1233.7,1244.8 A5.7,2.3 0 0 0 1222.3,1244.8 Z" fill="#fff" stroke-width="1.5"/>
<path d="M1219.5,1247.8 L1219.5,1251.8 A8.6,3.4 0 0 0 1236.5,1251.8 L1236.5,1247.8 A8.6,3.4 0 0 0 1219.5,1247.8 Z" fill="#fff" stroke-width="1.5"/>
<path d="M1222.8,1251.8 L1222.8,1254.8 A5.2,2.1 0 0 0 1233.2,1254.8 L1233.2,1251.8 A5.2,2.1 0 0 0 1222.8,1251.8 Z" fill="#fff" stroke-width="1.5"/>
<rect x="1225" y="1254.8" width="6" height="7.9" fill="#fff" stroke-width="1.4"/>
<path d="M1240,1221 L1240,1227 A11,4.4 0 0 0 1262,1227 L1262,1221 A11,4.4 0 0 0 1240,1221 Z" fill="#fff" stroke-width="1.5"/>
<path d="M1240,1227 L1240,1233 A11,4.4 0 0 0 1262,1233 L1262,1227 A11,4.4 0 0 0 1240,1227 Z" fill="#fff" stroke-width="1.5"/>
<path d="M1240.5,1233 L1240.5,1240 A10.4,4.2 0 0 0 1261.5,1240 L1261.5,1233 A10.4,4.2 0 0 0 1240.5,1233 Z" fill="#fff" stroke-width="1.5"/>
<path d="M1245,1240 L1245,1245 A6.1,2.4 0 0 0 1257,1245 L1257,1240 A6.1,2.4 0 0 0 1245,1240 Z" fill="#fff" stroke-width="1.5"/>
<path d="M1243.3,1245 L1243.3,1249 A7.7,3.1 0 0 0 1258.7,1249 L1258.7,1245 A7.7,3.1 0 0 0 1243.3,1245 Z" fill="#fff" stroke-width="1.5"/>
<path d="M1241.7,1249 L1241.7,1253 A9.3,3.7 0 0 0 1260.3,1253 L1260.3,1249 A9.3,3.7 0 0 0 1241.7,1249 Z" fill="#fff" stroke-width="1.5"/>
<path d="M1244.4,1253 L1244.4,1256 A6.6,2.6 0 0 0 1257.6,1256 L1257.6,1253 A6.6,2.6 0 0 0 1244.4,1253 Z" fill="#fff" stroke-width="1.5"/>
<path d="M1241.1,1256 L1241.1,1260 A9.9,4 0 0 0 1260.9,1260 L1260.9,1256 A9.9,4 0 0 0 1241.1,1256 Z" fill="#fff" stroke-width="1.5"/>
<path d="M1245,1260 L1245,1263 A6.1,2.4 0 0 0 1257,1263 L1257,1260 A6.1,2.4 0 0 0 1245,1260 Z" fill="#fff" stroke-width="1.5"/>
<rect x="1248" y="1263" width="6" height="13.4" fill="#fff" stroke-width="1.4"/>
<path d="M1262.4,1232.5 L1262.4,1238.5 A11,4.4 0 0 0 1284.4,1238.5 L1284.4,1232.5 A11,4.4 0 0 0 1262.4,1232.5 Z" fill="#fff" stroke-width="1.5"/>
<path d="M1262.4,1238.5 L1262.4,1244.5 A11,4.4 0 0 0 1284.4,1244.5 L1284.4,1238.5 A11,4.4 0 0 0 1262.4,1238.5 Z" fill="#fff" stroke-width="1.5"/>
<path d="M1263,1244.5 L1263,1251.5 A10.4,4.2 0 0 0 1283.9,1251.5 L1283.9,1244.5 A10.4,4.2 0 0 0 1263,1244.5 Z" fill="#fff" stroke-width="1.5"/>
<path d="M1267.4,1251.5 L1267.4,1256.5 A6.1,2.4 0 0 0 1279.5,1256.5 L1279.5,1251.5 A6.1,2.4 0 0 0 1267.4,1251.5 Z" fill="#fff" stroke-width="1.5"/>
<path d="M1265.7,1256.5 L1265.7,1260.5 A7.7,3.1 0 0 0 1281.1,1260.5 L1281.1,1256.5 A7.7,3.1 0 0 0 1265.7,1256.5 Z" fill="#fff" stroke-width="1.5"/>
<path d="M1264.1,1260.5 L1264.1,1264.5 A9.3,3.7 0 0 0 1282.8,1264.5 L1282.8,1260.5 A9.3,3.7 0 0 0 1264.1,1260.5 Z" fill="#fff" stroke-width="1.5"/>
<path d="M1266.8,1264.5 L1266.8,1267.5 A6.6,2.6 0 0 0 1280,1267.5 L1280,1264.5 A6.6,2.6 0 0 0 1266.8,1264.5 Z" fill="#fff" stroke-width="1.5"/>
<path d="M1263.5,1267.5 L1263.5,1271.5 A9.9,4 0 0 0 1283.3,1271.5 L1283.3,1267.5 A9.9,4 0 0 0 1263.5,1267.5 Z" fill="#fff" stroke-width="1.5"/>
<path d="M1267.4,1271.5 L1267.4,1274.5 A6.1,2.4 0 0 0 1279.5,1274.5 L1279.5,1271.5 A6.1,2.4 0 0 0 1267.4,1271.5 Z" fill="#fff" stroke-width="1.5"/>
<rect x="1270.4" y="1274.5" width="6" height="14.9" fill="#fff" stroke-width="1.4"/>
<path d="M1284.7,1242.5 L1284.7,1248.5 A11,4.4 0 0 0 1306.7,1248.5 L1306.7,1242.5 A11,4.4 0 0 0 1284.7,1242.5 Z" fill="#fff" stroke-width="1.5"/>
<path d="M1284.7,1248.5 L1284.7,1254.5 A11,4.4 0 0 0 1306.7,1254.5 L1306.7,1248.5 A11,4.4 0 0 0 1284.7,1248.5 Z" fill="#fff" stroke-width="1.5"/>
<path d="M1285.2,1254.5 L1285.2,1261.5 A10.4,4.2 0 0 0 1306.2,1261.5 L1306.2,1254.5 A10.4,4.2 0 0 0 1285.2,1254.5 Z" fill="#fff" stroke-width="1.5"/>
<path d="M1289.7,1261.5 L1289.7,1266.5 A6.1,2.4 0 0 0 1301.8,1266.5 L1301.8,1261.5 A6.1,2.4 0 0 0 1289.7,1261.5 Z" fill="#fff" stroke-width="1.5"/>
<path d="M1288,1266.5 L1288,1270.5 A7.7,3.1 0 0 0 1303.4,1270.5 L1303.4,1266.5 A7.7,3.1 0 0 0 1288,1266.5 Z" fill="#fff" stroke-width="1.5"/>
<path d="M1286.4,1270.5 L1286.4,1274.5 A9.3,3.7 0 0 0 1305,1274.5 L1305,1270.5 A9.3,3.7 0 0 0 1286.4,1270.5 Z" fill="#fff" stroke-width="1.5"/>
<path d="M1289.1,1274.5 L1289.1,1277.5 A6.6,2.6 0 0 0 1302.3,1277.5 L1302.3,1274.5 A6.6,2.6 0 0 0 1289.1,1274.5 Z" fill="#fff" stroke-width="1.5"/>
<path d="M1285.8,1277.5 L1285.8,1281.5 A9.9,4 0 0 0 1305.6,1281.5 L1305.6,1277.5 A9.9,4 0 0 0 1285.8,1277.5 Z" fill="#fff" stroke-width="1.5"/>
<path d="M1289.7,1281.5 L1289.7,1284.5 A6.1,2.4 0 0 0 1301.8,1284.5 L1301.8,1281.5 A6.1,2.4 0 0 0 1289.7,1281.5 Z" fill="#fff" stroke-width="1.5"/>
<rect x="1292.7" y="1284.5" width="6" height="18.5" fill="#fff" stroke-width="1.4"/>
<path d="M1305.8,1254 L1305.8,1260 A13,5.2 0 0 0 1331.8,1260 L1331.8,1254 A13,5.2 0 0 0 1305.8,1254 Z" fill="#fff" stroke-width="1.5"/>
<path d="M1305.8,1260 L1305.8,1266 A13,5.2 0 0 0 1331.8,1266 L1331.8,1260 A13,5.2 0 0 0 1305.8,1260 Z" fill="#fff" stroke-width="1.5"/>
<path d="M1306.5,1266 L1306.5,1273 A12.3,4.9 0 0 0 1331.1,1273 L1331.1,1266 A12.3,4.9 0 0 0 1306.5,1266 Z" fill="#fff" stroke-width="1.5"/>
<path d="M1311.6,1273 L1311.6,1278 A7.2,2.9 0 0 0 1326,1278 L1326,1273 A7.2,2.9 0 0 0 1311.6,1273 Z" fill="#fff" stroke-width="1.5"/>
<path d="M1309.7,1278 L1309.7,1282 A9.1,3.6 0 0 0 1327.9,1282 L1327.9,1278 A9.1,3.6 0 0 0 1309.7,1278 Z" fill="#fff" stroke-width="1.5"/>
<path d="M1307.8,1282 L1307.8,1286 A11,4.4 0 0 0 1329.8,1286 L1329.8,1282 A11,4.4 0 0 0 1307.8,1282 Z" fill="#fff" stroke-width="1.5"/>
<path d="M1311,1286 L1311,1289 A7.8,3.1 0 0 0 1326.6,1289 L1326.6,1286 A7.8,3.1 0 0 0 1311,1286 Z" fill="#fff" stroke-width="1.5"/>
<path d="M1307.1,1289 L1307.1,1293 A11.7,4.7 0 0 0 1330.5,1293 L1330.5,1289 A11.7,4.7 0 0 0 1307.1,1289 Z" fill="#fff" stroke-width="1.5"/>
<path d="M1311.6,1293 L1311.6,1296 A7.2,2.9 0 0 0 1326,1296 L1326,1293 A7.2,2.9 0 0 0 1311.6,1293 Z" fill="#fff" stroke-width="1.5"/>
<rect x="1315.8" y="1296" width="6" height="20" fill="#fff" stroke-width="1.4"/>
<polygon points="1417.4,1029.3 1422.6,1032.3 1422.6,1092.3 1417.4,1089.3" fill="#fff" stroke-width="1.4"/>
<polygon points="1422.6,1032.3 1431.3,1027.3 1431.3,1087.3 1422.6,1092.3" fill="#fff" stroke-width="1.4"/>
<polygon points="1417.4,1029.3 1426.1,1024.3 1431.3,1027.3 1422.6,1032.3" fill="#fff" stroke-width="1.4"/>
<polygon points="1417.4,1099.4 1422.6,1102.4 1422.6,1162.4 1417.4,1159.4" fill="#fff" stroke-width="1.4"/>
<polygon points="1422.6,1102.4 1431.3,1097.4 1431.3,1157.4 1422.6,1162.4" fill="#fff" stroke-width="1.4"/>
<polygon points="1417.4,1099.4 1426.1,1094.4 1431.3,1097.4 1422.6,1102.4" fill="#fff" stroke-width="1.4"/>
<polygon points="1373,1047.5 1399.7,1032 1399.7,1197.5 1373,1182" fill="#fff" stroke-width="1.7"/>
<polygon points="1399.7,1019.8 1416.2,1027 1416.2,1187 1421.5,1184.3 1399.7,1197.5" fill="#fff" stroke-width="1.7"/>
<polyline points="1416.2,1027 1421.3,1024 1421.3,1184.3" fill="none" stroke-width="1.6"/>
<polygon points="1347.5,1022.6 1394.2,992.4 1421.3,1007.8 1421.3,1017.4 1413.8,1021.2 1413.8,1028 1399.7,1019.8 1396.3,1019 1360.6,1029.1" fill="#fff" stroke-width="1.7"/>
<polygon points="1360.6,1029.1 1396.3,1019 1396.3,1034.2 1368.8,1049.3 1360.6,1047.3" fill="#fff" stroke-width="1.7"/>
<ellipse cx="1373.5" cy="1018.5" rx="13.5" ry="8" fill="none" stroke-width="1.5"/>
<ellipse cx="1373.5" cy="1022.5" rx="6" ry="2" fill="none" stroke-width="1.3"/>
<polygon points="1352,1196.8 1390.7,1175 1400,1180 1400,1190 1352,1217" fill="#fff" stroke-width="1.6"/>
<ellipse cx="1378.3" cy="1195" rx="3" ry="3.6" fill="none" stroke-width="1.3"/>
<polygon points="1318.3,1190 1357.6,1168 1357.6,1229 1318.3,1251" fill="#fff" stroke-width="1.6"/>
<polyline points="1264,1206.5 1318.3,1238" fill="none" stroke-width="1.4"/>
<polygon points="1306.7,1145.2 1319.2,1152 1357.6,1130 1357.6,1189.8 1319.2,1211 1306.7,1204" fill="#fff" stroke-width="1.7"/>
<polyline points="1319.2,1152 1319.2,1211" fill="none" stroke-width="1.4"/>
<path d="M1337,1164 q-3,2 0,5" fill="none" stroke-width="1.2"/>
<path d="M1333,1173 q-3,2 0,5" fill="none" stroke-width="1.2"/>
<path d="M1338,1176 q-3,2 0,5" fill="none" stroke-width="1.2"/>
<path d="M1350,1174 q-3,2 0,5" fill="none" stroke-width="1.2"/>
<polygon points="1278,1186 1306.7,1170 1319.2,1176 1319.2,1183 1290,1199 1280,1199" fill="#fff" stroke-width="1.5"/>
<polygon points="1301.4,1046.2 1337,1026.6 1360.2,1031 1360.2,1138 1322.8,1159 1305,1150 1301.4,1143.4" fill="#fff" stroke-width="1.8"/>
<polyline points="1301.4,1046.2 1322.8,1051.6 1360.2,1031" fill="none" stroke-width="1.6"/>
<polyline points="1322.8,1051.6 1322.8,1152.4" fill="none" stroke-width="1.5"/>
<polyline points="1327,1049 1327,1138 1332,1150" fill="none" stroke-width="1.2"/>
<polygon points="1355.5,1049 1369.6,1044 1369.6,1104 1355.5,1110" fill="#fff" stroke-width="1.5"/>
<rect x="1359" y="1056" width="7" height="40" fill="#fff" stroke-width="1.2"/>
<rect x="1335.3" y="990" width="12.5" height="40" fill="#fff" stroke-width="1.5"/>
<ellipse cx="1341.5" cy="1031" rx="9" ry="4" fill="#fff" stroke-width="1.5"/>
</svg></body></html>
